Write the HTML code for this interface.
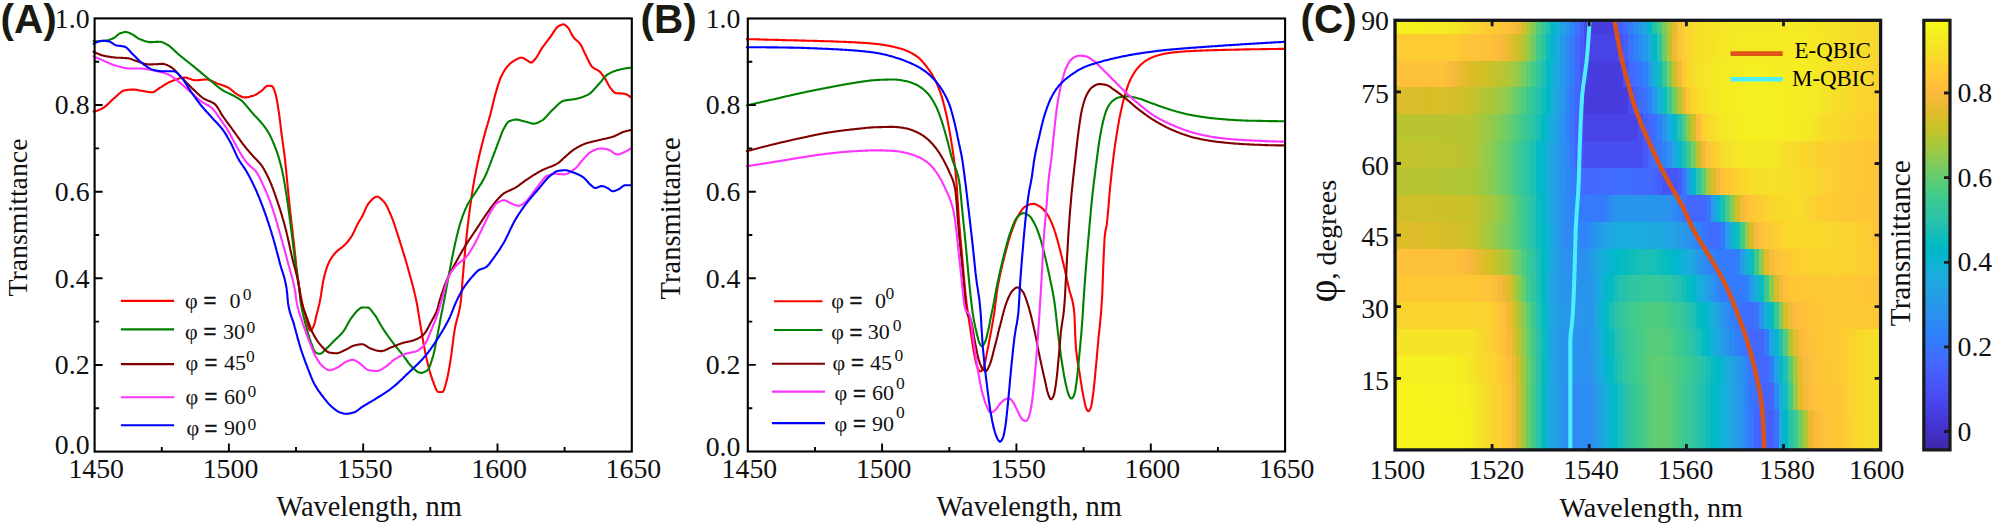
<!DOCTYPE html>
<html><head><meta charset="utf-8"><title>Figure</title>
<style>
html,body{margin:0;padding:0;background:#fff}
svg{display:block}
.tk{font-family:"Liberation Serif","DejaVu Serif",serif;font-size:27.8px;fill:#111}
.al{font-family:"Liberation Serif","DejaVu Serif",serif;font-size:28.4px;fill:#111}
.pl{font-family:"Liberation Sans","DejaVu Sans",sans-serif;font-size:40.5px;font-weight:bold;fill:#1a1a10}
.lg{font-family:"Liberation Serif","DejaVu Serif",serif;font-size:22px;fill:#111}
.eq{font-family:"Liberation Sans","DejaVu Sans",sans-serif;font-size:22px;fill:#111;stroke:#111;stroke-width:0.5px}
.sup{font-family:"Liberation Serif","DejaVu Serif",serif;font-size:17.5px;fill:#111}
.cl{font-family:"Liberation Serif","DejaVu Serif",serif;font-size:22.9px;fill:#000}
</style></head><body>
<svg width="1995" height="528" viewBox="0 0 1995 528">
<rect width="1995" height="528" fill="#fff"/>
<path d="M93.6 111.6 L94.3 111.5 L95.1 111.3 L95.8 111.1 L96.6 110.9 L97.3 110.6 L98.1 110.4 L98.8 110.0 L99.6 109.7 L100.3 109.4 L101.1 109.0 L101.8 108.6 L102.6 108.3 L103.3 107.8 L104.1 107.4 L104.8 106.8 L105.6 106.2 L106.3 105.6 L107.1 104.9 L107.8 104.2 L108.6 103.5 L109.3 102.7 L110.1 102.0 L110.8 101.2 L111.6 100.5 L112.3 99.8 L113.1 99.1 L113.8 98.5 L114.6 97.9 L115.3 97.2 L116.1 96.5 L116.8 95.8 L117.6 95.1 L118.3 94.4 L119.1 93.7 L119.8 93.1 L120.6 92.5 L121.3 91.9 L122.1 91.4 L122.8 91.0 L123.6 90.7 L124.3 90.4 L125.1 90.3 L125.8 90.2 L126.6 90.1 L127.3 90.0 L128.1 89.9 L128.8 89.8 L129.6 89.7 L130.3 89.6 L131.1 89.6 L131.8 89.6 L132.6 89.5 L133.3 89.6 L134.1 89.6 L134.8 89.6 L135.6 89.7 L136.3 89.8 L137.1 89.9 L137.8 90.1 L138.6 90.2 L139.3 90.4 L140.1 90.5 L140.8 90.7 L141.6 90.8 L142.3 90.9 L143.1 91.1 L143.8 91.2 L144.6 91.3 L145.3 91.4 L146.1 91.6 L146.8 91.7 L147.6 91.8 L148.3 91.9 L149.1 92.1 L149.8 92.1 L150.6 92.2 L151.3 92.3 L152.1 92.3 L152.8 92.2 L153.6 92.0 L154.3 91.6 L155.1 91.2 L155.8 90.7 L156.6 90.2 L157.3 89.6 L158.1 89.0 L158.8 88.5 L159.6 88.0 L160.3 87.5 L161.1 87.1 L161.8 86.6 L162.6 86.2 L163.3 85.7 L164.1 85.2 L164.8 84.7 L165.6 84.3 L166.3 83.8 L167.1 83.4 L167.8 82.9 L168.6 82.5 L169.3 82.1 L170.1 81.8 L170.8 81.5 L171.6 81.2 L172.3 80.9 L173.1 80.6 L173.8 80.3 L174.6 80.0 L175.3 79.7 L176.1 79.4 L176.8 79.2 L177.6 78.9 L178.3 78.7 L179.1 78.4 L179.8 78.2 L180.6 78.0 L181.3 77.9 L182.1 77.8 L182.8 77.7 L183.6 77.6 L184.3 77.5 L185.1 77.6 L185.8 77.6 L186.6 77.8 L187.3 77.9 L188.1 78.2 L188.8 78.4 L189.6 78.7 L190.3 79.0 L191.1 79.2 L191.8 79.5 L192.6 79.8 L193.3 80.0 L194.1 80.1 L194.8 80.2 L195.6 80.3 L196.3 80.3 L197.1 80.2 L197.8 80.2 L198.6 80.1 L199.3 80.1 L200.1 80.0 L200.8 79.9 L201.6 79.8 L202.3 79.7 L203.1 79.6 L203.8 79.6 L204.6 79.5 L205.3 79.5 L206.1 79.5 L206.8 79.5 L207.6 79.5 L208.3 79.7 L209.1 79.9 L209.8 80.1 L210.6 80.4 L211.3 80.7 L212.1 81.0 L212.8 81.4 L213.6 81.8 L214.3 82.1 L215.1 82.5 L215.8 82.9 L216.6 83.2 L217.3 83.5 L218.1 83.8 L218.8 84.0 L219.6 84.3 L220.3 84.6 L221.1 84.8 L221.8 85.0 L222.6 85.3 L223.3 85.6 L224.1 85.8 L224.8 86.1 L225.6 86.4 L226.3 86.7 L227.1 87.0 L227.8 87.4 L228.6 87.8 L229.3 88.2 L230.1 88.8 L230.8 89.3 L231.6 90.0 L232.3 90.6 L233.1 91.3 L233.8 91.9 L234.6 92.6 L235.3 93.1 L236.1 93.6 L236.8 94.1 L237.6 94.5 L238.3 95.0 L239.1 95.4 L239.8 95.8 L240.6 96.2 L241.3 96.6 L242.1 96.9 L242.8 97.2 L243.6 97.3 L244.3 97.4 L245.1 97.4 L245.8 97.4 L246.6 97.3 L247.3 97.2 L248.1 97.1 L248.8 96.9 L249.6 96.8 L250.3 96.6 L251.1 96.3 L251.8 96.1 L252.6 95.9 L253.3 95.7 L254.1 95.4 L254.8 95.1 L255.6 94.7 L256.4 94.3 L257.1 93.8 L257.9 93.3 L258.6 92.9 L259.4 92.4 L260.1 91.8 L260.9 91.3 L261.6 90.8 L262.4 90.1 L263.1 89.4 L263.9 88.6 L264.6 87.8 L265.4 87.1 L266.1 86.4 L266.9 86.0 L267.6 85.8 L268.4 85.7 L269.1 85.8 L269.9 85.9 L270.6 86.0 L271.4 86.1 L272.1 86.3 L272.9 87.0 L273.6 88.5 L274.4 90.4 L275.1 92.6 L275.9 95.1 L276.6 98.7 L277.4 102.9 L278.1 107.5 L278.9 112.4 L279.6 117.9 L280.4 124.1 L281.1 130.5 L281.9 136.3 L282.6 141.6 L283.4 146.8 L284.1 152.3 L284.9 158.3 L285.6 165.4 L286.4 173.1 L287.1 180.8 L287.9 188.5 L288.6 196.1 L289.4 203.5 L290.1 210.5 L290.9 217.2 L291.6 223.6 L292.4 229.9 L293.1 236.3 L293.9 242.8 L294.6 249.9 L295.4 257.2 L296.1 264.3 L296.9 270.7 L297.6 276.2 L298.4 281.3 L299.1 286.2 L299.9 290.7 L300.6 294.9 L301.4 298.8 L302.1 302.5 L302.9 305.9 L303.6 309.1 L304.4 312.1 L305.1 314.9 L305.9 317.5 L306.6 320.2 L307.4 323.2 L308.1 326.1 L308.9 328.6 L309.6 330.2 L310.4 330.6 L311.1 330.2 L311.9 329.3 L312.6 328.1 L313.4 326.7 L314.1 324.9 L314.9 322.2 L315.6 319.0 L316.4 315.6 L317.1 312.5 L317.9 309.7 L318.6 306.8 L319.4 303.7 L320.1 300.1 L320.9 295.7 L321.6 290.8 L322.4 285.9 L323.1 281.4 L323.9 277.9 L324.6 275.0 L325.4 272.2 L326.1 269.8 L326.9 267.5 L327.6 265.4 L328.4 263.6 L329.1 262.0 L329.9 260.5 L330.6 259.2 L331.4 258.0 L332.1 256.9 L332.9 255.9 L333.6 254.9 L334.4 254.0 L335.1 253.2 L335.9 252.3 L336.6 251.6 L337.4 250.9 L338.1 250.2 L338.9 249.6 L339.6 249.0 L340.4 248.5 L341.1 247.9 L341.9 247.4 L342.6 246.8 L343.4 246.1 L344.1 245.4 L344.9 244.7 L345.6 243.9 L346.4 243.1 L347.1 242.3 L347.9 241.4 L348.6 240.5 L349.4 239.5 L350.1 238.5 L350.9 237.4 L351.6 236.3 L352.4 234.9 L353.1 233.5 L353.9 231.9 L354.6 230.3 L355.4 228.7 L356.1 227.1 L356.9 225.5 L357.6 224.0 L358.4 222.7 L359.1 221.4 L359.9 220.2 L360.6 219.0 L361.4 217.8 L362.1 216.5 L362.9 215.0 L363.6 213.4 L364.4 211.7 L365.1 209.9 L365.9 208.2 L366.6 206.6 L367.4 205.2 L368.1 203.9 L368.9 203.0 L369.6 202.1 L370.4 201.3 L371.1 200.5 L371.9 199.7 L372.6 199.0 L373.4 198.3 L374.1 197.8 L374.9 197.3 L375.6 197.0 L376.4 196.8 L377.1 196.7 L377.9 196.8 L378.6 197.1 L379.4 197.5 L380.1 198.0 L380.9 198.7 L381.6 199.4 L382.4 200.1 L383.1 200.9 L383.9 201.7 L384.6 202.6 L385.4 203.6 L386.1 204.9 L386.9 206.3 L387.6 207.8 L388.4 209.4 L389.1 211.1 L389.9 212.8 L390.6 214.6 L391.4 216.4 L392.1 218.2 L392.9 220.1 L393.6 222.1 L394.4 224.3 L395.1 226.5 L395.9 228.8 L396.6 231.1 L397.4 233.5 L398.1 235.9 L398.9 238.3 L399.6 240.7 L400.4 243.1 L401.1 245.5 L401.9 247.8 L402.6 250.3 L403.4 252.7 L404.1 255.2 L404.9 257.6 L405.6 260.2 L406.4 262.7 L407.1 265.3 L407.9 268.0 L408.6 270.7 L409.4 273.4 L410.1 276.0 L410.9 278.7 L411.6 281.4 L412.4 284.2 L413.1 287.1 L413.9 290.1 L414.6 293.2 L415.4 296.4 L416.1 299.9 L416.9 303.5 L417.6 307.7 L418.4 312.3 L419.1 317.1 L419.9 321.8 L420.6 326.3 L421.4 330.7 L422.1 335.1 L422.9 339.5 L423.6 343.8 L424.4 348.0 L425.1 351.9 L425.9 355.5 L426.6 358.8 L427.4 361.9 L428.1 365.0 L428.9 367.9 L429.6 370.8 L430.4 373.4 L431.1 375.9 L431.9 378.2 L432.6 380.3 L433.4 382.2 L434.1 384.3 L434.9 386.3 L435.6 388.2 L436.4 389.8 L437.1 391.1 L437.9 391.8 L438.6 392.0 L439.4 392.0 L440.1 392.0 L440.9 392.0 L441.6 392.0 L442.4 392.0 L443.1 391.6 L443.9 390.2 L444.6 388.0 L445.4 385.5 L446.1 382.7 L446.9 379.9 L447.6 376.7 L448.4 372.8 L449.1 368.6 L449.9 364.1 L450.6 359.5 L451.4 354.4 L452.1 348.7 L452.9 342.7 L453.6 336.8 L454.4 331.6 L455.1 327.3 L455.9 323.8 L456.6 320.8 L457.4 318.1 L458.1 315.3 L458.9 312.4 L459.6 308.8 L460.4 304.5 L461.1 298.7 L461.9 289.4 L462.6 279.1 L463.4 270.1 L464.1 261.6 L464.9 253.3 L465.6 245.6 L466.4 238.4 L467.1 231.5 L467.9 224.9 L468.6 218.7 L469.4 212.7 L470.1 207.0 L470.9 201.6 L471.6 196.4 L472.4 191.5 L473.1 186.8 L473.9 182.4 L474.6 178.2 L475.4 174.2 L476.1 170.3 L476.9 166.7 L477.6 163.1 L478.4 159.7 L479.1 156.3 L479.9 153.1 L480.6 150.0 L481.4 146.9 L482.1 144.0 L482.9 141.1 L483.6 138.2 L484.4 135.4 L485.1 132.6 L485.9 129.9 L486.6 127.4 L487.4 124.8 L488.1 122.3 L488.9 119.7 L489.6 117.0 L490.4 114.3 L491.1 111.3 L491.9 108.2 L492.6 105.1 L493.4 101.9 L494.1 98.9 L494.9 95.9 L495.6 93.2 L496.4 90.6 L497.1 88.1 L497.9 85.6 L498.6 83.3 L499.4 81.1 L500.1 79.0 L500.9 77.2 L501.6 75.7 L502.4 74.2 L503.1 72.8 L503.9 71.5 L504.6 70.2 L505.4 69.1 L506.1 68.0 L506.9 67.0 L507.6 66.2 L508.4 65.4 L509.1 64.6 L509.9 63.9 L510.6 63.2 L511.4 62.6 L512.1 62.0 L512.9 61.5 L513.6 61.0 L514.4 60.6 L515.1 60.2 L515.9 59.7 L516.6 59.3 L517.4 58.9 L518.1 58.6 L518.9 58.2 L519.6 58.0 L520.4 57.8 L521.1 57.7 L521.9 57.7 L522.6 57.8 L523.4 58.1 L524.1 58.5 L524.9 59.0 L525.6 59.5 L526.4 60.0 L527.1 60.4 L527.9 60.9 L528.6 61.4 L529.4 61.9 L530.1 62.3 L530.9 62.5 L531.6 62.5 L532.4 62.0 L533.1 61.4 L533.9 60.5 L534.6 59.7 L535.4 58.8 L536.1 57.9 L536.9 56.8 L537.6 55.6 L538.4 54.3 L539.1 52.9 L539.9 51.6 L540.6 50.3 L541.4 49.1 L542.1 47.9 L542.9 46.9 L543.6 45.8 L544.4 44.8 L545.1 43.8 L545.9 42.8 L546.6 41.8 L547.4 40.9 L548.1 39.9 L548.9 38.9 L549.6 38.0 L550.4 37.0 L551.1 35.9 L551.9 34.7 L552.6 33.6 L553.4 32.4 L554.1 31.2 L554.9 30.1 L555.6 29.0 L556.4 28.1 L557.1 27.3 L557.9 26.6 L558.6 26.1 L559.4 25.7 L560.1 25.3 L560.9 25.0 L561.6 24.7 L562.4 24.5 L563.1 24.4 L563.9 24.4 L564.6 24.7 L565.4 25.2 L566.1 25.9 L566.9 26.6 L567.6 27.3 L568.4 28.1 L569.1 29.3 L569.9 30.6 L570.6 32.1 L571.4 33.7 L572.1 35.2 L572.9 36.4 L573.6 37.5 L574.4 38.3 L575.1 39.1 L575.9 39.8 L576.6 40.4 L577.4 41.0 L578.1 41.7 L578.9 42.4 L579.6 43.3 L580.4 44.2 L581.1 45.4 L581.9 46.9 L582.6 48.4 L583.4 50.1 L584.1 51.7 L584.9 53.3 L585.6 54.8 L586.4 56.3 L587.1 57.9 L587.9 59.4 L588.6 61.0 L589.4 62.5 L590.1 63.9 L590.9 65.2 L591.6 66.2 L592.4 67.1 L593.1 67.7 L593.9 68.2 L594.6 68.7 L595.4 69.1 L596.1 69.4 L596.9 69.8 L597.6 70.2 L598.4 70.6 L599.1 71.1 L599.9 71.8 L600.6 72.6 L601.4 73.4 L602.1 74.4 L602.9 75.4 L603.6 76.5 L604.4 77.5 L605.1 78.7 L605.9 79.9 L606.6 81.3 L607.4 82.8 L608.1 84.2 L608.9 85.6 L609.6 86.8 L610.4 87.9 L611.1 88.8 L611.9 89.8 L612.6 90.8 L613.4 91.6 L614.1 92.3 L614.9 92.8 L615.6 93.1 L616.4 93.2 L617.1 93.2 L617.9 93.3 L618.6 93.3 L619.4 93.4 L620.1 93.4 L620.9 93.4 L621.6 93.5 L622.4 93.5 L623.1 93.6 L623.9 93.6 L624.6 93.8 L625.4 94.0 L626.1 94.3 L626.9 94.6 L627.6 95.0 L628.4 95.5 L629.1 96.0 L629.9 96.5 L630.6 97.1 L631.4 97.6" fill="none" stroke="#ff0000" stroke-width="2.1" stroke-linejoin="round" stroke-linecap="round"/>
<path d="M93.6 41.3 L94.3 41.3 L95.1 41.3 L95.8 41.3 L96.6 41.2 L97.3 41.2 L98.1 41.2 L98.8 41.2 L99.6 41.1 L100.3 41.1 L101.1 41.0 L101.8 41.0 L102.6 41.0 L103.3 40.9 L104.1 40.8 L104.8 40.8 L105.6 40.7 L106.3 40.6 L107.1 40.5 L107.8 40.3 L108.6 40.1 L109.3 39.9 L110.1 39.6 L110.8 39.3 L111.6 39.0 L112.3 38.7 L113.1 38.3 L113.8 38.0 L114.6 37.6 L115.3 37.0 L116.1 36.4 L116.8 35.7 L117.6 35.1 L118.3 34.5 L119.1 33.9 L119.8 33.4 L120.6 33.1 L121.3 32.9 L122.1 32.7 L122.8 32.5 L123.6 32.3 L124.3 32.1 L125.1 32.0 L125.8 32.0 L126.6 32.0 L127.3 32.2 L128.1 32.4 L128.8 32.7 L129.6 33.0 L130.3 33.4 L131.1 33.7 L131.8 34.1 L132.6 34.5 L133.3 34.9 L134.1 35.4 L134.8 36.0 L135.6 36.5 L136.3 37.1 L137.1 37.6 L137.8 38.1 L138.6 38.6 L139.3 38.9 L140.1 39.2 L140.8 39.5 L141.6 39.8 L142.3 40.1 L143.1 40.4 L143.8 40.7 L144.6 40.9 L145.3 41.2 L146.1 41.4 L146.8 41.6 L147.6 41.8 L148.3 41.9 L149.1 42.0 L149.8 42.1 L150.6 42.1 L151.3 42.1 L152.1 42.1 L152.8 42.1 L153.6 42.0 L154.3 42.0 L155.1 42.0 L155.8 41.9 L156.6 41.9 L157.3 41.9 L158.1 41.9 L158.8 41.8 L159.6 41.8 L160.3 41.8 L161.1 41.9 L161.8 42.1 L162.6 42.3 L163.3 42.6 L164.1 43.0 L164.8 43.4 L165.6 43.8 L166.3 44.2 L167.1 44.6 L167.8 45.0 L168.6 45.5 L169.3 46.0 L170.1 46.6 L170.8 47.2 L171.6 47.9 L172.3 48.5 L173.1 49.2 L173.8 49.9 L174.6 50.7 L175.3 51.4 L176.1 52.1 L176.8 52.8 L177.6 53.5 L178.3 54.1 L179.1 54.8 L179.8 55.4 L180.6 56.0 L181.3 56.6 L182.1 57.2 L182.8 57.8 L183.6 58.4 L184.3 59.0 L185.1 59.6 L185.8 60.2 L186.6 60.8 L187.3 61.4 L188.1 62.0 L188.8 62.6 L189.6 63.2 L190.3 63.8 L191.1 64.4 L191.8 65.0 L192.6 65.6 L193.3 66.2 L194.1 66.8 L194.8 67.4 L195.6 68.0 L196.3 68.7 L197.1 69.3 L197.8 69.9 L198.6 70.5 L199.3 71.2 L200.1 71.8 L200.8 72.4 L201.6 73.1 L202.3 73.7 L203.1 74.3 L203.8 75.0 L204.6 75.6 L205.3 76.2 L206.1 76.8 L206.8 77.5 L207.6 78.1 L208.3 78.7 L209.1 79.3 L209.8 79.9 L210.6 80.6 L211.3 81.2 L212.1 81.8 L212.8 82.5 L213.6 83.1 L214.3 83.8 L215.1 84.4 L215.8 85.1 L216.6 85.7 L217.3 86.3 L218.1 86.9 L218.8 87.5 L219.6 88.1 L220.3 88.6 L221.1 89.2 L221.8 89.7 L222.6 90.2 L223.3 90.6 L224.1 91.1 L224.8 91.5 L225.6 91.9 L226.3 92.2 L227.1 92.6 L227.8 92.9 L228.6 93.3 L229.3 93.6 L230.1 94.0 L230.8 94.3 L231.6 94.7 L232.3 95.0 L233.1 95.4 L233.8 95.8 L234.6 96.2 L235.3 96.6 L236.1 97.1 L236.8 97.5 L237.6 97.9 L238.3 98.4 L239.1 98.8 L239.8 99.3 L240.6 99.9 L241.3 100.5 L242.1 101.1 L242.8 101.8 L243.6 102.6 L244.3 103.4 L245.1 104.2 L245.8 105.1 L246.6 106.0 L247.3 106.9 L248.1 107.8 L248.8 108.7 L249.6 109.6 L250.3 110.5 L251.1 111.4 L251.8 112.3 L252.6 113.2 L253.3 114.0 L254.1 114.9 L254.8 115.7 L255.6 116.5 L256.4 117.3 L257.1 118.1 L257.9 118.9 L258.6 119.7 L259.4 120.5 L260.1 121.3 L260.9 122.2 L261.6 123.1 L262.4 124.0 L263.1 124.9 L263.9 125.9 L264.6 126.9 L265.4 127.9 L266.1 128.9 L266.9 130.0 L267.6 131.2 L268.4 132.4 L269.1 133.7 L269.9 135.1 L270.6 136.6 L271.4 138.2 L272.1 139.9 L272.9 141.6 L273.6 143.5 L274.4 145.3 L275.1 147.2 L275.9 149.2 L276.6 151.2 L277.4 153.4 L278.1 155.7 L278.9 158.1 L279.6 160.7 L280.4 163.5 L281.1 166.4 L281.9 169.5 L282.6 172.9 L283.4 176.6 L284.1 180.7 L284.9 185.1 L285.6 189.8 L286.4 194.6 L287.1 199.6 L287.9 204.7 L288.6 210.1 L289.4 215.7 L290.1 221.3 L290.9 227.1 L291.6 232.9 L292.4 239.0 L293.1 245.2 L293.9 251.3 L294.6 257.3 L295.4 262.9 L296.1 267.9 L296.9 272.5 L297.6 277.2 L298.4 282.1 L299.1 287.5 L299.9 294.6 L300.6 301.8 L301.4 306.4 L302.1 310.3 L302.9 313.6 L303.6 316.7 L304.4 319.6 L305.1 322.6 L305.9 325.5 L306.6 328.4 L307.4 331.1 L308.1 333.8 L308.9 336.2 L309.6 338.5 L310.4 340.7 L311.1 342.8 L311.9 344.9 L312.6 347.0 L313.4 348.9 L314.1 350.5 L314.9 351.7 L315.6 352.4 L316.4 352.8 L317.1 353.2 L317.9 353.5 L318.6 353.7 L319.4 353.8 L320.1 353.8 L320.9 353.6 L321.6 353.1 L322.4 352.6 L323.1 351.9 L323.9 351.1 L324.6 350.3 L325.4 349.5 L326.1 348.8 L326.9 348.1 L327.6 347.4 L328.4 346.7 L329.1 345.9 L329.9 345.2 L330.6 344.4 L331.4 343.6 L332.1 342.9 L332.9 342.1 L333.6 341.3 L334.4 340.6 L335.1 339.8 L335.9 339.1 L336.6 338.4 L337.4 337.7 L338.1 337.0 L338.9 336.3 L339.6 335.6 L340.4 334.9 L341.1 334.1 L341.9 333.3 L342.6 332.4 L343.4 331.4 L344.1 330.3 L344.9 329.1 L345.6 327.9 L346.4 326.5 L347.1 325.1 L347.9 323.8 L348.6 322.4 L349.4 321.1 L350.1 319.8 L350.9 318.7 L351.6 317.7 L352.4 316.6 L353.1 315.6 L353.9 314.6 L354.6 313.7 L355.4 312.8 L356.1 311.9 L356.9 311.1 L357.6 310.4 L358.4 309.8 L359.1 309.1 L359.9 308.5 L360.6 307.9 L361.4 307.6 L362.1 307.5 L362.9 307.5 L363.6 307.5 L364.4 307.5 L365.1 307.5 L365.9 307.5 L366.6 307.5 L367.4 307.5 L368.1 307.6 L368.9 307.9 L369.6 308.5 L370.4 309.2 L371.1 310.1 L371.9 311.1 L372.6 312.1 L373.4 313.1 L374.1 314.1 L374.9 315.0 L375.6 316.1 L376.4 317.3 L377.1 318.5 L377.9 319.9 L378.6 321.2 L379.4 322.6 L380.1 323.9 L380.9 325.3 L381.6 326.5 L382.4 327.7 L383.1 328.9 L383.9 330.0 L384.6 331.2 L385.4 332.3 L386.1 333.4 L386.9 334.4 L387.6 335.5 L388.4 336.6 L389.1 337.6 L389.9 338.6 L390.6 339.7 L391.4 340.7 L392.1 341.7 L392.9 342.7 L393.6 343.6 L394.4 344.6 L395.1 345.5 L395.9 346.5 L396.6 347.4 L397.4 348.3 L398.1 349.2 L398.9 350.2 L399.6 351.1 L400.4 352.0 L401.1 352.9 L401.9 353.9 L402.6 354.8 L403.4 355.7 L404.1 356.8 L404.9 357.8 L405.6 358.8 L406.4 359.9 L407.1 361.0 L407.9 362.0 L408.6 363.1 L409.4 364.0 L410.1 365.0 L410.9 365.8 L411.6 366.6 L412.4 367.4 L413.1 368.0 L413.9 368.7 L414.6 369.4 L415.4 370.1 L416.1 370.7 L416.9 371.3 L417.6 371.8 L418.4 372.3 L419.1 372.6 L419.9 372.8 L420.6 372.9 L421.4 372.9 L422.1 372.8 L422.9 372.6 L423.6 372.3 L424.4 372.0 L425.1 371.6 L425.9 371.2 L426.6 370.8 L427.4 370.3 L428.1 369.5 L428.9 368.3 L429.6 366.6 L430.4 364.7 L431.1 362.4 L431.9 360.0 L432.6 357.6 L433.4 355.0 L434.1 351.9 L434.9 348.4 L435.6 344.6 L436.4 340.7 L437.1 337.0 L437.9 333.1 L438.6 329.1 L439.4 325.0 L440.1 320.9 L440.9 316.9 L441.6 313.0 L442.4 309.3 L443.1 305.6 L443.9 301.8 L444.6 297.9 L445.4 293.8 L446.1 289.7 L446.9 285.6 L447.6 281.5 L448.4 277.4 L449.1 273.4 L449.9 269.5 L450.6 265.6 L451.4 261.7 L452.1 257.9 L452.9 254.1 L453.6 250.5 L454.4 247.0 L455.1 243.6 L455.9 240.3 L456.6 237.1 L457.4 233.9 L458.1 230.9 L458.9 228.0 L459.6 225.4 L460.4 222.9 L461.1 220.6 L461.9 218.4 L462.6 216.2 L463.4 214.2 L464.1 212.3 L464.9 210.4 L465.6 208.7 L466.4 207.1 L467.1 205.5 L467.9 204.1 L468.6 202.8 L469.4 201.5 L470.1 200.3 L470.9 199.2 L471.6 198.0 L472.4 197.0 L473.1 195.9 L473.9 194.8 L474.6 193.7 L475.4 192.6 L476.1 191.4 L476.9 190.2 L477.6 189.0 L478.4 187.9 L479.1 186.7 L479.9 185.5 L480.6 184.4 L481.4 183.2 L482.1 181.9 L482.9 180.6 L483.6 179.3 L484.4 177.8 L485.1 176.3 L485.9 174.7 L486.6 173.0 L487.4 171.1 L488.1 169.2 L488.9 167.3 L489.6 165.3 L490.4 163.3 L491.1 161.3 L491.9 159.3 L492.6 157.4 L493.4 155.4 L494.1 153.5 L494.9 151.5 L495.6 149.5 L496.4 147.5 L497.1 145.5 L497.9 143.5 L498.6 141.6 L499.4 139.6 L500.1 137.5 L500.9 135.5 L501.6 133.5 L502.4 131.6 L503.1 129.9 L503.9 128.5 L504.6 127.2 L505.4 125.9 L506.1 124.6 L506.9 123.5 L507.6 122.5 L508.4 121.8 L509.1 121.3 L509.9 120.9 L510.6 120.7 L511.4 120.4 L512.1 120.2 L512.9 120.0 L513.6 119.8 L514.4 119.7 L515.1 119.6 L515.9 119.5 L516.6 119.6 L517.4 119.6 L518.1 119.7 L518.9 119.9 L519.6 120.0 L520.4 120.2 L521.1 120.4 L521.9 120.7 L522.6 120.9 L523.4 121.1 L524.1 121.3 L524.9 121.5 L525.6 121.7 L526.4 121.9 L527.1 122.1 L527.9 122.3 L528.6 122.6 L529.4 122.8 L530.1 123.0 L530.9 123.2 L531.6 123.4 L532.4 123.5 L533.1 123.6 L533.9 123.6 L534.6 123.6 L535.4 123.5 L536.1 123.3 L536.9 123.0 L537.6 122.7 L538.4 122.4 L539.1 122.0 L539.9 121.6 L540.6 121.2 L541.4 120.7 L542.1 120.3 L542.9 119.8 L543.6 119.3 L544.4 118.6 L545.1 117.9 L545.9 117.1 L546.6 116.3 L547.4 115.5 L548.1 114.6 L548.9 113.8 L549.6 112.9 L550.4 112.0 L551.1 111.2 L551.9 110.5 L552.6 109.7 L553.4 109.1 L554.1 108.4 L554.9 107.6 L555.6 106.9 L556.4 106.1 L557.1 105.4 L557.9 104.7 L558.6 104.0 L559.4 103.4 L560.1 102.7 L560.9 102.2 L561.6 101.7 L562.4 101.3 L563.1 101.0 L563.9 100.7 L564.6 100.5 L565.4 100.4 L566.1 100.3 L566.9 100.1 L567.6 100.0 L568.4 99.9 L569.1 99.9 L569.9 99.8 L570.6 99.7 L571.4 99.6 L572.1 99.5 L572.9 99.4 L573.6 99.3 L574.4 99.2 L575.1 99.0 L575.9 98.9 L576.6 98.7 L577.4 98.5 L578.1 98.3 L578.9 98.1 L579.6 97.9 L580.4 97.7 L581.1 97.4 L581.9 97.2 L582.6 96.9 L583.4 96.7 L584.1 96.4 L584.9 96.1 L585.6 95.8 L586.4 95.4 L587.1 95.1 L587.9 94.7 L588.6 94.3 L589.4 93.9 L590.1 93.3 L590.9 92.7 L591.6 92.0 L592.4 91.3 L593.1 90.5 L593.9 89.7 L594.6 88.8 L595.4 88.0 L596.1 87.1 L596.9 86.2 L597.6 85.4 L598.4 84.5 L599.1 83.7 L599.9 82.9 L600.6 82.0 L601.4 81.1 L602.1 80.2 L602.9 79.2 L603.6 78.3 L604.4 77.4 L605.1 76.6 L605.9 75.8 L606.6 75.2 L607.4 74.6 L608.1 74.1 L608.9 73.7 L609.6 73.3 L610.4 72.9 L611.1 72.5 L611.9 72.2 L612.6 71.8 L613.4 71.5 L614.1 71.2 L614.9 70.9 L615.6 70.7 L616.4 70.5 L617.1 70.2 L617.9 70.0 L618.6 69.9 L619.4 69.7 L620.1 69.5 L620.9 69.3 L621.6 69.2 L622.4 69.0 L623.1 68.8 L623.9 68.7 L624.6 68.5 L625.4 68.4 L626.1 68.3 L626.9 68.2 L627.6 68.1 L628.4 68.0 L629.1 67.9 L629.9 67.8 L630.6 67.8 L631.4 67.7" fill="none" stroke="#008000" stroke-width="2.1" stroke-linejoin="round" stroke-linecap="round"/>
<path d="M93.6 51.6 L94.3 52.0 L95.1 52.4 L95.8 52.8 L96.6 53.1 L97.3 53.5 L98.1 53.8 L98.8 54.1 L99.6 54.4 L100.3 54.7 L101.1 54.9 L101.8 55.2 L102.6 55.4 L103.3 55.6 L104.1 55.7 L104.8 55.9 L105.6 56.1 L106.3 56.2 L107.1 56.4 L107.8 56.5 L108.6 56.6 L109.3 56.8 L110.1 56.9 L110.8 57.0 L111.6 57.1 L112.3 57.2 L113.1 57.3 L113.8 57.4 L114.6 57.5 L115.3 57.5 L116.1 57.6 L116.8 57.7 L117.6 57.7 L118.3 57.7 L119.1 57.8 L119.8 57.8 L120.6 57.8 L121.3 57.9 L122.1 57.9 L122.8 57.9 L123.6 58.0 L124.3 58.0 L125.1 58.0 L125.8 58.1 L126.6 58.1 L127.3 58.2 L128.1 58.3 L128.8 58.4 L129.6 58.6 L130.3 58.8 L131.1 59.0 L131.8 59.3 L132.6 59.6 L133.3 59.9 L134.1 60.2 L134.8 60.5 L135.6 60.8 L136.3 61.1 L137.1 61.3 L137.8 61.6 L138.6 61.8 L139.3 62.0 L140.1 62.3 L140.8 62.5 L141.6 62.8 L142.3 63.0 L143.1 63.3 L143.8 63.5 L144.6 63.7 L145.3 63.9 L146.1 64.1 L146.8 64.2 L147.6 64.3 L148.3 64.4 L149.1 64.5 L149.8 64.5 L150.6 64.4 L151.3 64.4 L152.1 64.4 L152.8 64.4 L153.6 64.3 L154.3 64.3 L155.1 64.2 L155.8 64.2 L156.6 64.2 L157.3 64.1 L158.1 64.1 L158.8 64.0 L159.6 64.0 L160.3 64.0 L161.1 63.9 L161.8 63.9 L162.6 63.9 L163.3 63.9 L164.1 64.0 L164.8 64.2 L165.6 64.4 L166.3 64.7 L167.1 65.0 L167.8 65.4 L168.6 65.8 L169.3 66.2 L170.1 66.6 L170.8 67.0 L171.6 67.5 L172.3 68.0 L173.1 68.6 L173.8 69.3 L174.6 70.0 L175.3 70.7 L176.1 71.5 L176.8 72.4 L177.6 73.2 L178.3 74.1 L179.1 74.9 L179.8 75.8 L180.6 76.6 L181.3 77.4 L182.1 78.2 L182.8 78.9 L183.6 79.7 L184.3 80.5 L185.1 81.2 L185.8 82.0 L186.6 82.8 L187.3 83.5 L188.1 84.3 L188.8 85.0 L189.6 85.8 L190.3 86.5 L191.1 87.3 L191.8 88.0 L192.6 88.7 L193.3 89.4 L194.1 90.1 L194.8 90.8 L195.6 91.6 L196.3 92.3 L197.1 93.0 L197.8 93.7 L198.6 94.4 L199.3 95.1 L200.1 95.7 L200.8 96.4 L201.6 97.0 L202.3 97.5 L203.1 98.1 L203.8 98.6 L204.6 99.0 L205.3 99.4 L206.1 99.8 L206.8 100.1 L207.6 100.4 L208.3 100.7 L209.1 101.0 L209.8 101.3 L210.6 101.6 L211.3 102.0 L212.1 102.3 L212.8 102.8 L213.6 103.2 L214.3 103.7 L215.1 104.3 L215.8 105.1 L216.6 106.0 L217.3 107.1 L218.1 108.3 L218.8 109.5 L219.6 110.8 L220.3 112.1 L221.1 113.4 L221.8 114.6 L222.6 115.8 L223.3 116.9 L224.1 118.0 L224.8 119.0 L225.6 120.1 L226.3 121.1 L227.1 122.1 L227.8 123.2 L228.6 124.2 L229.3 125.2 L230.1 126.2 L230.8 127.2 L231.6 128.2 L232.3 129.3 L233.1 130.3 L233.8 131.3 L234.6 132.4 L235.3 133.4 L236.1 134.5 L236.8 135.5 L237.6 136.6 L238.3 137.6 L239.1 138.7 L239.8 139.7 L240.6 140.8 L241.3 141.8 L242.1 142.8 L242.8 143.8 L243.6 144.8 L244.3 145.8 L245.1 146.7 L245.8 147.7 L246.6 148.6 L247.3 149.5 L248.1 150.4 L248.8 151.2 L249.6 152.1 L250.3 153.0 L251.1 153.8 L251.8 154.7 L252.6 155.5 L253.3 156.4 L254.1 157.2 L254.8 158.0 L255.6 158.8 L256.4 159.6 L257.1 160.4 L257.9 161.1 L258.6 161.9 L259.4 162.7 L260.1 163.6 L260.9 164.5 L261.6 165.5 L262.4 166.6 L263.1 167.8 L263.9 169.1 L264.6 170.4 L265.4 171.8 L266.1 173.2 L266.9 174.7 L267.6 176.3 L268.4 177.8 L269.1 179.4 L269.9 181.1 L270.6 182.8 L271.4 184.7 L272.1 186.6 L272.9 188.5 L273.6 190.6 L274.4 192.6 L275.1 194.8 L275.9 196.9 L276.6 199.1 L277.4 201.3 L278.1 203.6 L278.9 205.8 L279.6 208.2 L280.4 210.5 L281.1 212.9 L281.9 215.4 L282.6 218.0 L283.4 220.6 L284.1 223.2 L284.9 226.0 L285.6 228.8 L286.4 231.7 L287.1 234.9 L287.9 238.2 L288.6 241.6 L289.4 245.0 L290.1 248.5 L290.9 251.9 L291.6 255.2 L292.4 258.5 L293.1 261.5 L293.9 264.4 L294.6 267.2 L295.4 270.0 L296.1 272.9 L296.9 275.9 L297.6 279.3 L298.4 283.1 L299.1 287.8 L299.9 292.9 L300.6 297.7 L301.4 301.6 L302.1 304.4 L302.9 306.9 L303.6 309.1 L304.4 311.1 L305.1 313.0 L305.9 315.0 L306.6 317.1 L307.4 319.2 L308.1 321.3 L308.9 323.4 L309.6 325.5 L310.4 327.5 L311.1 329.4 L311.9 331.2 L312.6 332.8 L313.4 334.2 L314.1 335.6 L314.9 336.9 L315.6 338.2 L316.4 339.4 L317.1 340.5 L317.9 341.6 L318.6 342.6 L319.4 343.6 L320.1 344.5 L320.9 345.4 L321.6 346.2 L322.4 347.0 L323.1 347.8 L323.9 348.6 L324.6 349.4 L325.4 350.1 L326.1 350.7 L326.9 351.3 L327.6 351.8 L328.4 352.2 L329.1 352.4 L329.9 352.6 L330.6 352.7 L331.4 352.8 L332.1 353.0 L332.9 353.1 L333.6 353.1 L334.4 353.2 L335.1 353.3 L335.9 353.3 L336.6 353.3 L337.4 353.2 L338.1 353.0 L338.9 352.8 L339.6 352.5 L340.4 352.2 L341.1 351.9 L341.9 351.5 L342.6 351.2 L343.4 350.8 L344.1 350.4 L344.9 350.1 L345.6 349.7 L346.4 349.4 L347.1 349.0 L347.9 348.6 L348.6 348.2 L349.4 347.7 L350.1 347.3 L350.9 346.9 L351.6 346.5 L352.4 346.1 L353.1 345.8 L353.9 345.6 L354.6 345.4 L355.4 345.3 L356.1 345.1 L356.9 344.9 L357.6 344.8 L358.4 344.6 L359.1 344.5 L359.9 344.4 L360.6 344.3 L361.4 344.3 L362.1 344.3 L362.9 344.4 L363.6 344.6 L364.4 344.8 L365.1 345.2 L365.9 345.6 L366.6 346.1 L367.4 346.6 L368.1 347.1 L368.9 347.6 L369.6 348.0 L370.4 348.4 L371.1 348.8 L371.9 349.0 L372.6 349.2 L373.4 349.5 L374.1 349.7 L374.9 350.0 L375.6 350.2 L376.4 350.4 L377.1 350.6 L377.9 350.7 L378.6 350.9 L379.4 351.0 L380.1 351.1 L380.9 351.1 L381.6 351.1 L382.4 351.0 L383.1 350.8 L383.9 350.6 L384.6 350.4 L385.4 350.1 L386.1 349.8 L386.9 349.4 L387.6 349.0 L388.4 348.7 L389.1 348.3 L389.9 347.9 L390.6 347.6 L391.4 347.3 L392.1 347.0 L392.9 346.7 L393.6 346.4 L394.4 346.1 L395.1 345.8 L395.9 345.5 L396.6 345.2 L397.4 344.9 L398.1 344.6 L398.9 344.3 L399.6 344.0 L400.4 343.8 L401.1 343.5 L401.9 343.2 L402.6 343.0 L403.4 342.8 L404.1 342.6 L404.9 342.4 L405.6 342.2 L406.4 342.0 L407.1 341.9 L407.9 341.7 L408.6 341.6 L409.4 341.4 L410.1 341.2 L410.9 341.1 L411.6 340.9 L412.4 340.7 L413.1 340.4 L413.9 340.2 L414.6 339.9 L415.4 339.6 L416.1 339.3 L416.9 339.0 L417.6 338.6 L418.4 338.2 L419.1 337.8 L419.9 337.3 L420.6 336.8 L421.4 336.3 L422.1 335.8 L422.9 335.2 L423.6 334.5 L424.4 333.7 L425.1 332.7 L425.9 331.6 L426.6 330.4 L427.4 329.1 L428.1 327.7 L428.9 326.3 L429.6 324.8 L430.4 323.3 L431.1 321.9 L431.9 320.5 L432.6 319.2 L433.4 317.9 L434.1 316.6 L434.9 315.1 L435.6 313.6 L436.4 311.9 L437.1 309.9 L437.9 307.2 L438.6 304.2 L439.4 301.4 L440.1 299.0 L440.9 296.6 L441.6 294.2 L442.4 292.0 L443.1 289.8 L443.9 287.7 L444.6 285.6 L445.4 283.7 L446.1 281.8 L446.9 280.0 L447.6 278.3 L448.4 276.7 L449.1 275.1 L449.9 273.6 L450.6 272.1 L451.4 270.7 L452.1 269.2 L452.9 267.9 L453.6 266.5 L454.4 265.1 L455.1 263.7 L455.9 262.3 L456.6 260.9 L457.4 259.5 L458.1 258.2 L458.9 256.8 L459.6 255.5 L460.4 254.2 L461.1 252.9 L461.9 251.6 L462.6 250.3 L463.4 249.0 L464.1 247.8 L464.9 246.5 L465.6 245.3 L466.4 244.1 L467.1 242.9 L467.9 241.8 L468.6 240.6 L469.4 239.5 L470.1 238.4 L470.9 237.3 L471.6 236.2 L472.4 235.1 L473.1 234.0 L473.9 232.9 L474.6 231.8 L475.4 230.7 L476.1 229.6 L476.9 228.4 L477.6 227.3 L478.4 226.2 L479.1 225.0 L479.9 223.9 L480.6 222.7 L481.4 221.6 L482.1 220.4 L482.9 219.3 L483.6 218.2 L484.4 217.1 L485.1 215.9 L485.9 214.8 L486.6 213.8 L487.4 212.7 L488.1 211.6 L488.9 210.6 L489.6 209.5 L490.4 208.5 L491.1 207.4 L491.9 206.4 L492.6 205.4 L493.4 204.4 L494.1 203.5 L494.9 202.6 L495.6 201.7 L496.4 200.8 L497.1 200.0 L497.9 199.1 L498.6 198.3 L499.4 197.5 L500.1 196.7 L500.9 195.9 L501.6 195.2 L502.4 194.6 L503.1 194.0 L503.9 193.4 L504.6 192.9 L505.4 192.5 L506.1 192.1 L506.9 191.7 L507.6 191.3 L508.4 191.0 L509.1 190.7 L509.9 190.3 L510.6 190.0 L511.4 189.7 L512.1 189.3 L512.9 189.0 L513.6 188.6 L514.4 188.2 L515.1 187.8 L515.9 187.3 L516.6 186.8 L517.4 186.3 L518.1 185.8 L518.9 185.3 L519.6 184.8 L520.4 184.2 L521.1 183.7 L521.9 183.1 L522.6 182.6 L523.4 182.0 L524.1 181.4 L524.9 180.9 L525.6 180.3 L526.4 179.8 L527.1 179.3 L527.9 178.8 L528.6 178.3 L529.4 177.8 L530.1 177.3 L530.9 176.9 L531.6 176.4 L532.4 175.9 L533.1 175.4 L533.9 175.0 L534.6 174.5 L535.4 174.0 L536.1 173.6 L536.9 173.1 L537.6 172.7 L538.4 172.3 L539.1 171.8 L539.9 171.4 L540.6 171.0 L541.4 170.6 L542.1 170.2 L542.9 169.8 L543.6 169.5 L544.4 169.2 L545.1 168.8 L545.9 168.5 L546.6 168.2 L547.4 167.9 L548.1 167.6 L548.9 167.3 L549.6 167.1 L550.4 166.8 L551.1 166.5 L551.9 166.2 L552.6 165.9 L553.4 165.5 L554.1 165.2 L554.9 164.9 L555.6 164.5 L556.4 164.1 L557.1 163.7 L557.9 163.2 L558.6 162.8 L559.4 162.2 L560.1 161.5 L560.9 160.8 L561.6 160.1 L562.4 159.4 L563.1 158.6 L563.9 158.0 L564.6 157.3 L565.4 156.7 L566.1 156.0 L566.9 155.3 L567.6 154.6 L568.4 154.0 L569.1 153.3 L569.9 152.7 L570.6 152.0 L571.4 151.4 L572.1 150.8 L572.9 150.3 L573.6 149.7 L574.4 149.2 L575.1 148.8 L575.9 148.3 L576.6 147.9 L577.4 147.4 L578.1 147.0 L578.9 146.6 L579.6 146.2 L580.4 145.8 L581.1 145.4 L581.9 145.1 L582.6 144.7 L583.4 144.4 L584.1 144.1 L584.9 143.8 L585.6 143.6 L586.4 143.3 L587.1 143.1 L587.9 142.8 L588.6 142.6 L589.4 142.4 L590.1 142.2 L590.9 142.0 L591.6 141.8 L592.4 141.6 L593.1 141.5 L593.9 141.3 L594.6 141.1 L595.4 140.9 L596.1 140.8 L596.9 140.6 L597.6 140.4 L598.4 140.2 L599.1 140.0 L599.9 139.9 L600.6 139.7 L601.4 139.5 L602.1 139.3 L602.9 139.2 L603.6 139.0 L604.4 138.9 L605.1 138.7 L605.9 138.5 L606.6 138.4 L607.4 138.2 L608.1 138.0 L608.9 137.8 L609.6 137.7 L610.4 137.5 L611.1 137.3 L611.9 137.0 L612.6 136.8 L613.4 136.6 L614.1 136.3 L614.9 136.0 L615.6 135.6 L616.4 135.3 L617.1 134.9 L617.9 134.5 L618.6 134.1 L619.4 133.7 L620.1 133.4 L620.9 133.0 L621.6 132.7 L622.4 132.3 L623.1 132.1 L623.9 131.8 L624.6 131.6 L625.4 131.4 L626.1 131.1 L626.9 130.9 L627.6 130.8 L628.4 130.6 L629.1 130.4 L629.9 130.3 L630.6 130.1 L631.4 130.0" fill="none" stroke="#800000" stroke-width="2.1" stroke-linejoin="round" stroke-linecap="round"/>
<path d="M93.6 56.3 L94.3 56.6 L95.1 57.0 L95.8 57.3 L96.6 57.6 L97.3 58.0 L98.1 58.3 L98.8 58.6 L99.6 58.9 L100.3 59.3 L101.1 59.6 L101.8 59.9 L102.6 60.2 L103.3 60.5 L104.1 60.9 L104.8 61.2 L105.6 61.5 L106.3 61.9 L107.1 62.2 L107.8 62.5 L108.6 62.9 L109.3 63.2 L110.1 63.5 L110.8 63.8 L111.6 64.1 L112.3 64.4 L113.1 64.7 L113.8 65.0 L114.6 65.2 L115.3 65.5 L116.1 65.7 L116.8 65.9 L117.6 66.1 L118.3 66.3 L119.1 66.5 L119.8 66.7 L120.6 66.9 L121.3 67.1 L122.1 67.3 L122.8 67.5 L123.6 67.7 L124.3 67.9 L125.1 68.0 L125.8 68.1 L126.6 68.3 L127.3 68.4 L128.1 68.4 L128.8 68.5 L129.6 68.5 L130.3 68.5 L131.1 68.5 L131.8 68.5 L132.6 68.5 L133.3 68.5 L134.1 68.5 L134.8 68.5 L135.6 68.5 L136.3 68.5 L137.1 68.5 L137.8 68.5 L138.6 68.5 L139.3 68.5 L140.1 68.5 L140.8 68.5 L141.6 68.6 L142.3 68.6 L143.1 68.6 L143.8 68.7 L144.6 68.8 L145.3 68.9 L146.1 69.0 L146.8 69.1 L147.6 69.2 L148.3 69.4 L149.1 69.5 L149.8 69.7 L150.6 69.8 L151.3 70.0 L152.1 70.2 L152.8 70.3 L153.6 70.5 L154.3 70.6 L155.1 70.8 L155.8 71.0 L156.6 71.1 L157.3 71.3 L158.1 71.4 L158.8 71.6 L159.6 71.8 L160.3 72.0 L161.1 72.2 L161.8 72.4 L162.6 72.6 L163.3 72.8 L164.1 73.0 L164.8 73.3 L165.6 73.5 L166.3 73.8 L167.1 74.1 L167.8 74.3 L168.6 74.6 L169.3 75.0 L170.1 75.4 L170.8 75.8 L171.6 76.3 L172.3 76.8 L173.1 77.3 L173.8 77.9 L174.6 78.5 L175.3 79.0 L176.1 79.6 L176.8 80.2 L177.6 80.9 L178.3 81.5 L179.1 82.0 L179.8 82.6 L180.6 83.2 L181.3 83.9 L182.1 84.5 L182.8 85.2 L183.6 85.8 L184.3 86.5 L185.1 87.2 L185.8 87.8 L186.6 88.5 L187.3 89.2 L188.1 89.9 L188.8 90.5 L189.6 91.2 L190.3 91.9 L191.1 92.5 L191.8 93.2 L192.6 93.9 L193.3 94.6 L194.1 95.3 L194.8 96.0 L195.6 96.7 L196.3 97.3 L197.1 98.0 L197.8 98.7 L198.6 99.3 L199.3 99.9 L200.1 100.5 L200.8 101.1 L201.6 101.6 L202.3 102.1 L203.1 102.6 L203.8 103.0 L204.6 103.4 L205.3 103.9 L206.1 104.3 L206.8 104.7 L207.6 105.1 L208.3 105.5 L209.1 106.0 L209.8 106.4 L210.6 107.0 L211.3 107.5 L212.1 108.2 L212.8 108.9 L213.6 109.7 L214.3 110.6 L215.1 111.6 L215.8 112.6 L216.6 113.7 L217.3 114.8 L218.1 115.9 L218.8 117.1 L219.6 118.2 L220.3 119.2 L221.1 120.3 L221.8 121.4 L222.6 122.4 L223.3 123.5 L224.1 124.6 L224.8 125.8 L225.6 126.9 L226.3 128.0 L227.1 129.2 L227.8 130.4 L228.6 131.7 L229.3 132.9 L230.1 134.3 L230.8 135.6 L231.6 137.0 L232.3 138.5 L233.1 139.9 L233.8 141.3 L234.6 142.7 L235.3 144.1 L236.1 145.5 L236.8 146.8 L237.6 148.2 L238.3 149.5 L239.1 150.9 L239.8 152.2 L240.6 153.6 L241.3 154.8 L242.1 156.1 L242.8 157.2 L243.6 158.3 L244.3 159.4 L245.1 160.4 L245.8 161.4 L246.6 162.3 L247.3 163.2 L248.1 164.0 L248.8 164.9 L249.6 165.6 L250.3 166.3 L251.1 166.9 L251.8 167.5 L252.6 168.1 L253.3 168.8 L254.1 169.4 L254.8 170.2 L255.6 171.0 L256.4 172.0 L257.1 173.2 L257.9 174.4 L258.6 175.7 L259.4 177.2 L260.1 178.7 L260.9 180.2 L261.6 181.8 L262.4 183.4 L263.1 185.1 L263.9 186.7 L264.6 188.4 L265.4 190.0 L266.1 191.8 L266.9 193.6 L267.6 195.4 L268.4 197.3 L269.1 199.2 L269.9 201.2 L270.6 203.2 L271.4 205.3 L272.1 207.4 L272.9 209.6 L273.6 211.9 L274.4 214.3 L275.1 216.7 L275.9 219.3 L276.6 221.8 L277.4 224.4 L278.1 227.1 L278.9 229.7 L279.6 232.3 L280.4 235.0 L281.1 237.6 L281.9 240.3 L282.6 242.9 L283.4 245.7 L284.1 248.4 L284.9 251.1 L285.6 253.9 L286.4 256.7 L287.1 259.6 L287.9 262.4 L288.6 265.3 L289.4 268.0 L290.1 270.6 L290.9 273.2 L291.6 275.8 L292.4 278.6 L293.1 281.6 L293.9 284.9 L294.6 288.5 L295.4 292.7 L296.1 298.9 L296.9 303.5 L297.6 306.9 L298.4 309.8 L299.1 312.4 L299.9 314.7 L300.6 316.9 L301.4 319.1 L302.1 321.4 L302.9 323.7 L303.6 325.9 L304.4 328.1 L305.1 330.2 L305.9 332.3 L306.6 334.4 L307.4 336.4 L308.1 338.3 L308.9 340.3 L309.6 342.2 L310.4 344.2 L311.1 346.2 L311.9 348.1 L312.6 350.0 L313.4 351.8 L314.1 353.5 L314.9 355.1 L315.6 356.5 L316.4 357.8 L317.1 359.1 L317.9 360.3 L318.6 361.5 L319.4 362.5 L320.1 363.6 L320.9 364.5 L321.6 365.3 L322.4 366.0 L323.1 366.6 L323.9 367.3 L324.6 367.9 L325.4 368.5 L326.1 369.0 L326.9 369.5 L327.6 369.8 L328.4 370.1 L329.1 370.2 L329.9 370.2 L330.6 370.1 L331.4 369.9 L332.1 369.7 L332.9 369.5 L333.6 369.2 L334.4 368.9 L335.1 368.5 L335.9 368.2 L336.6 367.8 L337.4 367.5 L338.1 367.1 L338.9 366.7 L339.6 366.2 L340.4 365.6 L341.1 365.1 L341.9 364.5 L342.6 363.9 L343.4 363.3 L344.1 362.8 L344.9 362.4 L345.6 362.0 L346.4 361.7 L347.1 361.4 L347.9 361.0 L348.6 360.7 L349.4 360.4 L350.1 360.2 L350.9 360.0 L351.6 359.9 L352.4 359.8 L353.1 359.9 L353.9 360.0 L354.6 360.3 L355.4 360.6 L356.1 361.0 L356.9 361.4 L357.6 361.8 L358.4 362.3 L359.1 362.8 L359.9 363.4 L360.6 364.1 L361.4 364.7 L362.1 365.3 L362.9 366.0 L363.6 366.6 L364.4 367.3 L365.1 368.0 L365.9 368.6 L366.6 369.1 L367.4 369.6 L368.1 370.0 L368.9 370.2 L369.6 370.3 L370.4 370.4 L371.1 370.5 L371.9 370.7 L372.6 370.7 L373.4 370.8 L374.1 370.9 L374.9 370.9 L375.6 371.0 L376.4 371.0 L377.1 371.0 L377.9 370.9 L378.6 370.8 L379.4 370.5 L380.1 370.2 L380.9 369.8 L381.6 369.4 L382.4 368.9 L383.1 368.4 L383.9 367.9 L384.6 367.4 L385.4 366.9 L386.1 366.4 L386.9 365.9 L387.6 365.3 L388.4 364.7 L389.1 364.1 L389.9 363.4 L390.6 362.7 L391.4 362.0 L392.1 361.3 L392.9 360.7 L393.6 360.1 L394.4 359.5 L395.1 359.0 L395.9 358.6 L396.6 358.1 L397.4 357.7 L398.1 357.3 L398.9 356.8 L399.6 356.4 L400.4 356.1 L401.1 355.7 L401.9 355.3 L402.6 355.0 L403.4 354.7 L404.1 354.4 L404.9 354.1 L405.6 353.8 L406.4 353.6 L407.1 353.4 L407.9 353.2 L408.6 353.0 L409.4 352.9 L410.1 352.7 L410.9 352.6 L411.6 352.4 L412.4 352.3 L413.1 352.1 L413.9 351.9 L414.6 351.7 L415.4 351.5 L416.1 351.3 L416.9 351.0 L417.6 350.6 L418.4 350.2 L419.1 349.7 L419.9 349.2 L420.6 348.6 L421.4 347.9 L422.1 347.2 L422.9 346.4 L423.6 345.6 L424.4 344.7 L425.1 343.8 L425.9 342.6 L426.6 341.2 L427.4 339.6 L428.1 337.8 L428.9 336.0 L429.6 334.1 L430.4 332.2 L431.1 330.3 L431.9 328.6 L432.6 326.8 L433.4 325.0 L434.1 323.2 L434.9 321.4 L435.6 319.5 L436.4 317.5 L437.1 315.3 L437.9 313.0 L438.6 310.6 L439.4 308.0 L440.1 305.4 L440.9 302.8 L441.6 300.3 L442.4 297.6 L443.1 294.9 L443.9 292.1 L444.6 289.3 L445.4 286.6 L446.1 284.0 L446.9 281.5 L447.6 279.3 L448.4 277.3 L449.1 275.6 L449.9 274.2 L450.6 272.9 L451.4 271.7 L452.1 270.6 L452.9 269.6 L453.6 268.6 L454.4 267.7 L455.1 266.9 L455.9 266.0 L456.6 265.2 L457.4 264.5 L458.1 263.7 L458.9 263.1 L459.6 262.4 L460.4 261.9 L461.1 261.3 L461.9 260.8 L462.6 260.2 L463.4 259.6 L464.1 259.0 L464.9 258.3 L465.6 257.6 L466.4 256.7 L467.1 255.8 L467.9 254.8 L468.6 253.8 L469.4 252.6 L470.1 251.5 L470.9 250.3 L471.6 249.0 L472.4 247.8 L473.1 246.5 L473.9 245.2 L474.6 243.9 L475.4 242.5 L476.1 241.0 L476.9 239.5 L477.6 238.0 L478.4 236.5 L479.1 234.9 L479.9 233.3 L480.6 231.8 L481.4 230.2 L482.1 228.7 L482.9 227.2 L483.6 225.6 L484.4 224.0 L485.1 222.4 L485.9 220.9 L486.6 219.3 L487.4 217.8 L488.1 216.3 L488.9 214.9 L489.6 213.5 L490.4 212.3 L491.1 211.0 L491.9 209.7 L492.6 208.5 L493.4 207.3 L494.1 206.1 L494.9 205.1 L495.6 204.2 L496.4 203.5 L497.1 202.9 L497.9 202.5 L498.6 202.0 L499.4 201.6 L500.1 201.2 L500.9 200.9 L501.6 200.6 L502.4 200.4 L503.1 200.3 L503.9 200.3 L504.6 200.3 L505.4 200.5 L506.1 200.8 L506.9 201.1 L507.6 201.5 L508.4 202.0 L509.1 202.4 L509.9 202.8 L510.6 203.2 L511.4 203.6 L512.1 203.9 L512.9 204.1 L513.6 204.4 L514.4 204.7 L515.1 205.0 L515.9 205.2 L516.6 205.4 L517.4 205.6 L518.1 205.7 L518.9 205.7 L519.6 205.6 L520.4 205.4 L521.1 205.1 L521.9 204.6 L522.6 204.1 L523.4 203.5 L524.1 202.9 L524.9 202.3 L525.6 201.7 L526.4 201.0 L527.1 200.3 L527.9 199.5 L528.6 198.6 L529.4 197.7 L530.1 196.7 L530.9 195.7 L531.6 194.6 L532.4 193.6 L533.1 192.5 L533.9 191.5 L534.6 190.5 L535.4 189.5 L536.1 188.5 L536.9 187.6 L537.6 186.7 L538.4 185.7 L539.1 184.7 L539.9 183.7 L540.6 182.6 L541.4 181.6 L542.1 180.6 L542.9 179.7 L543.6 178.8 L544.4 178.0 L545.1 177.3 L545.9 176.6 L546.6 176.1 L547.4 175.8 L548.1 175.5 L548.9 175.2 L549.6 175.0 L550.4 174.7 L551.1 174.5 L551.9 174.3 L552.6 174.1 L553.4 174.0 L554.1 173.9 L554.9 173.8 L555.6 173.8 L556.4 173.8 L557.1 173.9 L557.9 173.9 L558.6 174.0 L559.4 174.1 L560.1 174.1 L560.9 174.2 L561.6 174.3 L562.4 174.3 L563.1 174.4 L563.9 174.4 L564.6 174.3 L565.4 174.2 L566.1 174.0 L566.9 173.8 L567.6 173.5 L568.4 173.1 L569.1 172.7 L569.9 172.3 L570.6 171.8 L571.4 171.3 L572.1 170.8 L572.9 170.2 L573.6 169.7 L574.4 169.2 L575.1 168.6 L575.9 168.0 L576.6 167.3 L577.4 166.4 L578.1 165.6 L578.9 164.7 L579.6 163.7 L580.4 162.7 L581.1 161.7 L581.9 160.8 L582.6 159.9 L583.4 159.0 L584.1 158.2 L584.9 157.4 L585.6 156.6 L586.4 155.8 L587.1 155.0 L587.9 154.3 L588.6 153.6 L589.4 152.9 L590.1 152.3 L590.9 151.9 L591.6 151.5 L592.4 151.1 L593.1 150.7 L593.9 150.3 L594.6 150.0 L595.4 149.7 L596.1 149.4 L596.9 149.1 L597.6 148.9 L598.4 148.7 L599.1 148.6 L599.9 148.5 L600.6 148.5 L601.4 148.5 L602.1 148.5 L602.9 148.6 L603.6 148.7 L604.4 148.8 L605.1 148.9 L605.9 149.1 L606.6 149.3 L607.4 149.4 L608.1 149.6 L608.9 149.8 L609.6 150.1 L610.4 150.5 L611.1 151.0 L611.9 151.6 L612.6 152.2 L613.4 152.7 L614.1 153.3 L614.9 153.8 L615.6 154.1 L616.4 154.4 L617.1 154.5 L617.9 154.4 L618.6 154.3 L619.4 154.1 L620.1 153.9 L620.9 153.6 L621.6 153.3 L622.4 153.0 L623.1 152.7 L623.9 152.3 L624.6 152.0 L625.4 151.7 L626.1 151.3 L626.9 150.9 L627.6 150.5 L628.4 150.0 L629.1 149.5 L629.9 149.0 L630.6 148.5 L631.4 148.0" fill="none" stroke="#ff33ff" stroke-width="2.1" stroke-linejoin="round" stroke-linecap="round"/>
<path d="M93.6 44.0 L94.3 43.5 L95.1 43.1 L95.8 42.7 L96.6 42.3 L97.3 42.0 L98.1 41.7 L98.8 41.4 L99.6 41.2 L100.3 41.0 L101.1 40.9 L101.8 40.8 L102.6 40.7 L103.3 40.7 L104.1 40.8 L104.8 40.8 L105.6 40.9 L106.3 41.0 L107.1 41.1 L107.8 41.2 L108.6 41.3 L109.3 41.5 L110.1 41.8 L110.8 42.2 L111.6 42.7 L112.3 43.2 L113.1 43.6 L113.8 44.1 L114.6 44.6 L115.3 44.9 L116.1 45.2 L116.8 45.4 L117.6 45.6 L118.3 45.7 L119.1 45.8 L119.8 45.9 L120.6 46.0 L121.3 46.1 L122.1 46.2 L122.8 46.3 L123.6 46.5 L124.3 46.6 L125.1 46.9 L125.8 47.2 L126.6 47.8 L127.3 48.4 L128.1 49.1 L128.8 49.9 L129.6 50.8 L130.3 51.6 L131.1 52.5 L131.8 53.3 L132.6 54.1 L133.3 54.8 L134.1 55.5 L134.8 56.2 L135.6 57.0 L136.3 57.7 L137.1 58.5 L137.8 59.2 L138.6 59.9 L139.3 60.7 L140.1 61.4 L140.8 62.1 L141.6 62.7 L142.3 63.3 L143.1 63.9 L143.8 64.5 L144.6 65.0 L145.3 65.5 L146.1 66.1 L146.8 66.6 L147.6 67.1 L148.3 67.6 L149.1 68.1 L149.8 68.5 L150.6 68.9 L151.3 69.2 L152.1 69.5 L152.8 69.8 L153.6 70.0 L154.3 70.1 L155.1 70.3 L155.8 70.4 L156.6 70.6 L157.3 70.7 L158.1 70.9 L158.8 71.0 L159.6 71.1 L160.3 71.1 L161.1 71.2 L161.8 71.2 L162.6 71.3 L163.3 71.3 L164.1 71.3 L164.8 71.3 L165.6 71.3 L166.3 71.3 L167.1 71.3 L167.8 71.3 L168.6 71.3 L169.3 71.3 L170.1 71.3 L170.8 71.3 L171.6 71.3 L172.3 71.3 L173.1 71.3 L173.8 71.3 L174.6 71.4 L175.3 71.7 L176.1 72.1 L176.8 72.6 L177.6 73.3 L178.3 74.0 L179.1 74.8 L179.8 75.7 L180.6 76.5 L181.3 77.4 L182.1 78.2 L182.8 79.1 L183.6 80.1 L184.3 81.1 L185.1 82.3 L185.8 83.5 L186.6 84.7 L187.3 85.9 L188.1 87.1 L188.8 88.3 L189.6 89.5 L190.3 90.6 L191.1 91.7 L191.8 92.8 L192.6 93.8 L193.3 94.9 L194.1 96.0 L194.8 97.0 L195.6 98.1 L196.3 99.1 L197.1 100.2 L197.8 101.2 L198.6 102.2 L199.3 103.2 L200.1 104.1 L200.8 105.1 L201.6 106.0 L202.3 106.9 L203.1 107.8 L203.8 108.6 L204.6 109.5 L205.3 110.3 L206.1 111.2 L206.8 112.0 L207.6 112.8 L208.3 113.6 L209.1 114.4 L209.8 115.3 L210.6 116.1 L211.3 116.9 L212.1 117.7 L212.8 118.6 L213.6 119.4 L214.3 120.2 L215.1 121.0 L215.8 121.8 L216.6 122.6 L217.3 123.3 L218.1 124.2 L218.8 125.0 L219.6 125.8 L220.3 126.7 L221.1 127.6 L221.8 128.5 L222.6 129.5 L223.3 130.5 L224.1 131.6 L224.8 132.7 L225.6 133.9 L226.3 135.1 L227.1 136.4 L227.8 137.7 L228.6 139.0 L229.3 140.3 L230.1 141.7 L230.8 143.1 L231.6 144.5 L232.3 146.1 L233.1 147.7 L233.8 149.4 L234.6 151.0 L235.3 152.7 L236.1 154.4 L236.8 155.9 L237.6 157.4 L238.3 158.8 L239.1 160.1 L239.8 161.3 L240.6 162.5 L241.3 163.6 L242.1 164.7 L242.8 165.8 L243.6 166.9 L244.3 168.0 L245.1 169.2 L245.8 170.3 L246.6 171.5 L247.3 172.8 L248.1 174.2 L248.8 175.5 L249.6 176.9 L250.3 178.4 L251.1 179.8 L251.8 181.3 L252.6 182.9 L253.3 184.4 L254.1 186.0 L254.8 187.6 L255.6 189.3 L256.4 191.0 L257.1 192.7 L257.9 194.5 L258.6 196.3 L259.4 198.1 L260.1 200.0 L260.9 201.9 L261.6 203.9 L262.4 205.9 L263.1 207.9 L263.9 209.9 L264.6 212.0 L265.4 214.1 L266.1 216.2 L266.9 218.4 L267.6 220.6 L268.4 222.8 L269.1 225.1 L269.9 227.5 L270.6 229.8 L271.4 232.2 L272.1 234.7 L272.9 237.2 L273.6 239.8 L274.4 242.5 L275.1 245.2 L275.9 247.9 L276.6 250.7 L277.4 253.6 L278.1 256.4 L278.9 259.3 L279.6 262.1 L280.4 265.0 L281.1 267.6 L281.9 269.9 L282.6 272.2 L283.4 274.5 L284.1 277.0 L284.9 279.9 L285.6 283.3 L286.4 287.4 L287.1 292.6 L287.9 302.2 L288.6 306.6 L289.4 310.1 L290.1 312.9 L290.9 315.2 L291.6 317.3 L292.4 319.3 L293.1 321.4 L293.9 323.9 L294.6 326.7 L295.4 329.5 L296.1 332.3 L296.9 335.1 L297.6 337.9 L298.4 340.6 L299.1 343.3 L299.9 345.8 L300.6 348.3 L301.4 350.6 L302.1 352.8 L302.9 355.0 L303.6 357.2 L304.4 359.2 L305.1 361.3 L305.9 363.3 L306.6 365.2 L307.4 367.2 L308.1 369.1 L308.9 371.1 L309.6 373.0 L310.4 375.0 L311.1 376.8 L311.9 378.7 L312.6 380.4 L313.4 382.0 L314.1 383.5 L314.9 384.9 L315.6 386.2 L316.4 387.4 L317.1 388.6 L317.9 389.8 L318.6 390.9 L319.4 391.9 L320.1 393.0 L320.9 394.0 L321.6 395.0 L322.4 396.0 L323.1 396.9 L323.9 397.9 L324.6 398.9 L325.4 399.8 L326.1 400.7 L326.9 401.7 L327.6 402.5 L328.4 403.4 L329.1 404.2 L329.9 405.0 L330.6 405.7 L331.4 406.4 L332.1 407.1 L332.9 407.7 L333.6 408.3 L334.4 408.9 L335.1 409.5 L335.9 410.1 L336.6 410.6 L337.4 411.1 L338.1 411.5 L338.9 411.9 L339.6 412.2 L340.4 412.5 L341.1 412.8 L341.9 413.0 L342.6 413.3 L343.4 413.5 L344.1 413.7 L344.9 413.8 L345.6 413.8 L346.4 413.8 L347.1 413.8 L347.9 413.7 L348.6 413.6 L349.4 413.5 L350.1 413.3 L350.9 413.2 L351.6 413.0 L352.4 412.8 L353.1 412.6 L353.9 412.4 L354.6 412.2 L355.4 411.8 L356.1 411.4 L356.9 410.9 L357.6 410.3 L358.4 409.8 L359.1 409.2 L359.9 408.6 L360.6 408.0 L361.4 407.4 L362.1 406.9 L362.9 406.5 L363.6 406.0 L364.4 405.5 L365.1 405.1 L365.9 404.6 L366.6 404.2 L367.4 403.8 L368.1 403.3 L368.9 402.9 L369.6 402.4 L370.4 402.0 L371.1 401.6 L371.9 401.1 L372.6 400.7 L373.4 400.2 L374.1 399.8 L374.9 399.3 L375.6 398.8 L376.4 398.4 L377.1 397.9 L377.9 397.4 L378.6 397.0 L379.4 396.5 L380.1 396.0 L380.9 395.5 L381.6 395.1 L382.4 394.6 L383.1 394.1 L383.9 393.6 L384.6 393.1 L385.4 392.6 L386.1 392.1 L386.9 391.6 L387.6 391.1 L388.4 390.6 L389.1 390.1 L389.9 389.5 L390.6 389.0 L391.4 388.4 L392.1 387.8 L392.9 387.2 L393.6 386.6 L394.4 386.0 L395.1 385.4 L395.9 384.7 L396.6 384.1 L397.4 383.4 L398.1 382.7 L398.9 382.0 L399.6 381.3 L400.4 380.6 L401.1 379.9 L401.9 379.2 L402.6 378.5 L403.4 377.8 L404.1 377.0 L404.9 376.3 L405.6 375.6 L406.4 374.8 L407.1 374.1 L407.9 373.4 L408.6 372.7 L409.4 372.0 L410.1 371.3 L410.9 370.6 L411.6 369.9 L412.4 369.1 L413.1 368.4 L413.9 367.7 L414.6 367.0 L415.4 366.3 L416.1 365.6 L416.9 364.9 L417.6 364.1 L418.4 363.4 L419.1 362.6 L419.9 361.9 L420.6 361.1 L421.4 360.3 L422.1 359.5 L422.9 358.7 L423.6 357.8 L424.4 357.0 L425.1 356.1 L425.9 355.2 L426.6 354.3 L427.4 353.3 L428.1 352.4 L428.9 351.4 L429.6 350.4 L430.4 349.3 L431.1 348.3 L431.9 347.2 L432.6 346.2 L433.4 345.1 L434.1 344.0 L434.9 342.8 L435.6 341.7 L436.4 340.6 L437.1 339.4 L437.9 338.3 L438.6 337.1 L439.4 335.9 L440.1 334.7 L440.9 333.5 L441.6 332.3 L442.4 331.1 L443.1 329.8 L443.9 328.5 L444.6 327.2 L445.4 325.9 L446.1 324.5 L446.9 323.1 L447.6 321.7 L448.4 320.2 L449.1 318.7 L449.9 317.1 L450.6 315.4 L451.4 313.6 L452.1 311.7 L452.9 309.8 L453.6 307.9 L454.4 306.0 L455.1 304.2 L455.9 302.5 L456.6 300.9 L457.4 299.3 L458.1 297.8 L458.9 296.3 L459.6 294.8 L460.4 293.4 L461.1 292.0 L461.9 290.7 L462.6 289.4 L463.4 288.2 L464.1 287.1 L464.9 286.0 L465.6 284.9 L466.4 283.9 L467.1 282.9 L467.9 281.9 L468.6 281.0 L469.4 280.0 L470.1 279.1 L470.9 278.3 L471.6 277.4 L472.4 276.5 L473.1 275.7 L473.9 274.8 L474.6 274.0 L475.4 273.1 L476.1 272.4 L476.9 271.6 L477.6 271.0 L478.4 270.4 L479.1 269.9 L479.9 269.5 L480.6 269.2 L481.4 268.9 L482.1 268.7 L482.9 268.4 L483.6 268.2 L484.4 267.9 L485.1 267.6 L485.9 267.2 L486.6 266.7 L487.4 266.1 L488.1 265.3 L488.9 264.4 L489.6 263.5 L490.4 262.5 L491.1 261.4 L491.9 260.4 L492.6 259.3 L493.4 258.3 L494.1 257.3 L494.9 256.3 L495.6 255.2 L496.4 254.2 L497.1 253.1 L497.9 252.0 L498.6 250.9 L499.4 249.8 L500.1 248.6 L500.9 247.4 L501.6 246.2 L502.4 245.0 L503.1 243.8 L503.9 242.5 L504.6 241.2 L505.4 239.7 L506.1 238.3 L506.9 236.8 L507.6 235.2 L508.4 233.6 L509.1 232.0 L509.9 230.4 L510.6 228.8 L511.4 227.2 L512.1 225.7 L512.9 224.2 L513.6 222.7 L514.4 221.4 L515.1 220.1 L515.9 218.8 L516.6 217.6 L517.4 216.4 L518.1 215.2 L518.9 214.0 L519.6 212.9 L520.4 211.8 L521.1 210.7 L521.9 209.6 L522.6 208.5 L523.4 207.5 L524.1 206.4 L524.9 205.4 L525.6 204.4 L526.4 203.4 L527.1 202.4 L527.9 201.5 L528.6 200.5 L529.4 199.6 L530.1 198.7 L530.9 197.8 L531.6 196.9 L532.4 196.0 L533.1 195.1 L533.9 194.2 L534.6 193.4 L535.4 192.5 L536.1 191.7 L536.9 190.8 L537.6 189.9 L538.4 189.1 L539.1 188.2 L539.9 187.3 L540.6 186.4 L541.4 185.5 L542.1 184.6 L542.9 183.6 L543.6 182.7 L544.4 181.8 L545.1 180.9 L545.9 180.0 L546.6 179.2 L547.4 178.3 L548.1 177.6 L548.9 176.9 L549.6 176.2 L550.4 175.6 L551.1 175.0 L551.9 174.4 L552.6 173.8 L553.4 173.3 L554.1 172.7 L554.9 172.2 L555.6 171.8 L556.4 171.4 L557.1 171.1 L557.9 170.9 L558.6 170.8 L559.4 170.7 L560.1 170.6 L560.9 170.5 L561.6 170.4 L562.4 170.4 L563.1 170.3 L563.9 170.3 L564.6 170.3 L565.4 170.3 L566.1 170.3 L566.9 170.4 L567.6 170.5 L568.4 170.7 L569.1 170.9 L569.9 171.2 L570.6 171.4 L571.4 171.7 L572.1 172.0 L572.9 172.3 L573.6 172.6 L574.4 172.9 L575.1 173.1 L575.9 173.4 L576.6 173.7 L577.4 174.1 L578.1 174.4 L578.9 174.8 L579.6 175.1 L580.4 175.5 L581.1 176.0 L581.9 176.4 L582.6 176.9 L583.4 177.4 L584.1 178.0 L584.9 178.7 L585.6 179.5 L586.4 180.3 L587.1 181.2 L587.9 182.0 L588.6 182.9 L589.4 183.7 L590.1 184.4 L590.9 185.1 L591.6 185.7 L592.4 186.4 L593.1 187.0 L593.9 187.6 L594.6 187.9 L595.4 188.0 L596.1 187.9 L596.9 187.7 L597.6 187.4 L598.4 187.1 L599.1 186.8 L599.9 186.5 L600.6 186.3 L601.4 186.1 L602.1 186.1 L602.9 186.2 L603.6 186.3 L604.4 186.6 L605.1 186.9 L605.9 187.2 L606.6 187.6 L607.4 188.0 L608.1 188.3 L608.9 188.9 L609.6 189.5 L610.4 190.1 L611.1 190.6 L611.9 191.0 L612.6 191.2 L613.4 191.3 L614.1 191.1 L614.9 190.9 L615.6 190.6 L616.4 190.3 L617.1 189.9 L617.9 189.6 L618.6 189.3 L619.4 188.8 L620.1 188.3 L620.9 187.7 L621.6 187.1 L622.4 186.5 L623.1 186.0 L623.9 185.6 L624.6 185.3 L625.4 185.3 L626.1 185.3 L626.9 185.3 L627.6 185.3 L628.4 185.3 L629.1 185.3 L629.9 185.3 L630.6 185.3 L631.4 185.3" fill="none" stroke="#0000ff" stroke-width="2.1" stroke-linejoin="round" stroke-linecap="round"/>
<rect x="94.6" y="18.4" width="537.2" height="433.2" fill="none" stroke="#000" stroke-width="2.1"/>
<path d="M94.6 408.3h4.5M94.6 365.0h8.0M94.6 321.6h4.5M94.6 278.3h8.0M94.6 235.0h4.5M94.6 191.7h8.0M94.6 148.4h4.5M94.6 105.0h8.0M94.6 61.7h4.5M161.8 451.6v-4.5M228.9 451.6v-8.0M296.0 451.6v-4.5M363.2 451.6v-8.0M430.3 451.6v-4.5M497.5 451.6v-8.0M564.6 451.6v-4.5" stroke="#000" stroke-width="1.9" fill="none"/>
<text x="89.6" y="454.2" text-anchor="end" class="tk">0.0</text>
<text x="89.6" y="374.2" text-anchor="end" class="tk">0.2</text>
<text x="89.6" y="287.5" text-anchor="end" class="tk">0.4</text>
<text x="89.6" y="200.9" text-anchor="end" class="tk">0.6</text>
<text x="89.6" y="114.2" text-anchor="end" class="tk">0.8</text>
<text x="89.6" y="27.6" text-anchor="end" class="tk">1.0</text>
<text x="96.2" y="478.4" text-anchor="middle" class="tk">1450</text>
<text x="230.5" y="478.4" text-anchor="middle" class="tk">1500</text>
<text x="364.8" y="478.4" text-anchor="middle" class="tk">1550</text>
<text x="499.1" y="478.4" text-anchor="middle" class="tk">1600</text>
<text x="633.4" y="478.4" text-anchor="middle" class="tk">1650</text>
<text transform="translate(27.1 217.5) rotate(-90)" text-anchor="middle" class="al" style="font-size:27.8px">Transmittance</text>
<text x="369.1" y="516.4" text-anchor="middle" class="al">Wavelength, nm</text>
<text x="0.5" y="32.7" class="pl">(A)</text>
<path d="M120.9 300.9H174.1" stroke="#ff0000" stroke-width="2.1"/>
<text x="185.0" y="307.5" class="lg">φ</text>
<text x="203.5" y="307.8" class="eq">=</text>
<text x="229.4" y="307.5" class="lg">0</text>
<text x="242.8" y="300.3" class="sup">0</text>
<path d="M120.9 329.4H174.1" stroke="#008000" stroke-width="2.1"/>
<text x="185.0" y="338.8" class="lg">φ</text>
<text x="203.5" y="339.1" class="eq">=</text>
<text x="223.1" y="338.8" class="lg">30</text>
<text x="246.6" y="332.5" class="sup">0</text>
<path d="M120.9 364.1H174.1" stroke="#800000" stroke-width="2.1"/>
<text x="185.6" y="370.0" class="lg">φ</text>
<text x="204.4" y="370.3" class="eq">=</text>
<text x="224.1" y="370.0" class="lg">45</text>
<text x="246.0" y="361.9" class="sup">0</text>
<path d="M120.9 397.2H174.1" stroke="#ff33ff" stroke-width="2.1"/>
<text x="185.6" y="404.0" class="lg">φ</text>
<text x="204.4" y="404.3" class="eq">=</text>
<text x="224.1" y="404.0" class="lg">60</text>
<text x="247.5" y="397.2" class="sup">0</text>
<path d="M120.9 425.3H174.1" stroke="#0000ff" stroke-width="2.1"/>
<text x="186.6" y="435.3" class="lg">φ</text>
<text x="204.4" y="435.6" class="eq">=</text>
<text x="224.1" y="435.3" class="lg">90</text>
<text x="247.5" y="430.0" class="sup">0</text>
<path d="M746.8 39.1 L747.5 39.1 L748.3 39.1 L749.0 39.2 L749.8 39.2 L750.5 39.2 L751.3 39.2 L752.0 39.2 L752.8 39.3 L753.5 39.3 L754.3 39.3 L755.0 39.3 L755.8 39.3 L756.5 39.4 L757.3 39.4 L758.0 39.4 L758.8 39.4 L759.5 39.4 L760.3 39.5 L761.0 39.5 L761.8 39.5 L762.5 39.5 L763.3 39.5 L764.0 39.6 L764.8 39.6 L765.5 39.6 L766.3 39.6 L767.0 39.6 L767.8 39.7 L768.5 39.7 L769.3 39.7 L770.0 39.7 L770.8 39.7 L771.5 39.8 L772.3 39.8 L773.0 39.8 L773.8 39.8 L774.5 39.8 L775.3 39.9 L776.0 39.9 L776.8 39.9 L777.5 39.9 L778.3 39.9 L779.0 40.0 L779.8 40.0 L780.5 40.0 L781.3 40.0 L782.0 40.1 L782.8 40.1 L783.5 40.1 L784.3 40.1 L785.0 40.1 L785.8 40.2 L786.5 40.2 L787.3 40.2 L788.0 40.2 L788.8 40.2 L789.5 40.3 L790.3 40.3 L791.0 40.3 L791.8 40.3 L792.5 40.3 L793.3 40.3 L794.0 40.4 L794.8 40.4 L795.5 40.4 L796.3 40.4 L797.0 40.4 L797.8 40.5 L798.5 40.5 L799.3 40.5 L800.0 40.5 L800.8 40.5 L801.5 40.6 L802.3 40.6 L803.0 40.6 L803.8 40.6 L804.5 40.6 L805.3 40.6 L806.0 40.7 L806.8 40.7 L807.5 40.7 L808.3 40.7 L809.0 40.7 L809.8 40.8 L810.5 40.8 L811.3 40.8 L812.0 40.8 L812.8 40.8 L813.5 40.9 L814.3 40.9 L815.0 40.9 L815.8 40.9 L816.5 40.9 L817.3 41.0 L818.0 41.0 L818.8 41.0 L819.5 41.0 L820.3 41.0 L821.0 41.1 L821.8 41.1 L822.5 41.1 L823.3 41.1 L824.0 41.2 L824.8 41.2 L825.5 41.2 L826.3 41.2 L827.0 41.2 L827.8 41.3 L828.5 41.3 L829.3 41.3 L830.0 41.3 L830.8 41.4 L831.5 41.4 L832.3 41.4 L833.0 41.4 L833.8 41.5 L834.5 41.5 L835.3 41.5 L836.0 41.5 L836.8 41.6 L837.5 41.6 L838.3 41.6 L839.0 41.7 L839.8 41.7 L840.5 41.7 L841.3 41.7 L842.0 41.8 L842.8 41.8 L843.5 41.8 L844.3 41.9 L845.0 41.9 L845.8 41.9 L846.5 42.0 L847.3 42.0 L848.0 42.0 L848.8 42.1 L849.5 42.1 L850.3 42.1 L851.0 42.2 L851.8 42.2 L852.5 42.2 L853.3 42.3 L854.0 42.3 L854.8 42.3 L855.5 42.4 L856.3 42.4 L857.0 42.5 L857.8 42.5 L858.5 42.6 L859.3 42.6 L860.0 42.6 L860.8 42.7 L861.5 42.7 L862.3 42.8 L863.0 42.8 L863.8 42.9 L864.5 42.9 L865.3 43.0 L866.0 43.0 L866.8 43.1 L867.5 43.2 L868.3 43.2 L869.0 43.3 L869.8 43.3 L870.5 43.4 L871.3 43.5 L872.0 43.5 L872.8 43.6 L873.5 43.7 L874.3 43.7 L875.0 43.8 L875.8 43.9 L876.5 44.0 L877.3 44.0 L878.0 44.1 L878.8 44.2 L879.5 44.3 L880.3 44.4 L881.0 44.5 L881.8 44.6 L882.5 44.7 L883.3 44.8 L884.0 45.0 L884.8 45.1 L885.5 45.2 L886.3 45.3 L887.0 45.5 L887.8 45.6 L888.5 45.8 L889.3 45.9 L890.0 46.1 L890.8 46.2 L891.5 46.4 L892.3 46.5 L893.0 46.7 L893.8 46.8 L894.5 47.0 L895.3 47.2 L896.0 47.4 L896.8 47.6 L897.5 47.8 L898.3 48.0 L899.0 48.2 L899.8 48.4 L900.5 48.6 L901.3 48.8 L902.0 49.1 L902.8 49.3 L903.5 49.6 L904.3 49.8 L905.0 50.1 L905.8 50.4 L906.5 50.7 L907.3 51.0 L908.0 51.3 L908.8 51.6 L909.5 52.0 L910.3 52.4 L911.0 52.7 L911.8 53.1 L912.5 53.6 L913.3 54.0 L914.0 54.5 L914.8 55.0 L915.5 55.5 L916.3 56.0 L917.0 56.5 L917.8 57.1 L918.5 57.7 L919.3 58.3 L920.0 59.0 L920.8 59.8 L921.5 60.6 L922.3 61.4 L923.0 62.2 L923.8 63.1 L924.5 64.0 L925.3 65.0 L926.0 65.9 L926.8 66.8 L927.5 67.8 L928.3 68.8 L929.0 69.8 L929.8 70.9 L930.5 72.0 L931.3 73.2 L932.0 74.4 L932.8 75.6 L933.5 76.9 L934.3 78.3 L935.0 79.8 L935.8 81.3 L936.5 82.9 L937.3 84.7 L938.0 86.5 L938.8 88.4 L939.5 90.4 L940.3 92.4 L941.0 94.6 L941.8 96.9 L942.5 99.4 L943.3 102.1 L944.0 104.9 L944.8 107.9 L945.5 111.0 L946.3 114.2 L947.0 117.7 L947.8 121.4 L948.5 125.4 L949.3 129.5 L950.0 133.8 L950.8 138.2 L951.5 142.8 L952.3 147.5 L953.0 152.5 L953.8 157.9 L954.5 163.6 L955.3 169.9 L956.0 177.1 L956.8 186.0 L957.5 197.5 L958.3 209.8 L959.0 220.7 L959.8 230.1 L960.5 238.8 L961.3 247.2 L962.0 255.4 L962.8 263.8 L963.5 272.3 L964.3 280.8 L965.0 288.9 L965.8 296.3 L966.5 302.7 L967.3 308.3 L968.0 313.5 L968.8 318.8 L969.5 323.9 L970.3 328.8 L971.0 333.7 L971.8 338.6 L972.5 343.6 L973.3 348.5 L974.0 353.1 L974.8 357.0 L975.5 360.4 L976.3 363.5 L977.0 366.3 L977.8 368.4 L978.5 369.7 L979.3 370.6 L980.0 371.3 L980.8 371.5 L981.5 371.0 L982.3 369.8 L983.0 368.2 L983.8 366.3 L984.5 364.3 L985.3 361.4 L986.0 357.9 L986.8 353.9 L987.5 349.9 L988.3 346.1 L989.0 342.2 L989.8 338.3 L990.5 334.3 L991.3 330.2 L992.0 326.0 L992.8 321.9 L993.5 317.7 L994.3 312.8 L995.0 307.1 L995.8 300.8 L996.5 294.8 L997.3 289.5 L998.0 285.2 L998.8 281.2 L999.5 277.4 L1000.3 273.9 L1001.0 270.6 L1001.8 267.4 L1002.5 264.3 L1003.3 261.3 L1004.0 258.3 L1004.8 255.3 L1005.5 252.3 L1006.3 249.4 L1007.0 246.6 L1007.8 243.8 L1008.5 241.2 L1009.3 238.7 L1010.0 236.3 L1010.8 234.0 L1011.5 231.9 L1012.3 229.7 L1013.0 227.7 L1013.8 225.7 L1014.5 223.7 L1015.3 221.9 L1016.0 220.1 L1016.8 218.5 L1017.5 217.0 L1018.3 215.6 L1019.0 214.3 L1019.8 213.1 L1020.5 211.9 L1021.3 210.8 L1022.0 209.7 L1022.8 208.7 L1023.5 207.9 L1024.3 207.2 L1025.0 206.6 L1025.8 206.2 L1026.5 205.9 L1027.3 205.5 L1028.0 205.1 L1028.8 204.8 L1029.5 204.6 L1030.3 204.3 L1031.0 204.1 L1031.8 204.0 L1032.5 203.9 L1033.3 203.9 L1034.0 203.9 L1034.8 204.1 L1035.5 204.3 L1036.3 204.6 L1037.0 205.0 L1037.8 205.4 L1038.5 205.8 L1039.3 206.2 L1040.0 206.6 L1040.8 207.1 L1041.5 207.7 L1042.3 208.4 L1043.0 209.1 L1043.8 209.9 L1044.5 210.7 L1045.3 211.6 L1046.0 212.6 L1046.8 213.6 L1047.5 214.7 L1048.3 216.0 L1049.0 217.3 L1049.8 218.8 L1050.5 220.4 L1051.3 222.1 L1052.0 223.8 L1052.8 225.6 L1053.5 227.5 L1054.3 229.6 L1055.0 232.0 L1055.8 234.4 L1056.5 237.0 L1057.3 239.6 L1058.0 242.3 L1058.8 245.0 L1059.5 247.8 L1060.3 250.7 L1061.0 253.7 L1061.8 256.8 L1062.5 259.9 L1063.3 263.1 L1064.0 266.2 L1064.8 269.5 L1065.5 272.9 L1066.3 276.3 L1067.0 279.7 L1067.8 283.1 L1068.5 286.6 L1069.3 289.9 L1070.0 292.6 L1070.8 295.0 L1071.5 297.4 L1072.3 300.1 L1073.0 303.7 L1073.8 308.4 L1074.5 315.8 L1075.3 336.8 L1076.0 348.7 L1076.8 355.6 L1077.5 361.0 L1078.3 365.5 L1079.0 369.7 L1079.8 374.4 L1080.5 379.3 L1081.3 384.1 L1082.0 388.7 L1082.8 393.0 L1083.5 396.9 L1084.3 400.6 L1085.0 404.2 L1085.8 407.1 L1086.5 408.9 L1087.3 410.3 L1088.0 411.2 L1088.8 411.1 L1089.5 410.3 L1090.3 408.9 L1091.0 407.0 L1091.8 403.4 L1092.5 398.5 L1093.3 392.8 L1094.0 386.6 L1094.8 379.1 L1095.5 371.0 L1096.3 363.0 L1097.0 354.8 L1097.8 346.3 L1098.5 338.1 L1099.3 330.6 L1100.0 323.6 L1100.8 315.6 L1101.5 306.2 L1102.3 294.1 L1103.0 273.0 L1103.8 253.1 L1104.5 239.2 L1105.3 231.7 L1106.0 228.6 L1106.8 224.4 L1107.5 217.5 L1108.3 208.9 L1109.0 199.7 L1109.8 191.0 L1110.5 183.5 L1111.3 176.2 L1112.0 169.2 L1112.8 162.6 L1113.5 156.5 L1114.3 150.8 L1115.0 145.4 L1115.8 140.4 L1116.5 135.5 L1117.3 130.9 L1118.0 126.4 L1118.8 122.1 L1119.5 118.1 L1120.3 114.3 L1121.0 110.8 L1121.8 107.4 L1122.5 104.1 L1123.3 101.0 L1124.0 98.1 L1124.8 95.4 L1125.5 92.9 L1126.3 90.6 L1127.0 88.3 L1127.8 86.1 L1128.5 84.1 L1129.3 82.2 L1130.0 80.5 L1130.8 78.9 L1131.5 77.5 L1132.3 76.1 L1133.0 74.8 L1133.8 73.5 L1134.5 72.3 L1135.3 71.2 L1136.0 70.2 L1136.8 69.2 L1137.5 68.3 L1138.3 67.5 L1139.0 66.6 L1139.8 65.8 L1140.5 65.0 L1141.3 64.3 L1142.0 63.6 L1142.8 63.0 L1143.5 62.3 L1144.3 61.8 L1145.0 61.2 L1145.8 60.7 L1146.5 60.3 L1147.3 59.8 L1148.0 59.4 L1148.8 59.0 L1149.5 58.6 L1150.3 58.2 L1151.0 57.9 L1151.8 57.5 L1152.5 57.2 L1153.3 56.9 L1154.0 56.6 L1154.8 56.4 L1155.5 56.1 L1156.3 55.9 L1157.0 55.6 L1157.8 55.4 L1158.5 55.2 L1159.3 55.0 L1160.0 54.8 L1160.8 54.6 L1161.5 54.4 L1162.3 54.2 L1163.0 54.0 L1163.8 53.9 L1164.5 53.7 L1165.3 53.6 L1166.0 53.4 L1166.8 53.3 L1167.5 53.2 L1168.3 53.1 L1169.0 53.0 L1169.8 52.9 L1170.5 52.8 L1171.3 52.7 L1172.0 52.6 L1172.8 52.5 L1173.5 52.4 L1174.3 52.3 L1175.0 52.3 L1175.8 52.2 L1176.5 52.1 L1177.3 52.0 L1178.0 52.0 L1178.8 51.9 L1179.5 51.8 L1180.3 51.8 L1181.0 51.7 L1181.8 51.7 L1182.5 51.6 L1183.3 51.5 L1184.0 51.5 L1184.8 51.4 L1185.5 51.4 L1186.3 51.3 L1187.0 51.3 L1187.8 51.2 L1188.5 51.2 L1189.3 51.2 L1190.0 51.1 L1190.8 51.1 L1191.5 51.0 L1192.3 51.0 L1193.0 51.0 L1193.8 50.9 L1194.5 50.9 L1195.3 50.9 L1196.0 50.8 L1196.8 50.8 L1197.5 50.8 L1198.3 50.7 L1199.0 50.7 L1199.8 50.7 L1200.5 50.6 L1201.3 50.6 L1202.0 50.6 L1202.8 50.5 L1203.5 50.5 L1204.3 50.5 L1205.0 50.5 L1205.8 50.4 L1206.5 50.4 L1207.3 50.4 L1208.0 50.4 L1208.8 50.3 L1209.5 50.3 L1210.3 50.3 L1211.0 50.3 L1211.8 50.2 L1212.5 50.2 L1213.3 50.2 L1214.0 50.2 L1214.8 50.1 L1215.5 50.1 L1216.3 50.1 L1217.0 50.1 L1217.8 50.1 L1218.5 50.0 L1219.3 50.0 L1220.0 50.0 L1220.8 50.0 L1221.5 50.0 L1222.3 50.0 L1223.0 49.9 L1223.8 49.9 L1224.5 49.9 L1225.3 49.9 L1226.0 49.9 L1226.8 49.8 L1227.5 49.8 L1228.3 49.8 L1229.0 49.8 L1229.8 49.8 L1230.5 49.8 L1231.3 49.7 L1232.0 49.7 L1232.8 49.7 L1233.5 49.7 L1234.3 49.7 L1235.0 49.7 L1235.8 49.6 L1236.5 49.6 L1237.3 49.6 L1238.0 49.6 L1238.8 49.6 L1239.5 49.6 L1240.3 49.5 L1241.0 49.5 L1241.8 49.5 L1242.5 49.5 L1243.3 49.5 L1244.0 49.5 L1244.8 49.4 L1245.5 49.4 L1246.3 49.4 L1247.0 49.4 L1247.8 49.4 L1248.5 49.4 L1249.3 49.4 L1250.0 49.3 L1250.8 49.3 L1251.5 49.3 L1252.3 49.3 L1253.0 49.3 L1253.8 49.3 L1254.5 49.3 L1255.3 49.2 L1256.0 49.2 L1256.8 49.2 L1257.5 49.2 L1258.3 49.2 L1259.0 49.2 L1259.8 49.2 L1260.5 49.2 L1261.3 49.1 L1262.0 49.1 L1262.8 49.1 L1263.5 49.1 L1264.3 49.1 L1265.0 49.1 L1265.8 49.1 L1266.5 49.1 L1267.3 49.1 L1268.0 49.1 L1268.8 49.0 L1269.5 49.0 L1270.3 49.0 L1271.0 49.0 L1271.8 49.0 L1272.5 49.0 L1273.3 49.0 L1274.0 49.0 L1274.8 49.0 L1275.5 49.0 L1276.3 49.0 L1277.0 49.0 L1277.8 49.0 L1278.5 48.9 L1279.3 48.9 L1280.0 48.9 L1280.8 48.9 L1281.5 48.9 L1282.3 48.9 L1283.0 48.9 L1283.8 48.9 L1284.5 48.9" fill="none" stroke="#ff0000" stroke-width="2.1" stroke-linejoin="round" stroke-linecap="round"/>
<path d="M746.8 105.4 L747.5 105.2 L748.3 105.0 L749.0 104.9 L749.8 104.7 L750.5 104.5 L751.3 104.3 L752.0 104.2 L752.8 104.0 L753.5 103.8 L754.3 103.7 L755.0 103.5 L755.8 103.3 L756.5 103.2 L757.3 103.0 L758.0 102.8 L758.8 102.7 L759.5 102.5 L760.3 102.3 L761.0 102.1 L761.8 102.0 L762.5 101.8 L763.3 101.6 L764.0 101.5 L764.8 101.3 L765.5 101.1 L766.3 101.0 L767.0 100.8 L767.8 100.6 L768.5 100.4 L769.3 100.3 L770.0 100.1 L770.8 99.9 L771.5 99.8 L772.3 99.6 L773.0 99.4 L773.8 99.2 L774.5 99.1 L775.3 98.9 L776.0 98.7 L776.8 98.5 L777.5 98.4 L778.3 98.2 L779.0 98.0 L779.8 97.8 L780.5 97.7 L781.3 97.5 L782.0 97.3 L782.8 97.1 L783.5 97.0 L784.3 96.8 L785.0 96.6 L785.8 96.4 L786.5 96.3 L787.3 96.1 L788.0 95.9 L788.8 95.7 L789.5 95.6 L790.3 95.4 L791.0 95.2 L791.8 95.0 L792.5 94.9 L793.3 94.7 L794.0 94.5 L794.8 94.4 L795.5 94.2 L796.3 94.0 L797.0 93.9 L797.8 93.7 L798.5 93.5 L799.3 93.4 L800.0 93.2 L800.8 93.0 L801.5 92.9 L802.3 92.7 L803.0 92.6 L803.8 92.4 L804.5 92.2 L805.3 92.1 L806.0 91.9 L806.8 91.8 L807.5 91.6 L808.3 91.5 L809.0 91.3 L809.8 91.2 L810.5 91.0 L811.3 90.9 L812.0 90.7 L812.8 90.6 L813.5 90.4 L814.3 90.3 L815.0 90.1 L815.8 90.0 L816.5 89.8 L817.3 89.7 L818.0 89.5 L818.8 89.4 L819.5 89.2 L820.3 89.1 L821.0 88.9 L821.8 88.8 L822.5 88.6 L823.3 88.5 L824.0 88.4 L824.8 88.2 L825.5 88.1 L826.3 87.9 L827.0 87.8 L827.8 87.6 L828.5 87.5 L829.3 87.4 L830.0 87.2 L830.8 87.1 L831.5 86.9 L832.3 86.8 L833.0 86.6 L833.8 86.5 L834.5 86.3 L835.3 86.2 L836.0 86.1 L836.8 85.9 L837.5 85.8 L838.3 85.6 L839.0 85.5 L839.8 85.3 L840.5 85.2 L841.3 85.1 L842.0 84.9 L842.8 84.8 L843.5 84.6 L844.3 84.5 L845.0 84.4 L845.8 84.2 L846.5 84.1 L847.3 84.0 L848.0 83.9 L848.8 83.7 L849.5 83.6 L850.3 83.5 L851.0 83.4 L851.8 83.2 L852.5 83.1 L853.3 83.0 L854.0 82.9 L854.8 82.8 L855.5 82.7 L856.3 82.5 L857.0 82.4 L857.8 82.3 L858.5 82.2 L859.3 82.1 L860.0 82.0 L860.8 81.9 L861.5 81.8 L862.3 81.6 L863.0 81.5 L863.8 81.4 L864.5 81.3 L865.3 81.2 L866.0 81.1 L866.8 81.0 L867.5 80.9 L868.3 80.8 L869.0 80.7 L869.8 80.6 L870.5 80.5 L871.3 80.4 L872.0 80.4 L872.8 80.3 L873.5 80.2 L874.3 80.2 L875.0 80.1 L875.8 80.1 L876.5 80.0 L877.3 80.0 L878.0 79.9 L878.8 79.9 L879.5 79.9 L880.3 79.8 L881.0 79.8 L881.8 79.8 L882.5 79.7 L883.3 79.7 L884.0 79.7 L884.8 79.6 L885.5 79.6 L886.3 79.6 L887.0 79.6 L887.8 79.5 L888.5 79.5 L889.3 79.5 L890.0 79.5 L890.8 79.5 L891.5 79.5 L892.3 79.5 L893.0 79.5 L893.8 79.5 L894.5 79.5 L895.3 79.5 L896.0 79.6 L896.8 79.6 L897.5 79.7 L898.3 79.8 L899.0 79.9 L899.8 80.0 L900.5 80.1 L901.3 80.3 L902.0 80.4 L902.8 80.5 L903.5 80.7 L904.3 80.8 L905.0 81.0 L905.8 81.1 L906.5 81.3 L907.3 81.4 L908.0 81.6 L908.8 81.8 L909.5 82.0 L910.3 82.3 L911.0 82.5 L911.8 82.8 L912.5 83.1 L913.3 83.4 L914.0 83.7 L914.8 84.0 L915.5 84.3 L916.3 84.7 L917.0 85.1 L917.8 85.4 L918.5 85.8 L919.3 86.3 L920.0 86.8 L920.8 87.3 L921.5 87.8 L922.3 88.4 L923.0 89.0 L923.8 89.7 L924.5 90.3 L925.3 91.0 L926.0 91.8 L926.8 92.5 L927.5 93.3 L928.3 94.1 L929.0 95.0 L929.8 96.0 L930.5 97.0 L931.3 98.1 L932.0 99.3 L932.8 100.5 L933.5 101.7 L934.3 103.1 L935.0 104.4 L935.8 105.9 L936.5 107.4 L937.3 109.1 L938.0 111.0 L938.8 112.9 L939.5 114.9 L940.3 117.0 L941.0 119.2 L941.8 121.4 L942.5 123.7 L943.3 126.0 L944.0 128.5 L944.8 131.1 L945.5 133.8 L946.3 136.6 L947.0 139.3 L947.8 142.1 L948.5 145.0 L949.3 147.9 L950.0 150.9 L950.8 153.9 L951.5 156.7 L952.3 159.3 L953.0 161.6 L953.8 163.6 L954.5 165.5 L955.3 167.4 L956.0 169.3 L956.8 171.5 L957.5 174.0 L958.3 176.9 L959.0 180.4 L959.8 185.5 L960.5 192.4 L961.3 200.2 L962.0 208.1 L962.8 215.4 L963.5 222.8 L964.3 230.2 L965.0 237.8 L965.8 245.5 L966.5 253.3 L967.3 261.6 L968.0 270.0 L968.8 278.2 L969.5 285.7 L970.3 292.8 L971.0 299.6 L971.8 306.0 L972.5 311.8 L973.3 316.6 L974.0 320.8 L974.8 324.6 L975.5 328.0 L976.3 331.3 L977.0 334.6 L977.8 337.8 L978.5 340.6 L979.3 342.7 L980.0 344.1 L980.8 345.3 L981.5 346.1 L982.3 346.2 L983.0 345.6 L983.8 344.5 L984.5 343.1 L985.3 341.5 L986.0 339.2 L986.8 336.4 L987.5 333.4 L988.3 330.3 L989.0 326.7 L989.8 322.8 L990.5 318.9 L991.3 315.2 L992.0 311.6 L992.8 307.9 L993.5 304.1 L994.3 300.1 L995.0 296.0 L995.8 291.8 L996.5 287.8 L997.3 284.1 L998.0 280.5 L998.8 277.1 L999.5 273.7 L1000.3 270.3 L1001.0 267.1 L1001.8 263.9 L1002.5 260.8 L1003.3 257.8 L1004.0 254.8 L1004.8 251.9 L1005.5 248.9 L1006.3 246.0 L1007.0 243.2 L1007.8 240.5 L1008.5 237.9 L1009.3 235.5 L1010.0 233.3 L1010.8 231.3 L1011.5 229.2 L1012.3 227.2 L1013.0 225.2 L1013.8 223.4 L1014.5 221.6 L1015.3 220.1 L1016.0 218.8 L1016.8 217.7 L1017.5 216.9 L1018.3 216.2 L1019.0 215.5 L1019.8 214.8 L1020.5 214.2 L1021.3 213.8 L1022.0 213.4 L1022.8 213.2 L1023.5 213.1 L1024.3 213.2 L1025.0 213.4 L1025.8 213.7 L1026.5 214.1 L1027.3 214.5 L1028.0 215.0 L1028.8 215.5 L1029.5 216.0 L1030.3 216.8 L1031.0 217.7 L1031.8 218.8 L1032.5 220.1 L1033.3 221.4 L1034.0 222.8 L1034.8 224.2 L1035.5 225.8 L1036.3 227.4 L1037.0 229.2 L1037.8 231.2 L1038.5 233.2 L1039.3 235.4 L1040.0 237.6 L1040.8 240.0 L1041.5 242.6 L1042.3 245.4 L1043.0 248.3 L1043.8 251.3 L1044.5 254.4 L1045.3 257.5 L1046.0 260.6 L1046.8 263.8 L1047.5 267.1 L1048.3 270.5 L1049.0 274.0 L1049.8 277.5 L1050.5 281.2 L1051.3 284.8 L1052.0 288.5 L1052.8 292.3 L1053.5 296.5 L1054.3 301.1 L1055.0 306.4 L1055.8 312.7 L1056.5 319.5 L1057.3 326.5 L1058.0 333.2 L1058.8 339.2 L1059.5 345.1 L1060.3 350.8 L1061.0 356.4 L1061.8 361.5 L1062.5 366.3 L1063.3 370.9 L1064.0 375.2 L1064.8 379.3 L1065.5 383.0 L1066.3 386.3 L1067.0 389.3 L1067.8 392.1 L1068.5 394.5 L1069.3 396.3 L1070.0 397.3 L1070.8 398.1 L1071.5 398.5 L1072.3 398.2 L1073.0 397.3 L1073.8 395.8 L1074.5 393.9 L1075.3 390.5 L1076.0 385.6 L1076.8 380.0 L1077.5 373.9 L1078.3 366.5 L1079.0 358.4 L1079.8 350.4 L1080.5 342.4 L1081.3 333.9 L1082.0 324.4 L1082.8 313.4 L1083.5 301.6 L1084.3 289.9 L1085.0 279.3 L1085.8 269.6 L1086.5 260.4 L1087.3 251.5 L1088.0 242.9 L1088.8 234.4 L1089.5 225.9 L1090.3 217.4 L1091.0 209.2 L1091.8 201.4 L1092.5 194.2 L1093.3 187.6 L1094.0 181.4 L1094.8 175.3 L1095.5 169.2 L1096.3 163.3 L1097.0 157.6 L1097.8 151.9 L1098.5 146.4 L1099.3 141.4 L1100.0 136.9 L1100.8 132.5 L1101.5 128.5 L1102.3 124.9 L1103.0 121.8 L1103.8 118.8 L1104.5 116.0 L1105.3 113.5 L1106.0 111.2 L1106.8 109.3 L1107.5 107.7 L1108.3 106.4 L1109.0 105.1 L1109.8 104.0 L1110.5 103.0 L1111.3 102.1 L1112.0 101.4 L1112.8 100.7 L1113.5 100.2 L1114.3 99.6 L1115.0 99.1 L1115.8 98.7 L1116.5 98.3 L1117.3 97.9 L1118.0 97.6 L1118.8 97.4 L1119.5 97.2 L1120.3 97.1 L1121.0 97.0 L1121.8 96.8 L1122.5 96.7 L1123.3 96.6 L1124.0 96.6 L1124.8 96.5 L1125.5 96.4 L1126.3 96.4 L1127.0 96.4 L1127.8 96.4 L1128.5 96.4 L1129.3 96.4 L1130.0 96.5 L1130.8 96.6 L1131.5 96.7 L1132.3 96.9 L1133.0 97.1 L1133.8 97.2 L1134.5 97.4 L1135.3 97.6 L1136.0 97.8 L1136.8 98.0 L1137.5 98.2 L1138.3 98.4 L1139.0 98.6 L1139.8 98.8 L1140.5 99.1 L1141.3 99.3 L1142.0 99.5 L1142.8 99.8 L1143.5 100.1 L1144.3 100.4 L1145.0 100.6 L1145.8 100.9 L1146.5 101.2 L1147.3 101.5 L1148.0 101.8 L1148.8 102.1 L1149.5 102.4 L1150.3 102.7 L1151.0 103.0 L1151.8 103.3 L1152.5 103.5 L1153.3 103.8 L1154.0 104.1 L1154.8 104.3 L1155.5 104.6 L1156.3 104.9 L1157.0 105.1 L1157.8 105.4 L1158.5 105.7 L1159.3 105.9 L1160.0 106.2 L1160.8 106.5 L1161.5 106.7 L1162.3 107.0 L1163.0 107.3 L1163.8 107.5 L1164.5 107.8 L1165.3 108.1 L1166.0 108.3 L1166.8 108.6 L1167.5 108.8 L1168.3 109.0 L1169.0 109.3 L1169.8 109.5 L1170.5 109.7 L1171.3 110.0 L1172.0 110.2 L1172.8 110.4 L1173.5 110.6 L1174.3 110.8 L1175.0 111.0 L1175.8 111.3 L1176.5 111.5 L1177.3 111.7 L1178.0 111.9 L1178.8 112.1 L1179.5 112.3 L1180.3 112.5 L1181.0 112.7 L1181.8 112.9 L1182.5 113.1 L1183.3 113.3 L1184.0 113.5 L1184.8 113.7 L1185.5 113.8 L1186.3 114.0 L1187.0 114.2 L1187.8 114.4 L1188.5 114.5 L1189.3 114.7 L1190.0 114.8 L1190.8 115.0 L1191.5 115.1 L1192.3 115.3 L1193.0 115.4 L1193.8 115.5 L1194.5 115.7 L1195.3 115.8 L1196.0 115.9 L1196.8 116.0 L1197.5 116.2 L1198.3 116.3 L1199.0 116.4 L1199.8 116.5 L1200.5 116.6 L1201.3 116.7 L1202.0 116.9 L1202.8 117.0 L1203.5 117.1 L1204.3 117.2 L1205.0 117.3 L1205.8 117.4 L1206.5 117.5 L1207.3 117.6 L1208.0 117.7 L1208.8 117.8 L1209.5 117.9 L1210.3 118.0 L1211.0 118.1 L1211.8 118.1 L1212.5 118.2 L1213.3 118.3 L1214.0 118.4 L1214.8 118.5 L1215.5 118.5 L1216.3 118.6 L1217.0 118.7 L1217.8 118.8 L1218.5 118.8 L1219.3 118.9 L1220.0 119.0 L1220.8 119.0 L1221.5 119.1 L1222.3 119.1 L1223.0 119.2 L1223.8 119.3 L1224.5 119.3 L1225.3 119.4 L1226.0 119.4 L1226.8 119.5 L1227.5 119.6 L1228.3 119.6 L1229.0 119.7 L1229.8 119.7 L1230.5 119.8 L1231.3 119.8 L1232.0 119.9 L1232.8 119.9 L1233.5 120.0 L1234.3 120.0 L1235.0 120.1 L1235.8 120.1 L1236.5 120.2 L1237.3 120.2 L1238.0 120.2 L1238.8 120.3 L1239.5 120.3 L1240.3 120.4 L1241.0 120.4 L1241.8 120.4 L1242.5 120.5 L1243.3 120.5 L1244.0 120.5 L1244.8 120.5 L1245.5 120.6 L1246.3 120.6 L1247.0 120.6 L1247.8 120.6 L1248.5 120.7 L1249.3 120.7 L1250.0 120.7 L1250.8 120.7 L1251.5 120.7 L1252.3 120.7 L1253.0 120.8 L1253.8 120.8 L1254.5 120.8 L1255.3 120.8 L1256.0 120.8 L1256.8 120.8 L1257.5 120.9 L1258.3 120.9 L1259.0 120.9 L1259.8 120.9 L1260.5 120.9 L1261.3 120.9 L1262.0 120.9 L1262.8 121.0 L1263.5 121.0 L1264.3 121.0 L1265.0 121.0 L1265.8 121.0 L1266.5 121.0 L1267.3 121.0 L1268.0 121.0 L1268.8 121.1 L1269.5 121.1 L1270.3 121.1 L1271.0 121.1 L1271.8 121.1 L1272.5 121.1 L1273.3 121.1 L1274.0 121.1 L1274.8 121.1 L1275.5 121.1 L1276.3 121.1 L1277.0 121.1 L1277.8 121.2 L1278.5 121.2 L1279.3 121.2 L1280.0 121.2 L1280.8 121.2 L1281.5 121.2 L1282.3 121.2 L1283.0 121.2 L1283.8 121.2 L1284.5 121.2" fill="none" stroke="#008000" stroke-width="2.1" stroke-linejoin="round" stroke-linecap="round"/>
<path d="M746.8 151.2 L747.5 151.0 L748.3 150.8 L749.0 150.6 L749.8 150.4 L750.5 150.2 L751.3 150.0 L752.0 149.8 L752.8 149.6 L753.5 149.4 L754.3 149.2 L755.0 149.0 L755.8 148.8 L756.5 148.6 L757.3 148.4 L758.0 148.2 L758.8 148.0 L759.5 147.8 L760.3 147.6 L761.0 147.4 L761.8 147.2 L762.5 147.0 L763.3 146.8 L764.0 146.7 L764.8 146.5 L765.5 146.3 L766.3 146.1 L767.0 145.9 L767.8 145.7 L768.5 145.5 L769.3 145.3 L770.0 145.2 L770.8 145.0 L771.5 144.8 L772.3 144.6 L773.0 144.4 L773.8 144.2 L774.5 144.1 L775.3 143.9 L776.0 143.7 L776.8 143.5 L777.5 143.3 L778.3 143.2 L779.0 143.0 L779.8 142.8 L780.5 142.6 L781.3 142.4 L782.0 142.3 L782.8 142.1 L783.5 141.9 L784.3 141.7 L785.0 141.6 L785.8 141.4 L786.5 141.2 L787.3 141.0 L788.0 140.9 L788.8 140.7 L789.5 140.5 L790.3 140.4 L791.0 140.2 L791.8 140.0 L792.5 139.8 L793.3 139.7 L794.0 139.5 L794.8 139.3 L795.5 139.2 L796.3 139.0 L797.0 138.8 L797.8 138.7 L798.5 138.5 L799.3 138.4 L800.0 138.2 L800.8 138.0 L801.5 137.9 L802.3 137.7 L803.0 137.6 L803.8 137.4 L804.5 137.2 L805.3 137.1 L806.0 136.9 L806.8 136.7 L807.5 136.6 L808.3 136.4 L809.0 136.3 L809.8 136.1 L810.5 135.9 L811.3 135.8 L812.0 135.6 L812.8 135.5 L813.5 135.3 L814.3 135.1 L815.0 135.0 L815.8 134.8 L816.5 134.7 L817.3 134.5 L818.0 134.4 L818.8 134.2 L819.5 134.1 L820.3 134.0 L821.0 133.8 L821.8 133.7 L822.5 133.5 L823.3 133.4 L824.0 133.3 L824.8 133.1 L825.5 133.0 L826.3 132.9 L827.0 132.8 L827.8 132.6 L828.5 132.5 L829.3 132.4 L830.0 132.3 L830.8 132.2 L831.5 132.1 L832.3 132.0 L833.0 131.8 L833.8 131.7 L834.5 131.6 L835.3 131.5 L836.0 131.4 L836.8 131.3 L837.5 131.2 L838.3 131.1 L839.0 131.0 L839.8 130.9 L840.5 130.8 L841.3 130.7 L842.0 130.6 L842.8 130.5 L843.5 130.4 L844.3 130.3 L845.0 130.2 L845.8 130.1 L846.5 130.0 L847.3 130.0 L848.0 129.9 L848.8 129.8 L849.5 129.7 L850.3 129.6 L851.0 129.5 L851.8 129.4 L852.5 129.4 L853.3 129.3 L854.0 129.2 L854.8 129.1 L855.5 129.0 L856.3 129.0 L857.0 128.9 L857.8 128.8 L858.5 128.7 L859.3 128.6 L860.0 128.6 L860.8 128.5 L861.5 128.4 L862.3 128.3 L863.0 128.2 L863.8 128.2 L864.5 128.1 L865.3 128.0 L866.0 127.9 L866.8 127.8 L867.5 127.8 L868.3 127.7 L869.0 127.6 L869.8 127.6 L870.5 127.5 L871.3 127.5 L872.0 127.4 L872.8 127.4 L873.5 127.3 L874.3 127.3 L875.0 127.2 L875.8 127.2 L876.5 127.2 L877.3 127.2 L878.0 127.2 L878.8 127.1 L879.5 127.1 L880.3 127.1 L881.0 127.1 L881.8 127.1 L882.5 127.0 L883.3 127.0 L884.0 127.0 L884.8 127.0 L885.5 127.0 L886.3 127.0 L887.0 127.0 L887.8 126.9 L888.5 126.9 L889.3 126.9 L890.0 126.9 L890.8 126.9 L891.5 126.9 L892.3 126.9 L893.0 126.9 L893.8 126.9 L894.5 126.9 L895.3 127.0 L896.0 127.0 L896.8 127.1 L897.5 127.1 L898.3 127.2 L899.0 127.3 L899.8 127.4 L900.5 127.5 L901.3 127.6 L902.0 127.7 L902.8 127.8 L903.5 127.9 L904.3 128.1 L905.0 128.2 L905.8 128.3 L906.5 128.5 L907.3 128.6 L908.0 128.8 L908.8 129.0 L909.5 129.2 L910.3 129.4 L911.0 129.7 L911.8 130.0 L912.5 130.3 L913.3 130.6 L914.0 130.9 L914.8 131.2 L915.5 131.6 L916.3 131.9 L917.0 132.3 L917.8 132.6 L918.5 133.0 L919.3 133.4 L920.0 133.8 L920.8 134.2 L921.5 134.7 L922.3 135.2 L923.0 135.7 L923.8 136.2 L924.5 136.7 L925.3 137.3 L926.0 137.9 L926.8 138.5 L927.5 139.1 L928.3 139.7 L929.0 140.4 L929.8 141.1 L930.5 141.9 L931.3 142.7 L932.0 143.5 L932.8 144.3 L933.5 145.2 L934.3 146.1 L935.0 147.0 L935.8 148.0 L936.5 148.9 L937.3 150.0 L938.0 151.1 L938.8 152.2 L939.5 153.3 L940.3 154.5 L941.0 155.8 L941.8 157.0 L942.5 158.3 L943.3 159.6 L944.0 161.0 L944.8 162.4 L945.5 163.9 L946.3 165.4 L947.0 166.9 L947.8 168.5 L948.5 170.2 L949.3 171.9 L950.0 173.6 L950.8 175.2 L951.5 176.8 L952.3 178.6 L953.0 180.7 L953.8 183.1 L954.5 186.0 L955.3 189.7 L956.0 196.2 L956.8 205.1 L957.5 215.1 L958.3 225.0 L959.0 233.8 L959.8 241.6 L960.5 249.1 L961.3 256.5 L962.0 263.9 L962.8 271.3 L963.5 279.3 L964.3 288.3 L965.0 297.3 L965.8 305.2 L966.5 310.9 L967.3 313.7 L968.0 315.3 L968.8 316.5 L969.5 317.5 L970.3 318.8 L971.0 320.7 L971.8 323.8 L972.5 327.8 L973.3 332.3 L974.0 336.9 L974.8 341.1 L975.5 344.9 L976.3 348.8 L977.0 352.6 L977.8 356.1 L978.5 359.0 L979.3 361.4 L980.0 363.6 L980.8 365.6 L981.5 367.4 L982.3 368.7 L983.0 369.6 L983.8 370.2 L984.5 370.8 L985.3 371.2 L986.0 371.2 L986.8 370.5 L987.5 369.4 L988.3 367.9 L989.0 366.3 L989.8 364.6 L990.5 362.6 L991.3 360.2 L992.0 357.5 L992.8 354.6 L993.5 351.6 L994.3 348.6 L995.0 345.8 L995.8 342.9 L996.5 339.9 L997.3 336.8 L998.0 333.7 L998.8 330.6 L999.5 327.6 L1000.3 324.8 L1001.0 321.9 L1001.8 318.9 L1002.5 316.0 L1003.3 313.1 L1004.0 310.3 L1004.8 307.7 L1005.5 305.3 L1006.3 303.1 L1007.0 301.1 L1007.8 299.3 L1008.5 297.5 L1009.3 295.9 L1010.0 294.4 L1010.8 293.0 L1011.5 291.9 L1012.3 291.1 L1013.0 290.2 L1013.8 289.5 L1014.5 288.8 L1015.3 288.2 L1016.0 287.7 L1016.8 287.5 L1017.5 287.4 L1018.3 287.6 L1019.0 288.0 L1019.8 288.5 L1020.5 289.1 L1021.3 289.9 L1022.0 290.7 L1022.8 291.6 L1023.5 292.8 L1024.3 294.3 L1025.0 296.2 L1025.8 298.2 L1026.5 300.4 L1027.3 302.7 L1028.0 305.0 L1028.8 307.4 L1029.5 310.1 L1030.3 312.9 L1031.0 315.8 L1031.8 318.9 L1032.5 322.1 L1033.3 325.4 L1034.0 328.7 L1034.8 332.0 L1035.5 335.6 L1036.3 339.3 L1037.0 343.2 L1037.8 347.1 L1038.5 350.9 L1039.3 354.7 L1040.0 358.3 L1040.8 361.8 L1041.5 365.3 L1042.3 368.7 L1043.0 372.1 L1043.8 375.4 L1044.5 378.6 L1045.3 381.9 L1046.0 385.4 L1046.8 388.9 L1047.5 392.0 L1048.3 394.4 L1049.0 396.3 L1049.8 398.0 L1050.5 399.1 L1051.3 399.3 L1052.0 398.7 L1052.8 397.5 L1053.5 396.1 L1054.3 393.7 L1055.0 389.8 L1055.8 384.8 L1056.5 379.4 L1057.3 372.6 L1058.0 364.6 L1058.8 356.4 L1059.5 348.0 L1060.3 339.0 L1061.0 331.1 L1061.8 325.2 L1062.5 320.5 L1063.3 315.6 L1064.0 309.4 L1064.8 299.7 L1065.5 286.1 L1066.3 272.6 L1067.0 258.5 L1067.8 244.6 L1068.5 232.2 L1069.3 221.5 L1070.0 211.6 L1070.8 202.6 L1071.5 194.2 L1072.3 186.7 L1073.0 179.6 L1073.8 172.7 L1074.5 166.0 L1075.3 159.4 L1076.0 152.6 L1076.8 145.7 L1077.5 139.1 L1078.3 133.1 L1079.0 127.5 L1079.8 122.1 L1080.5 117.2 L1081.3 112.8 L1082.0 109.2 L1082.8 106.2 L1083.5 103.5 L1084.3 101.0 L1085.0 98.8 L1085.8 96.8 L1086.5 95.2 L1087.3 93.7 L1088.0 92.4 L1088.8 91.2 L1089.5 90.1 L1090.3 89.1 L1091.0 88.2 L1091.8 87.5 L1092.5 87.0 L1093.3 86.5 L1094.0 86.0 L1094.8 85.5 L1095.5 85.1 L1096.3 84.8 L1097.0 84.5 L1097.8 84.3 L1098.5 84.1 L1099.3 84.1 L1100.0 84.1 L1100.8 84.1 L1101.5 84.2 L1102.3 84.3 L1103.0 84.4 L1103.8 84.5 L1104.5 84.6 L1105.3 84.8 L1106.0 84.9 L1106.8 85.1 L1107.5 85.4 L1108.3 85.8 L1109.0 86.2 L1109.8 86.7 L1110.5 87.2 L1111.3 87.7 L1112.0 88.3 L1112.8 88.9 L1113.5 89.4 L1114.3 89.9 L1115.0 90.4 L1115.8 90.9 L1116.5 91.5 L1117.3 92.0 L1118.0 92.5 L1118.8 93.1 L1119.5 93.7 L1120.3 94.2 L1121.0 94.8 L1121.8 95.4 L1122.5 96.0 L1123.3 96.6 L1124.0 97.2 L1124.8 97.8 L1125.5 98.4 L1126.3 99.0 L1127.0 99.6 L1127.8 100.2 L1128.5 100.9 L1129.3 101.5 L1130.0 102.2 L1130.8 102.8 L1131.5 103.5 L1132.3 104.1 L1133.0 104.8 L1133.8 105.4 L1134.5 106.1 L1135.3 106.7 L1136.0 107.3 L1136.8 107.9 L1137.5 108.5 L1138.3 109.1 L1139.0 109.7 L1139.8 110.3 L1140.5 110.8 L1141.3 111.4 L1142.0 112.0 L1142.8 112.5 L1143.5 113.1 L1144.3 113.6 L1145.0 114.2 L1145.8 114.7 L1146.5 115.3 L1147.3 115.8 L1148.0 116.3 L1148.8 116.9 L1149.5 117.4 L1150.3 117.9 L1151.0 118.4 L1151.8 118.9 L1152.5 119.3 L1153.3 119.8 L1154.0 120.3 L1154.8 120.7 L1155.5 121.2 L1156.3 121.6 L1157.0 122.1 L1157.8 122.5 L1158.5 122.9 L1159.3 123.4 L1160.0 123.8 L1160.8 124.2 L1161.5 124.6 L1162.3 125.0 L1163.0 125.4 L1163.8 125.8 L1164.5 126.2 L1165.3 126.6 L1166.0 127.0 L1166.8 127.4 L1167.5 127.7 L1168.3 128.1 L1169.0 128.5 L1169.8 128.8 L1170.5 129.2 L1171.3 129.5 L1172.0 129.8 L1172.8 130.1 L1173.5 130.5 L1174.3 130.8 L1175.0 131.1 L1175.8 131.4 L1176.5 131.7 L1177.3 132.0 L1178.0 132.3 L1178.8 132.6 L1179.5 132.9 L1180.3 133.2 L1181.0 133.4 L1181.8 133.7 L1182.5 134.0 L1183.3 134.3 L1184.0 134.5 L1184.8 134.8 L1185.5 135.1 L1186.3 135.3 L1187.0 135.6 L1187.8 135.8 L1188.5 136.1 L1189.3 136.3 L1190.0 136.5 L1190.8 136.7 L1191.5 137.0 L1192.3 137.2 L1193.0 137.4 L1193.8 137.6 L1194.5 137.7 L1195.3 137.9 L1196.0 138.1 L1196.8 138.3 L1197.5 138.4 L1198.3 138.6 L1199.0 138.8 L1199.8 138.9 L1200.5 139.1 L1201.3 139.2 L1202.0 139.4 L1202.8 139.5 L1203.5 139.7 L1204.3 139.8 L1205.0 139.9 L1205.8 140.1 L1206.5 140.2 L1207.3 140.3 L1208.0 140.5 L1208.8 140.6 L1209.5 140.7 L1210.3 140.8 L1211.0 140.9 L1211.8 141.0 L1212.5 141.2 L1213.3 141.3 L1214.0 141.4 L1214.8 141.5 L1215.5 141.6 L1216.3 141.7 L1217.0 141.8 L1217.8 141.9 L1218.5 142.0 L1219.3 142.0 L1220.0 142.1 L1220.8 142.2 L1221.5 142.3 L1222.3 142.4 L1223.0 142.4 L1223.8 142.5 L1224.5 142.6 L1225.3 142.7 L1226.0 142.8 L1226.8 142.8 L1227.5 142.9 L1228.3 143.0 L1229.0 143.0 L1229.8 143.1 L1230.5 143.2 L1231.3 143.2 L1232.0 143.3 L1232.8 143.4 L1233.5 143.4 L1234.3 143.5 L1235.0 143.6 L1235.8 143.6 L1236.5 143.7 L1237.3 143.7 L1238.0 143.8 L1238.8 143.8 L1239.5 143.9 L1240.3 143.9 L1241.0 144.0 L1241.8 144.0 L1242.5 144.1 L1243.3 144.1 L1244.0 144.2 L1244.8 144.2 L1245.5 144.3 L1246.3 144.3 L1247.0 144.3 L1247.8 144.4 L1248.5 144.4 L1249.3 144.4 L1250.0 144.5 L1250.8 144.5 L1251.5 144.5 L1252.3 144.6 L1253.0 144.6 L1253.8 144.6 L1254.5 144.7 L1255.3 144.7 L1256.0 144.7 L1256.8 144.7 L1257.5 144.8 L1258.3 144.8 L1259.0 144.8 L1259.8 144.9 L1260.5 144.9 L1261.3 144.9 L1262.0 145.0 L1262.8 145.0 L1263.5 145.0 L1264.3 145.0 L1265.0 145.1 L1265.8 145.1 L1266.5 145.1 L1267.3 145.1 L1268.0 145.2 L1268.8 145.2 L1269.5 145.2 L1270.3 145.2 L1271.0 145.3 L1271.8 145.3 L1272.5 145.3 L1273.3 145.3 L1274.0 145.3 L1274.8 145.3 L1275.5 145.4 L1276.3 145.4 L1277.0 145.4 L1277.8 145.4 L1278.5 145.4 L1279.3 145.4 L1280.0 145.4 L1280.8 145.4 L1281.5 145.4 L1282.3 145.4 L1283.0 145.4 L1283.8 145.5 L1284.5 145.5" fill="none" stroke="#800000" stroke-width="2.1" stroke-linejoin="round" stroke-linecap="round"/>
<path d="M746.8 166.2 L747.5 166.1 L748.3 166.0 L749.0 165.8 L749.8 165.7 L750.5 165.6 L751.3 165.5 L752.0 165.4 L752.8 165.3 L753.5 165.2 L754.3 165.1 L755.0 164.9 L755.8 164.8 L756.5 164.7 L757.3 164.6 L758.0 164.5 L758.8 164.4 L759.5 164.3 L760.3 164.1 L761.0 164.0 L761.8 163.9 L762.5 163.8 L763.3 163.7 L764.0 163.6 L764.8 163.4 L765.5 163.3 L766.3 163.2 L767.0 163.1 L767.8 163.0 L768.5 162.8 L769.3 162.7 L770.0 162.6 L770.8 162.5 L771.5 162.4 L772.3 162.2 L773.0 162.1 L773.8 162.0 L774.5 161.9 L775.3 161.8 L776.0 161.6 L776.8 161.5 L777.5 161.4 L778.3 161.3 L779.0 161.1 L779.8 161.0 L780.5 160.9 L781.3 160.8 L782.0 160.6 L782.8 160.5 L783.5 160.4 L784.3 160.2 L785.0 160.1 L785.8 160.0 L786.5 159.9 L787.3 159.7 L788.0 159.6 L788.8 159.5 L789.5 159.3 L790.3 159.2 L791.0 159.1 L791.8 159.0 L792.5 158.8 L793.3 158.7 L794.0 158.6 L794.8 158.5 L795.5 158.4 L796.3 158.2 L797.0 158.1 L797.8 158.0 L798.5 157.9 L799.3 157.8 L800.0 157.6 L800.8 157.5 L801.5 157.4 L802.3 157.3 L803.0 157.2 L803.8 157.1 L804.5 156.9 L805.3 156.8 L806.0 156.7 L806.8 156.6 L807.5 156.5 L808.3 156.3 L809.0 156.2 L809.8 156.1 L810.5 156.0 L811.3 155.9 L812.0 155.8 L812.8 155.7 L813.5 155.5 L814.3 155.4 L815.0 155.3 L815.8 155.2 L816.5 155.1 L817.3 155.0 L818.0 154.9 L818.8 154.8 L819.5 154.7 L820.3 154.6 L821.0 154.5 L821.8 154.4 L822.5 154.3 L823.3 154.2 L824.0 154.1 L824.8 154.0 L825.5 153.9 L826.3 153.8 L827.0 153.7 L827.8 153.6 L828.5 153.6 L829.3 153.5 L830.0 153.4 L830.8 153.3 L831.5 153.2 L832.3 153.1 L833.0 153.1 L833.8 153.0 L834.5 152.9 L835.3 152.8 L836.0 152.7 L836.8 152.7 L837.5 152.6 L838.3 152.5 L839.0 152.4 L839.8 152.4 L840.5 152.3 L841.3 152.2 L842.0 152.2 L842.8 152.1 L843.5 152.0 L844.3 151.9 L845.0 151.9 L845.8 151.8 L846.5 151.8 L847.3 151.7 L848.0 151.6 L848.8 151.6 L849.5 151.5 L850.3 151.5 L851.0 151.4 L851.8 151.4 L852.5 151.3 L853.3 151.3 L854.0 151.2 L854.8 151.2 L855.5 151.2 L856.3 151.1 L857.0 151.1 L857.8 151.0 L858.5 151.0 L859.3 151.0 L860.0 150.9 L860.8 150.9 L861.5 150.8 L862.3 150.8 L863.0 150.8 L863.8 150.7 L864.5 150.7 L865.3 150.7 L866.0 150.6 L866.8 150.6 L867.5 150.6 L868.3 150.5 L869.0 150.5 L869.8 150.5 L870.5 150.5 L871.3 150.4 L872.0 150.4 L872.8 150.4 L873.5 150.4 L874.3 150.4 L875.0 150.4 L875.8 150.4 L876.5 150.4 L877.3 150.4 L878.0 150.4 L878.8 150.4 L879.5 150.4 L880.3 150.4 L881.0 150.4 L881.8 150.4 L882.5 150.4 L883.3 150.5 L884.0 150.5 L884.8 150.5 L885.5 150.5 L886.3 150.6 L887.0 150.6 L887.8 150.6 L888.5 150.7 L889.3 150.7 L890.0 150.7 L890.8 150.8 L891.5 150.8 L892.3 150.9 L893.0 150.9 L893.8 150.9 L894.5 151.0 L895.3 151.1 L896.0 151.1 L896.8 151.2 L897.5 151.3 L898.3 151.4 L899.0 151.5 L899.8 151.7 L900.5 151.8 L901.3 151.9 L902.0 152.1 L902.8 152.2 L903.5 152.4 L904.3 152.5 L905.0 152.7 L905.8 152.8 L906.5 153.0 L907.3 153.2 L908.0 153.4 L908.8 153.5 L909.5 153.8 L910.3 154.0 L911.0 154.2 L911.8 154.4 L912.5 154.7 L913.3 155.0 L914.0 155.2 L914.8 155.5 L915.5 155.8 L916.3 156.1 L917.0 156.4 L917.8 156.7 L918.5 157.1 L919.3 157.4 L920.0 157.8 L920.8 158.1 L921.5 158.5 L922.3 158.9 L923.0 159.3 L923.8 159.8 L924.5 160.3 L925.3 160.8 L926.0 161.3 L926.8 161.9 L927.5 162.5 L928.3 163.1 L929.0 163.7 L929.8 164.4 L930.5 165.2 L931.3 165.9 L932.0 166.8 L932.8 167.6 L933.5 168.5 L934.3 169.5 L935.0 170.4 L935.8 171.5 L936.5 172.5 L937.3 173.6 L938.0 174.7 L938.8 175.9 L939.5 177.2 L940.3 178.5 L941.0 179.8 L941.8 181.2 L942.5 182.7 L943.3 184.2 L944.0 185.8 L944.8 187.4 L945.5 189.0 L946.3 190.6 L947.0 192.2 L947.8 193.9 L948.5 195.6 L949.3 197.4 L950.0 199.3 L950.8 201.4 L951.5 203.7 L952.3 206.2 L953.0 209.0 L953.8 212.3 L954.5 216.8 L955.3 221.9 L956.0 227.8 L956.8 234.4 L957.5 241.5 L958.3 248.8 L959.0 256.1 L959.8 263.1 L960.5 269.7 L961.3 276.7 L962.0 284.1 L962.8 291.5 L963.5 298.2 L964.3 304.0 L965.0 308.1 L965.8 310.3 L966.5 311.5 L967.3 312.2 L968.0 312.9 L968.8 313.7 L969.5 314.9 L970.3 317.6 L971.0 322.1 L971.8 327.8 L972.5 333.9 L973.3 339.7 L974.0 344.8 L974.8 350.0 L975.5 355.1 L976.3 360.2 L977.0 365.0 L977.8 369.6 L978.5 374.0 L979.3 378.3 L980.0 382.3 L980.8 386.1 L981.5 389.4 L982.3 392.4 L983.0 395.3 L983.8 398.0 L984.5 400.5 L985.3 402.7 L986.0 404.6 L986.8 406.3 L987.5 408.0 L988.3 409.6 L989.0 411.0 L989.8 412.0 L990.5 412.5 L991.3 412.5 L992.0 412.3 L992.8 411.9 L993.5 411.4 L994.3 410.8 L995.0 410.2 L995.8 409.5 L996.5 408.6 L997.3 407.5 L998.0 406.4 L998.8 405.4 L999.5 404.4 L1000.3 403.6 L1001.0 402.8 L1001.8 402.0 L1002.5 401.3 L1003.3 400.6 L1004.0 400.0 L1004.8 399.6 L1005.5 399.3 L1006.3 399.1 L1007.0 398.8 L1007.8 398.7 L1008.5 398.6 L1009.3 398.5 L1010.0 398.7 L1010.8 399.3 L1011.5 400.1 L1012.3 401.1 L1013.0 402.1 L1013.8 403.2 L1014.5 404.5 L1015.3 406.0 L1016.0 407.6 L1016.8 409.3 L1017.5 410.9 L1018.3 412.5 L1019.0 413.9 L1019.8 415.4 L1020.5 416.9 L1021.3 418.2 L1022.0 419.2 L1022.8 419.9 L1023.5 420.3 L1024.3 420.7 L1025.0 420.9 L1025.8 421.1 L1026.5 420.9 L1027.3 420.0 L1028.0 418.6 L1028.8 416.9 L1029.5 414.9 L1030.3 411.8 L1031.0 407.8 L1031.8 403.2 L1032.5 397.8 L1033.3 391.2 L1034.0 383.8 L1034.8 376.1 L1035.5 367.7 L1036.3 358.6 L1037.0 348.9 L1037.8 338.6 L1038.5 327.5 L1039.3 316.0 L1040.0 304.3 L1040.8 292.4 L1041.5 279.6 L1042.3 265.4 L1043.0 251.3 L1043.8 238.9 L1044.5 228.9 L1045.3 220.2 L1046.0 211.7 L1046.8 202.6 L1047.5 192.6 L1048.3 183.2 L1049.0 176.0 L1049.8 170.3 L1050.5 165.0 L1051.3 159.3 L1052.0 152.5 L1052.8 144.9 L1053.5 137.3 L1054.3 130.2 L1055.0 123.4 L1055.8 116.7 L1056.5 110.5 L1057.3 105.0 L1058.0 100.4 L1058.8 96.1 L1059.5 92.2 L1060.3 88.6 L1061.0 85.3 L1061.8 82.3 L1062.5 79.3 L1063.3 76.5 L1064.0 73.9 L1064.8 71.5 L1065.5 69.3 L1066.3 67.5 L1067.0 66.0 L1067.8 64.5 L1068.5 63.2 L1069.3 62.0 L1070.0 60.9 L1070.8 60.0 L1071.5 59.3 L1072.3 58.7 L1073.0 58.2 L1073.8 57.7 L1074.5 57.2 L1075.3 56.7 L1076.0 56.4 L1076.8 56.1 L1077.5 55.9 L1078.3 55.7 L1079.0 55.7 L1079.8 55.7 L1080.5 55.8 L1081.3 55.8 L1082.0 55.9 L1082.8 55.9 L1083.5 56.0 L1084.3 56.1 L1085.0 56.2 L1085.8 56.3 L1086.5 56.5 L1087.3 56.8 L1088.0 57.1 L1088.8 57.5 L1089.5 58.0 L1090.3 58.5 L1091.0 59.0 L1091.8 59.5 L1092.5 60.1 L1093.3 60.6 L1094.0 61.1 L1094.8 61.7 L1095.5 62.3 L1096.3 63.0 L1097.0 63.7 L1097.8 64.4 L1098.5 65.1 L1099.3 65.9 L1100.0 66.7 L1100.8 67.4 L1101.5 68.2 L1102.3 68.9 L1103.0 69.7 L1103.8 70.4 L1104.5 71.2 L1105.3 71.9 L1106.0 72.6 L1106.8 73.4 L1107.5 74.1 L1108.3 74.9 L1109.0 75.6 L1109.8 76.4 L1110.5 77.2 L1111.3 77.9 L1112.0 78.7 L1112.8 79.4 L1113.5 80.2 L1114.3 80.9 L1115.0 81.7 L1115.8 82.4 L1116.5 83.2 L1117.3 84.0 L1118.0 84.7 L1118.8 85.5 L1119.5 86.3 L1120.3 87.0 L1121.0 87.8 L1121.8 88.5 L1122.5 89.3 L1123.3 90.0 L1124.0 90.7 L1124.8 91.5 L1125.5 92.2 L1126.3 92.9 L1127.0 93.6 L1127.8 94.3 L1128.5 95.0 L1129.3 95.7 L1130.0 96.4 L1130.8 97.1 L1131.5 97.8 L1132.3 98.4 L1133.0 99.1 L1133.8 99.8 L1134.5 100.4 L1135.3 101.1 L1136.0 101.7 L1136.8 102.4 L1137.5 103.0 L1138.3 103.6 L1139.0 104.3 L1139.8 104.9 L1140.5 105.5 L1141.3 106.1 L1142.0 106.7 L1142.8 107.3 L1143.5 107.9 L1144.3 108.5 L1145.0 109.1 L1145.8 109.7 L1146.5 110.3 L1147.3 110.9 L1148.0 111.4 L1148.8 112.0 L1149.5 112.6 L1150.3 113.1 L1151.0 113.6 L1151.8 114.2 L1152.5 114.7 L1153.3 115.2 L1154.0 115.6 L1154.8 116.1 L1155.5 116.5 L1156.3 117.0 L1157.0 117.4 L1157.8 117.9 L1158.5 118.3 L1159.3 118.7 L1160.0 119.1 L1160.8 119.5 L1161.5 119.9 L1162.3 120.3 L1163.0 120.7 L1163.8 121.1 L1164.5 121.5 L1165.3 121.8 L1166.0 122.2 L1166.8 122.5 L1167.5 122.9 L1168.3 123.3 L1169.0 123.6 L1169.8 123.9 L1170.5 124.3 L1171.3 124.6 L1172.0 124.9 L1172.8 125.2 L1173.5 125.6 L1174.3 125.9 L1175.0 126.2 L1175.8 126.5 L1176.5 126.8 L1177.3 127.1 L1178.0 127.4 L1178.8 127.7 L1179.5 128.0 L1180.3 128.3 L1181.0 128.6 L1181.8 128.9 L1182.5 129.2 L1183.3 129.4 L1184.0 129.7 L1184.8 130.0 L1185.5 130.3 L1186.3 130.5 L1187.0 130.8 L1187.8 131.0 L1188.5 131.3 L1189.3 131.5 L1190.0 131.8 L1190.8 132.0 L1191.5 132.2 L1192.3 132.5 L1193.0 132.7 L1193.8 132.9 L1194.5 133.1 L1195.3 133.3 L1196.0 133.5 L1196.8 133.7 L1197.5 133.8 L1198.3 134.0 L1199.0 134.2 L1199.8 134.4 L1200.5 134.5 L1201.3 134.7 L1202.0 134.9 L1202.8 135.0 L1203.5 135.2 L1204.3 135.4 L1205.0 135.5 L1205.8 135.7 L1206.5 135.8 L1207.3 136.0 L1208.0 136.1 L1208.8 136.3 L1209.5 136.4 L1210.3 136.6 L1211.0 136.7 L1211.8 136.8 L1212.5 137.0 L1213.3 137.1 L1214.0 137.2 L1214.8 137.3 L1215.5 137.4 L1216.3 137.5 L1217.0 137.6 L1217.8 137.8 L1218.5 137.8 L1219.3 137.9 L1220.0 138.0 L1220.8 138.1 L1221.5 138.2 L1222.3 138.3 L1223.0 138.4 L1223.8 138.4 L1224.5 138.5 L1225.3 138.6 L1226.0 138.7 L1226.8 138.7 L1227.5 138.8 L1228.3 138.9 L1229.0 139.0 L1229.8 139.0 L1230.5 139.1 L1231.3 139.2 L1232.0 139.2 L1232.8 139.3 L1233.5 139.3 L1234.3 139.4 L1235.0 139.5 L1235.8 139.5 L1236.5 139.6 L1237.3 139.6 L1238.0 139.7 L1238.8 139.7 L1239.5 139.8 L1240.3 139.8 L1241.0 139.9 L1241.8 139.9 L1242.5 140.0 L1243.3 140.0 L1244.0 140.1 L1244.8 140.1 L1245.5 140.2 L1246.3 140.2 L1247.0 140.2 L1247.8 140.3 L1248.5 140.3 L1249.3 140.3 L1250.0 140.4 L1250.8 140.4 L1251.5 140.5 L1252.3 140.5 L1253.0 140.5 L1253.8 140.6 L1254.5 140.6 L1255.3 140.6 L1256.0 140.7 L1256.8 140.7 L1257.5 140.8 L1258.3 140.8 L1259.0 140.8 L1259.8 140.9 L1260.5 140.9 L1261.3 140.9 L1262.0 141.0 L1262.8 141.0 L1263.5 141.0 L1264.3 141.1 L1265.0 141.1 L1265.8 141.1 L1266.5 141.1 L1267.3 141.2 L1268.0 141.2 L1268.8 141.2 L1269.5 141.3 L1270.3 141.3 L1271.0 141.3 L1271.8 141.3 L1272.5 141.4 L1273.3 141.4 L1274.0 141.4 L1274.8 141.4 L1275.5 141.4 L1276.3 141.5 L1277.0 141.5 L1277.8 141.5 L1278.5 141.5 L1279.3 141.5 L1280.0 141.6 L1280.8 141.6 L1281.5 141.6 L1282.3 141.6 L1283.0 141.6 L1283.8 141.6 L1284.5 141.6" fill="none" stroke="#ff33ff" stroke-width="2.1" stroke-linejoin="round" stroke-linecap="round"/>
<path d="M746.8 47.3 L747.5 47.3 L748.3 47.3 L749.0 47.3 L749.8 47.3 L750.5 47.3 L751.3 47.3 L752.0 47.3 L752.8 47.3 L753.5 47.3 L754.3 47.3 L755.0 47.3 L755.8 47.3 L756.5 47.3 L757.3 47.3 L758.0 47.3 L758.8 47.3 L759.5 47.3 L760.3 47.3 L761.0 47.3 L761.8 47.3 L762.5 47.3 L763.3 47.3 L764.0 47.3 L764.8 47.3 L765.5 47.3 L766.3 47.3 L767.0 47.4 L767.8 47.4 L768.5 47.4 L769.3 47.4 L770.0 47.4 L770.8 47.4 L771.5 47.4 L772.3 47.4 L773.0 47.4 L773.8 47.4 L774.5 47.4 L775.3 47.4 L776.0 47.4 L776.8 47.4 L777.5 47.4 L778.3 47.5 L779.0 47.5 L779.8 47.5 L780.5 47.5 L781.3 47.5 L782.0 47.5 L782.8 47.5 L783.5 47.5 L784.3 47.5 L785.0 47.5 L785.8 47.5 L786.5 47.5 L787.3 47.5 L788.0 47.6 L788.8 47.6 L789.5 47.6 L790.3 47.6 L791.0 47.6 L791.8 47.6 L792.5 47.6 L793.3 47.6 L794.0 47.7 L794.8 47.7 L795.5 47.7 L796.3 47.7 L797.0 47.7 L797.8 47.8 L798.5 47.8 L799.3 47.8 L800.0 47.8 L800.8 47.8 L801.5 47.9 L802.3 47.9 L803.0 47.9 L803.8 47.9 L804.5 48.0 L805.3 48.0 L806.0 48.0 L806.8 48.0 L807.5 48.1 L808.3 48.1 L809.0 48.1 L809.8 48.2 L810.5 48.2 L811.3 48.2 L812.0 48.2 L812.8 48.3 L813.5 48.3 L814.3 48.3 L815.0 48.4 L815.8 48.4 L816.5 48.4 L817.3 48.5 L818.0 48.5 L818.8 48.5 L819.5 48.5 L820.3 48.6 L821.0 48.6 L821.8 48.6 L822.5 48.7 L823.3 48.7 L824.0 48.7 L824.8 48.8 L825.5 48.8 L826.3 48.8 L827.0 48.9 L827.8 48.9 L828.5 48.9 L829.3 49.0 L830.0 49.0 L830.8 49.0 L831.5 49.1 L832.3 49.1 L833.0 49.2 L833.8 49.2 L834.5 49.2 L835.3 49.3 L836.0 49.3 L836.8 49.3 L837.5 49.4 L838.3 49.4 L839.0 49.5 L839.8 49.5 L840.5 49.6 L841.3 49.6 L842.0 49.6 L842.8 49.7 L843.5 49.7 L844.3 49.8 L845.0 49.8 L845.8 49.9 L846.5 49.9 L847.3 50.0 L848.0 50.0 L848.8 50.1 L849.5 50.1 L850.3 50.2 L851.0 50.2 L851.8 50.3 L852.5 50.3 L853.3 50.4 L854.0 50.5 L854.8 50.5 L855.5 50.6 L856.3 50.6 L857.0 50.7 L857.8 50.8 L858.5 50.8 L859.3 50.9 L860.0 51.0 L860.8 51.0 L861.5 51.1 L862.3 51.2 L863.0 51.3 L863.8 51.3 L864.5 51.4 L865.3 51.5 L866.0 51.6 L866.8 51.7 L867.5 51.7 L868.3 51.8 L869.0 51.9 L869.8 52.0 L870.5 52.1 L871.3 52.2 L872.0 52.3 L872.8 52.4 L873.5 52.5 L874.3 52.6 L875.0 52.7 L875.8 52.8 L876.5 52.9 L877.3 53.1 L878.0 53.2 L878.8 53.3 L879.5 53.5 L880.3 53.6 L881.0 53.7 L881.8 53.9 L882.5 54.1 L883.3 54.2 L884.0 54.4 L884.8 54.6 L885.5 54.8 L886.3 54.9 L887.0 55.1 L887.8 55.3 L888.5 55.5 L889.3 55.7 L890.0 55.9 L890.8 56.1 L891.5 56.3 L892.3 56.6 L893.0 56.8 L893.8 57.0 L894.5 57.2 L895.3 57.4 L896.0 57.7 L896.8 57.9 L897.5 58.1 L898.3 58.4 L899.0 58.6 L899.8 58.9 L900.5 59.1 L901.3 59.4 L902.0 59.6 L902.8 59.9 L903.5 60.2 L904.3 60.5 L905.0 60.8 L905.8 61.1 L906.5 61.4 L907.3 61.7 L908.0 62.0 L908.8 62.3 L909.5 62.7 L910.3 63.0 L911.0 63.3 L911.8 63.7 L912.5 64.0 L913.3 64.3 L914.0 64.7 L914.8 65.1 L915.5 65.4 L916.3 65.8 L917.0 66.2 L917.8 66.6 L918.5 67.0 L919.3 67.4 L920.0 67.9 L920.8 68.3 L921.5 68.8 L922.3 69.3 L923.0 69.8 L923.8 70.3 L924.5 70.8 L925.3 71.4 L926.0 71.9 L926.8 72.5 L927.5 73.1 L928.3 73.8 L929.0 74.4 L929.8 75.1 L930.5 75.8 L931.3 76.5 L932.0 77.3 L932.8 78.0 L933.5 78.8 L934.3 79.6 L935.0 80.4 L935.8 81.3 L936.5 82.2 L937.3 83.1 L938.0 84.1 L938.8 85.1 L939.5 86.1 L940.3 87.2 L941.0 88.3 L941.8 89.5 L942.5 90.7 L943.3 91.9 L944.0 93.2 L944.8 94.5 L945.5 95.9 L946.3 97.4 L947.0 99.0 L947.8 100.7 L948.5 102.4 L949.3 104.3 L950.0 106.4 L950.8 108.7 L951.5 111.3 L952.3 114.0 L953.0 116.8 L953.8 119.8 L954.5 122.7 L955.3 125.9 L956.0 129.3 L956.8 132.8 L957.5 136.5 L958.3 140.1 L959.0 143.7 L959.8 147.1 L960.5 150.5 L961.3 154.2 L962.0 158.3 L962.8 163.0 L963.5 168.4 L964.3 174.0 L965.0 179.8 L965.8 185.7 L966.5 191.9 L967.3 198.3 L968.0 204.7 L968.8 211.1 L969.5 217.5 L970.3 224.0 L971.0 230.5 L971.8 237.1 L972.5 243.8 L973.3 251.0 L974.0 258.2 L974.8 265.5 L975.5 272.4 L976.3 278.8 L977.0 284.3 L977.8 289.2 L978.5 294.1 L979.3 299.4 L980.0 305.9 L980.8 314.9 L981.5 327.1 L982.3 339.4 L983.0 349.2 L983.8 357.2 L984.5 364.5 L985.3 371.2 L986.0 377.6 L986.8 383.8 L987.5 389.9 L988.3 395.9 L989.0 401.6 L989.8 406.9 L990.5 411.7 L991.3 415.9 L992.0 420.0 L992.8 423.7 L993.5 427.1 L994.3 430.0 L995.0 432.5 L995.8 434.8 L996.5 436.8 L997.3 438.5 L998.0 439.8 L998.8 440.8 L999.5 441.6 L1000.3 441.7 L1001.0 441.2 L1001.8 440.1 L1002.5 438.7 L1003.3 436.8 L1004.0 433.7 L1004.8 429.8 L1005.5 425.3 L1006.3 419.5 L1007.0 412.4 L1007.8 404.9 L1008.5 397.3 L1009.3 389.0 L1010.0 380.6 L1010.8 372.3 L1011.5 364.7 L1012.3 357.3 L1013.0 350.1 L1013.8 343.4 L1014.5 337.1 L1015.3 331.9 L1016.0 327.6 L1016.8 323.7 L1017.5 319.1 L1018.3 313.3 L1019.0 303.9 L1019.8 288.9 L1020.5 277.6 L1021.3 267.6 L1022.0 258.4 L1022.8 249.5 L1023.5 240.7 L1024.3 232.2 L1025.0 224.2 L1025.8 216.9 L1026.5 210.3 L1027.3 204.2 L1028.0 198.5 L1028.8 193.4 L1029.5 188.9 L1030.3 185.3 L1031.0 181.7 L1031.8 177.3 L1032.5 172.0 L1033.3 166.4 L1034.0 161.0 L1034.8 156.6 L1035.5 152.7 L1036.3 149.1 L1037.0 145.8 L1037.8 142.6 L1038.5 139.4 L1039.3 136.2 L1040.0 133.0 L1040.8 129.7 L1041.5 126.6 L1042.3 123.5 L1043.0 120.5 L1043.8 117.7 L1044.5 115.2 L1045.3 112.8 L1046.0 110.6 L1046.8 108.4 L1047.5 106.3 L1048.3 104.3 L1049.0 102.4 L1049.8 100.7 L1050.5 99.0 L1051.3 97.5 L1052.0 96.1 L1052.8 94.7 L1053.5 93.4 L1054.3 92.2 L1055.0 91.0 L1055.8 89.9 L1056.5 88.8 L1057.3 87.8 L1058.0 86.8 L1058.8 85.9 L1059.5 85.0 L1060.3 84.2 L1061.0 83.4 L1061.8 82.6 L1062.5 81.9 L1063.3 81.2 L1064.0 80.5 L1064.8 79.8 L1065.5 79.2 L1066.3 78.6 L1067.0 78.0 L1067.8 77.4 L1068.5 76.8 L1069.3 76.3 L1070.0 75.7 L1070.8 75.2 L1071.5 74.6 L1072.3 74.1 L1073.0 73.6 L1073.8 73.1 L1074.5 72.6 L1075.3 72.1 L1076.0 71.6 L1076.8 71.1 L1077.5 70.7 L1078.3 70.2 L1079.0 69.8 L1079.8 69.4 L1080.5 69.0 L1081.3 68.6 L1082.0 68.2 L1082.8 67.8 L1083.5 67.5 L1084.3 67.1 L1085.0 66.8 L1085.8 66.5 L1086.5 66.2 L1087.3 65.9 L1088.0 65.6 L1088.8 65.4 L1089.5 65.1 L1090.3 64.9 L1091.0 64.6 L1091.8 64.4 L1092.5 64.1 L1093.3 63.9 L1094.0 63.7 L1094.8 63.4 L1095.5 63.2 L1096.3 63.0 L1097.0 62.8 L1097.8 62.6 L1098.5 62.3 L1099.3 62.1 L1100.0 61.9 L1100.8 61.7 L1101.5 61.5 L1102.3 61.3 L1103.0 61.1 L1103.8 60.8 L1104.5 60.6 L1105.3 60.4 L1106.0 60.2 L1106.8 60.1 L1107.5 59.9 L1108.3 59.7 L1109.0 59.5 L1109.8 59.3 L1110.5 59.1 L1111.3 58.9 L1112.0 58.7 L1112.8 58.6 L1113.5 58.4 L1114.3 58.2 L1115.0 58.0 L1115.8 57.9 L1116.5 57.7 L1117.3 57.6 L1118.0 57.4 L1118.8 57.2 L1119.5 57.1 L1120.3 56.9 L1121.0 56.8 L1121.8 56.6 L1122.5 56.4 L1123.3 56.3 L1124.0 56.1 L1124.8 56.0 L1125.5 55.9 L1126.3 55.7 L1127.0 55.6 L1127.8 55.4 L1128.5 55.3 L1129.3 55.1 L1130.0 55.0 L1130.8 54.9 L1131.5 54.7 L1132.3 54.6 L1133.0 54.5 L1133.8 54.3 L1134.5 54.2 L1135.3 54.1 L1136.0 54.0 L1136.8 53.8 L1137.5 53.7 L1138.3 53.6 L1139.0 53.5 L1139.8 53.4 L1140.5 53.3 L1141.3 53.2 L1142.0 53.0 L1142.8 52.9 L1143.5 52.8 L1144.3 52.7 L1145.0 52.6 L1145.8 52.5 L1146.5 52.4 L1147.3 52.3 L1148.0 52.2 L1148.8 52.1 L1149.5 52.0 L1150.3 51.9 L1151.0 51.8 L1151.8 51.7 L1152.5 51.6 L1153.3 51.5 L1154.0 51.4 L1154.8 51.3 L1155.5 51.2 L1156.3 51.1 L1157.0 51.0 L1157.8 50.9 L1158.5 50.8 L1159.3 50.7 L1160.0 50.6 L1160.8 50.6 L1161.5 50.5 L1162.3 50.4 L1163.0 50.3 L1163.8 50.2 L1164.5 50.1 L1165.3 50.1 L1166.0 50.0 L1166.8 49.9 L1167.5 49.8 L1168.3 49.8 L1169.0 49.7 L1169.8 49.6 L1170.5 49.6 L1171.3 49.5 L1172.0 49.4 L1172.8 49.4 L1173.5 49.3 L1174.3 49.2 L1175.0 49.2 L1175.8 49.1 L1176.5 49.0 L1177.3 49.0 L1178.0 48.9 L1178.8 48.8 L1179.5 48.8 L1180.3 48.7 L1181.0 48.6 L1181.8 48.6 L1182.5 48.5 L1183.3 48.5 L1184.0 48.4 L1184.8 48.3 L1185.5 48.3 L1186.3 48.2 L1187.0 48.2 L1187.8 48.1 L1188.5 48.1 L1189.3 48.0 L1190.0 47.9 L1190.8 47.9 L1191.5 47.8 L1192.3 47.8 L1193.0 47.7 L1193.8 47.7 L1194.5 47.6 L1195.3 47.6 L1196.0 47.5 L1196.8 47.5 L1197.5 47.4 L1198.3 47.3 L1199.0 47.3 L1199.8 47.2 L1200.5 47.2 L1201.3 47.1 L1202.0 47.1 L1202.8 47.0 L1203.5 47.0 L1204.3 46.9 L1205.0 46.9 L1205.8 46.8 L1206.5 46.8 L1207.3 46.7 L1208.0 46.6 L1208.8 46.6 L1209.5 46.5 L1210.3 46.5 L1211.0 46.4 L1211.8 46.4 L1212.5 46.3 L1213.3 46.3 L1214.0 46.2 L1214.8 46.2 L1215.5 46.1 L1216.3 46.1 L1217.0 46.0 L1217.8 46.0 L1218.5 45.9 L1219.3 45.9 L1220.0 45.8 L1220.8 45.8 L1221.5 45.7 L1222.3 45.6 L1223.0 45.6 L1223.8 45.5 L1224.5 45.5 L1225.3 45.4 L1226.0 45.4 L1226.8 45.3 L1227.5 45.3 L1228.3 45.2 L1229.0 45.2 L1229.8 45.1 L1230.5 45.1 L1231.3 45.1 L1232.0 45.0 L1232.8 45.0 L1233.5 44.9 L1234.3 44.9 L1235.0 44.8 L1235.8 44.8 L1236.5 44.7 L1237.3 44.7 L1238.0 44.6 L1238.8 44.6 L1239.5 44.5 L1240.3 44.5 L1241.0 44.4 L1241.8 44.4 L1242.5 44.3 L1243.3 44.3 L1244.0 44.2 L1244.8 44.2 L1245.5 44.1 L1246.3 44.1 L1247.0 44.0 L1247.8 44.0 L1248.5 44.0 L1249.3 43.9 L1250.0 43.9 L1250.8 43.8 L1251.5 43.8 L1252.3 43.7 L1253.0 43.7 L1253.8 43.6 L1254.5 43.6 L1255.3 43.5 L1256.0 43.5 L1256.8 43.4 L1257.5 43.4 L1258.3 43.4 L1259.0 43.3 L1259.8 43.3 L1260.5 43.2 L1261.3 43.2 L1262.0 43.1 L1262.8 43.1 L1263.5 43.0 L1264.3 43.0 L1265.0 43.0 L1265.8 42.9 L1266.5 42.9 L1267.3 42.8 L1268.0 42.8 L1268.8 42.7 L1269.5 42.7 L1270.3 42.6 L1271.0 42.6 L1271.8 42.6 L1272.5 42.5 L1273.3 42.5 L1274.0 42.4 L1274.8 42.4 L1275.5 42.3 L1276.3 42.3 L1277.0 42.3 L1277.8 42.2 L1278.5 42.2 L1279.3 42.1 L1280.0 42.1 L1280.8 42.1 L1281.5 42.0 L1282.3 42.0 L1283.0 41.9 L1283.8 41.9 L1284.5 41.8" fill="none" stroke="#0000ff" stroke-width="2.1" stroke-linejoin="round" stroke-linecap="round"/>
<rect x="747.8" y="18.5" width="537.3" height="433.0" fill="none" stroke="#000" stroke-width="2.1"/>
<path d="M747.8 408.2h4.5M747.8 364.9h8.0M747.8 321.6h4.5M747.8 278.3h8.0M747.8 235.0h4.5M747.8 191.7h8.0M747.8 148.4h4.5M747.8 105.1h8.0M747.8 61.8h4.5M815.0 451.5v-4.5M882.1 451.5v-8.0M949.3 451.5v-4.5M1016.4 451.5v-8.0M1083.6 451.5v-4.5M1150.8 451.5v-8.0M1217.9 451.5v-4.5" stroke="#000" stroke-width="1.9" fill="none"/>
<text x="740.4" y="455.5" text-anchor="end" class="tk">0.0</text>
<text x="740.4" y="374.1" text-anchor="end" class="tk">0.2</text>
<text x="740.4" y="287.5" text-anchor="end" class="tk">0.4</text>
<text x="740.4" y="200.9" text-anchor="end" class="tk">0.6</text>
<text x="740.4" y="114.3" text-anchor="end" class="tk">0.8</text>
<text x="740.4" y="27.7" text-anchor="end" class="tk">1.0</text>
<text x="749.4" y="478.3" text-anchor="middle" class="tk">1450</text>
<text x="883.7" y="478.3" text-anchor="middle" class="tk">1500</text>
<text x="1018.0" y="478.3" text-anchor="middle" class="tk">1550</text>
<text x="1152.4" y="478.3" text-anchor="middle" class="tk">1600</text>
<text x="1286.7" y="478.3" text-anchor="middle" class="tk">1650</text>
<text transform="translate(680.3 218.4) rotate(-90)" text-anchor="middle" class="al" style="font-size:28.5px">Transmittance</text>
<text x="1029.2" y="516.4" text-anchor="middle" class="al">Wavelength, nm</text>
<text x="640.5" y="32.7" class="pl">(B)</text>
<path d="M774.0 301.2H822.5" stroke="#ff0000" stroke-width="2.1"/>
<text x="831.2" y="307.5" class="lg">φ</text>
<text x="849.5" y="307.8" class="eq">=</text>
<text x="875.0" y="307.5" class="lg">0</text>
<text x="885.6" y="299.4" class="sup">0</text>
<path d="M774.0 330.0H822.5" stroke="#008000" stroke-width="2.1"/>
<text x="831.2" y="339.4" class="lg">φ</text>
<text x="849.5" y="339.7" class="eq">=</text>
<text x="867.8" y="339.4" class="lg">30</text>
<text x="892.8" y="330.6" class="sup">0</text>
<path d="M771.9 363.8H825.0" stroke="#800000" stroke-width="2.1"/>
<text x="832.5" y="370.0" class="lg">φ</text>
<text x="851.0" y="370.3" class="eq">=</text>
<text x="870.0" y="370.0" class="lg">45</text>
<text x="894.4" y="361.2" class="sup">0</text>
<path d="M771.9 391.6H825.0" stroke="#ff33ff" stroke-width="2.1"/>
<text x="834.4" y="400.3" class="lg">φ</text>
<text x="852.9" y="400.6" class="eq">=</text>
<text x="871.9" y="400.3" class="lg">60</text>
<text x="895.9" y="389.4" class="sup">0</text>
<path d="M771.9 423.1H825.0" stroke="#0000ff" stroke-width="2.1"/>
<text x="834.4" y="430.6" class="lg">φ</text>
<text x="852.9" y="430.9" class="eq">=</text>
<text x="871.9" y="430.6" class="lg">90</text>
<text x="895.9" y="418.1" class="sup">0</text>
<g shape-rendering="crispEdges">
<rect x="1395.00" y="20.30" width="5.46" height="13.83" fill="#f6f21e"/>
<rect x="1399.86" y="20.30" width="5.46" height="13.83" fill="#f6f11e"/>
<rect x="1404.71" y="20.30" width="10.31" height="13.83" fill="#f6f11f"/>
<rect x="1414.42" y="20.30" width="5.46" height="13.83" fill="#f6f01f"/>
<rect x="1419.28" y="20.30" width="5.46" height="13.83" fill="#f6ef20"/>
<rect x="1424.14" y="20.30" width="5.46" height="13.83" fill="#f5ee21"/>
<rect x="1428.99" y="20.30" width="5.46" height="13.83" fill="#f5ed21"/>
<rect x="1433.85" y="20.30" width="5.46" height="13.83" fill="#f5ec22"/>
<rect x="1438.70" y="20.30" width="5.46" height="13.83" fill="#f5eb23"/>
<rect x="1443.56" y="20.30" width="5.46" height="13.83" fill="#f5ea24"/>
<rect x="1448.42" y="20.30" width="5.46" height="13.83" fill="#f5e925"/>
<rect x="1453.27" y="20.30" width="5.46" height="13.83" fill="#f5e725"/>
<rect x="1458.13" y="20.30" width="5.46" height="13.83" fill="#f5e327"/>
<rect x="1462.98" y="20.30" width="5.46" height="13.83" fill="#f6df29"/>
<rect x="1467.84" y="20.30" width="5.46" height="13.83" fill="#f8da2b"/>
<rect x="1472.70" y="20.30" width="5.46" height="13.83" fill="#fad62d"/>
<rect x="1477.55" y="20.30" width="5.46" height="13.83" fill="#fbd22f"/>
<rect x="1482.41" y="20.30" width="5.46" height="13.83" fill="#fccf30"/>
<rect x="1487.26" y="20.30" width="5.46" height="13.83" fill="#fdcc32"/>
<rect x="1492.12" y="20.30" width="5.46" height="13.83" fill="#feca34"/>
<rect x="1496.98" y="20.30" width="5.46" height="13.83" fill="#fec736"/>
<rect x="1501.83" y="20.30" width="5.46" height="13.83" fill="#fec338"/>
<rect x="1506.69" y="20.30" width="5.46" height="13.83" fill="#febf3b"/>
<rect x="1511.54" y="20.30" width="5.46" height="13.83" fill="#fcbb3e"/>
<rect x="1516.40" y="20.30" width="5.46" height="13.83" fill="#efba35"/>
<rect x="1521.26" y="20.30" width="5.46" height="13.83" fill="#d5be27"/>
<rect x="1526.11" y="20.30" width="5.46" height="13.83" fill="#acc738"/>
<rect x="1530.97" y="20.30" width="5.46" height="13.83" fill="#80cc59"/>
<rect x="1535.82" y="20.30" width="5.46" height="13.83" fill="#56cc7b"/>
<rect x="1540.68" y="20.30" width="5.46" height="13.83" fill="#36c898"/>
<rect x="1545.54" y="20.30" width="5.46" height="13.83" fill="#22c1b0"/>
<rect x="1550.39" y="20.30" width="5.46" height="13.83" fill="#01bac5"/>
<rect x="1555.25" y="20.30" width="5.46" height="13.83" fill="#14b0d8"/>
<rect x="1560.10" y="20.30" width="5.46" height="13.83" fill="#21a3e3"/>
<rect x="1564.96" y="20.30" width="5.46" height="13.83" fill="#2994ed"/>
<rect x="1569.82" y="20.30" width="5.46" height="13.83" fill="#2e84f8"/>
<rect x="1574.67" y="20.30" width="5.46" height="13.83" fill="#3c72ff"/>
<rect x="1579.53" y="20.30" width="5.46" height="13.83" fill="#465ffb"/>
<rect x="1584.38" y="20.30" width="5.46" height="13.83" fill="#4849ed"/>
<rect x="1589.24" y="20.30" width="5.46" height="13.83" fill="#463cdf"/>
<rect x="1594.10" y="20.30" width="15.17" height="13.83" fill="#463cde"/>
<rect x="1608.66" y="20.30" width="5.46" height="13.83" fill="#463ddf"/>
<rect x="1613.52" y="20.30" width="5.46" height="13.83" fill="#484cef"/>
<rect x="1618.38" y="20.30" width="5.46" height="13.83" fill="#465efb"/>
<rect x="1623.23" y="20.30" width="5.46" height="13.83" fill="#3f6eff"/>
<rect x="1628.09" y="20.30" width="5.46" height="13.83" fill="#307efb"/>
<rect x="1632.94" y="20.30" width="5.46" height="13.83" fill="#2d8df2"/>
<rect x="1637.80" y="20.30" width="5.46" height="13.83" fill="#259be7"/>
<rect x="1642.66" y="20.30" width="5.46" height="13.83" fill="#1baade"/>
<rect x="1647.51" y="20.30" width="5.46" height="13.83" fill="#00b8c8"/>
<rect x="1652.37" y="20.30" width="5.46" height="13.83" fill="#28c2ab"/>
<rect x="1657.22" y="20.30" width="5.46" height="13.83" fill="#44cb89"/>
<rect x="1662.08" y="20.30" width="5.46" height="13.83" fill="#7acc5d"/>
<rect x="1666.94" y="20.30" width="5.46" height="13.83" fill="#b5c533"/>
<rect x="1671.79" y="20.30" width="5.46" height="13.83" fill="#e4bb2c"/>
<rect x="1676.65" y="20.30" width="5.46" height="13.83" fill="#fec13a"/>
<rect x="1681.50" y="20.30" width="5.46" height="13.83" fill="#fdce31"/>
<rect x="1686.36" y="20.30" width="5.46" height="13.83" fill="#fad52d"/>
<rect x="1691.22" y="20.30" width="5.46" height="13.83" fill="#f7db2b"/>
<rect x="1696.07" y="20.30" width="5.46" height="13.83" fill="#f6de29"/>
<rect x="1700.93" y="20.30" width="5.46" height="13.83" fill="#f6e028"/>
<rect x="1705.78" y="20.30" width="5.46" height="13.83" fill="#f5e227"/>
<rect x="1710.64" y="20.30" width="5.46" height="13.83" fill="#f5e427"/>
<rect x="1715.50" y="20.30" width="5.46" height="13.83" fill="#f5e526"/>
<rect x="1720.35" y="20.30" width="5.46" height="13.83" fill="#f5e626"/>
<rect x="1725.21" y="20.30" width="5.46" height="13.83" fill="#f5e725"/>
<rect x="1730.06" y="20.30" width="78.30" height="13.83" fill="#f5e825"/>
<rect x="1807.76" y="20.30" width="5.46" height="13.83" fill="#f5e725"/>
<rect x="1812.62" y="20.30" width="5.46" height="13.83" fill="#f5e726"/>
<rect x="1817.47" y="20.30" width="5.46" height="13.83" fill="#f5e526"/>
<rect x="1822.33" y="20.30" width="5.46" height="13.83" fill="#f5e427"/>
<rect x="1827.18" y="20.30" width="5.46" height="13.83" fill="#f5e327"/>
<rect x="1832.04" y="20.30" width="5.46" height="13.83" fill="#f5e128"/>
<rect x="1836.90" y="20.30" width="5.46" height="13.83" fill="#f6e028"/>
<rect x="1841.75" y="20.30" width="5.46" height="13.83" fill="#f6df29"/>
<rect x="1846.61" y="20.30" width="5.46" height="13.83" fill="#f6de29"/>
<rect x="1851.46" y="20.30" width="5.46" height="13.83" fill="#f6dd29"/>
<rect x="1856.32" y="20.30" width="5.46" height="13.83" fill="#f7dc2a"/>
<rect x="1861.18" y="20.30" width="5.46" height="13.83" fill="#f7db2a"/>
<rect x="1866.03" y="20.30" width="5.46" height="13.83" fill="#f8da2b"/>
<rect x="1870.89" y="20.30" width="5.46" height="13.83" fill="#f8d92b"/>
<rect x="1875.74" y="20.30" width="5.46" height="13.83" fill="#f8d82c"/>
<rect x="1395.00" y="33.73" width="58.87" height="27.25" fill="#fdcc32"/>
<rect x="1453.27" y="33.73" width="5.46" height="27.25" fill="#fecb33"/>
<rect x="1458.13" y="33.73" width="5.46" height="27.25" fill="#fec735"/>
<rect x="1462.98" y="33.73" width="5.46" height="27.25" fill="#fec437"/>
<rect x="1467.84" y="33.73" width="10.31" height="27.25" fill="#fec338"/>
<rect x="1477.55" y="33.73" width="10.31" height="27.25" fill="#fec239"/>
<rect x="1487.26" y="33.73" width="5.46" height="27.25" fill="#fec13a"/>
<rect x="1492.12" y="33.73" width="5.46" height="27.25" fill="#febe3c"/>
<rect x="1496.98" y="33.73" width="5.46" height="27.25" fill="#fabb3e"/>
<rect x="1501.83" y="33.73" width="5.46" height="27.25" fill="#f2ba38"/>
<rect x="1506.69" y="33.73" width="5.46" height="27.25" fill="#e8bb2e"/>
<rect x="1511.54" y="33.73" width="5.46" height="27.25" fill="#dabd28"/>
<rect x="1516.40" y="33.73" width="5.46" height="27.25" fill="#cac128"/>
<rect x="1521.26" y="33.73" width="5.46" height="27.25" fill="#b5c533"/>
<rect x="1526.11" y="33.73" width="5.46" height="27.25" fill="#98ca47"/>
<rect x="1530.97" y="33.73" width="5.46" height="27.25" fill="#6bcd69"/>
<rect x="1535.82" y="33.73" width="5.46" height="27.25" fill="#42ca8b"/>
<rect x="1540.68" y="33.73" width="5.46" height="27.25" fill="#2dc4a5"/>
<rect x="1545.54" y="33.73" width="5.46" height="27.25" fill="#0ebdbb"/>
<rect x="1550.39" y="33.73" width="5.46" height="27.25" fill="#06b5cf"/>
<rect x="1555.25" y="33.73" width="5.46" height="27.25" fill="#1caadf"/>
<rect x="1560.10" y="33.73" width="5.46" height="27.25" fill="#259be7"/>
<rect x="1564.96" y="33.73" width="5.46" height="27.25" fill="#2d8cf3"/>
<rect x="1569.82" y="33.73" width="5.46" height="27.25" fill="#337afd"/>
<rect x="1574.67" y="33.73" width="5.46" height="27.25" fill="#4368fe"/>
<rect x="1579.53" y="33.73" width="5.46" height="27.25" fill="#4759f8"/>
<rect x="1584.38" y="33.73" width="5.46" height="27.25" fill="#484bee"/>
<rect x="1589.24" y="33.73" width="24.88" height="27.25" fill="#4743e7"/>
<rect x="1613.52" y="33.73" width="5.46" height="27.25" fill="#4743e8"/>
<rect x="1618.38" y="33.73" width="5.46" height="27.25" fill="#4850f2"/>
<rect x="1623.23" y="33.73" width="5.46" height="27.25" fill="#465ffb"/>
<rect x="1628.09" y="33.73" width="5.46" height="27.25" fill="#3b73ff"/>
<rect x="1632.94" y="33.73" width="5.46" height="27.25" fill="#2f81fa"/>
<rect x="1637.80" y="33.73" width="5.46" height="27.25" fill="#2d8cf3"/>
<rect x="1642.66" y="33.73" width="5.46" height="27.25" fill="#259ae8"/>
<rect x="1647.51" y="33.73" width="5.46" height="27.25" fill="#1caadf"/>
<rect x="1652.37" y="33.73" width="5.46" height="27.25" fill="#01b8ca"/>
<rect x="1657.22" y="33.73" width="5.46" height="27.25" fill="#2cc4a7"/>
<rect x="1662.08" y="33.73" width="5.46" height="27.25" fill="#69cd6b"/>
<rect x="1666.94" y="33.73" width="5.46" height="27.25" fill="#bbc42f"/>
<rect x="1671.79" y="33.73" width="5.46" height="27.25" fill="#edba33"/>
<rect x="1676.65" y="33.73" width="5.46" height="27.25" fill="#fec338"/>
<rect x="1681.50" y="33.73" width="5.46" height="27.25" fill="#fdce31"/>
<rect x="1686.36" y="33.73" width="5.46" height="27.25" fill="#fad52d"/>
<rect x="1691.22" y="33.73" width="5.46" height="27.25" fill="#f8da2b"/>
<rect x="1696.07" y="33.73" width="5.46" height="27.25" fill="#f6de29"/>
<rect x="1700.93" y="33.73" width="5.46" height="27.25" fill="#f6e028"/>
<rect x="1705.78" y="33.73" width="5.46" height="27.25" fill="#f5e327"/>
<rect x="1710.64" y="33.73" width="5.46" height="27.25" fill="#f5e426"/>
<rect x="1715.50" y="33.73" width="5.46" height="27.25" fill="#f5e626"/>
<rect x="1720.35" y="33.73" width="5.46" height="27.25" fill="#f5e825"/>
<rect x="1725.21" y="33.73" width="10.31" height="27.25" fill="#f5e924"/>
<rect x="1734.92" y="33.73" width="73.44" height="27.25" fill="#f5ea24"/>
<rect x="1807.76" y="33.73" width="5.46" height="27.25" fill="#f5e924"/>
<rect x="1812.62" y="33.73" width="5.46" height="27.25" fill="#f5e825"/>
<rect x="1817.47" y="33.73" width="5.46" height="27.25" fill="#f5e726"/>
<rect x="1822.33" y="33.73" width="5.46" height="27.25" fill="#f5e526"/>
<rect x="1827.18" y="33.73" width="5.46" height="27.25" fill="#f5e327"/>
<rect x="1832.04" y="33.73" width="5.46" height="27.25" fill="#f5e228"/>
<rect x="1836.90" y="33.73" width="5.46" height="27.25" fill="#f6e028"/>
<rect x="1841.75" y="33.73" width="5.46" height="27.25" fill="#f6df29"/>
<rect x="1846.61" y="33.73" width="5.46" height="27.25" fill="#f6de29"/>
<rect x="1851.46" y="33.73" width="5.46" height="27.25" fill="#f7dd2a"/>
<rect x="1856.32" y="33.73" width="5.46" height="27.25" fill="#f7dc2a"/>
<rect x="1861.18" y="33.73" width="5.46" height="27.25" fill="#f7db2b"/>
<rect x="1866.03" y="33.73" width="5.46" height="27.25" fill="#f8da2b"/>
<rect x="1870.89" y="33.73" width="5.46" height="27.25" fill="#f8d92b"/>
<rect x="1875.74" y="33.73" width="5.46" height="27.25" fill="#f8d82c"/>
<rect x="1395.00" y="60.58" width="49.16" height="27.25" fill="#fec13a"/>
<rect x="1443.56" y="60.58" width="5.46" height="27.25" fill="#febe3c"/>
<rect x="1448.42" y="60.58" width="5.46" height="27.25" fill="#fbbb3e"/>
<rect x="1453.27" y="60.58" width="5.46" height="27.25" fill="#f3ba39"/>
<rect x="1458.13" y="60.58" width="5.46" height="27.25" fill="#ebba31"/>
<rect x="1462.98" y="60.58" width="5.46" height="27.25" fill="#e4bb2c"/>
<rect x="1467.84" y="60.58" width="5.46" height="27.25" fill="#debc29"/>
<rect x="1472.70" y="60.58" width="5.46" height="27.25" fill="#d9be28"/>
<rect x="1477.55" y="60.58" width="5.46" height="27.25" fill="#d4bf27"/>
<rect x="1482.41" y="60.58" width="5.46" height="27.25" fill="#cfc027"/>
<rect x="1487.26" y="60.58" width="5.46" height="27.25" fill="#c9c129"/>
<rect x="1492.12" y="60.58" width="5.46" height="27.25" fill="#c2c22b"/>
<rect x="1496.98" y="60.58" width="5.46" height="27.25" fill="#bcc42f"/>
<rect x="1501.83" y="60.58" width="5.46" height="27.25" fill="#b5c533"/>
<rect x="1506.69" y="60.58" width="5.46" height="27.25" fill="#acc738"/>
<rect x="1511.54" y="60.58" width="5.46" height="27.25" fill="#a2c840"/>
<rect x="1516.40" y="60.58" width="5.46" height="27.25" fill="#91ca4c"/>
<rect x="1521.26" y="60.58" width="5.46" height="27.25" fill="#79cc5e"/>
<rect x="1526.11" y="60.58" width="5.46" height="27.25" fill="#5dcd75"/>
<rect x="1530.97" y="60.58" width="5.46" height="27.25" fill="#43cb8a"/>
<rect x="1535.82" y="60.58" width="5.46" height="27.25" fill="#32c69f"/>
<rect x="1540.68" y="60.58" width="5.46" height="27.25" fill="#1fc0b2"/>
<rect x="1545.54" y="60.58" width="5.46" height="27.25" fill="#01bac4"/>
<rect x="1550.39" y="60.58" width="5.46" height="27.25" fill="#10b2d5"/>
<rect x="1555.25" y="60.58" width="5.46" height="27.25" fill="#1ea7e1"/>
<rect x="1560.10" y="60.58" width="5.46" height="27.25" fill="#269ae8"/>
<rect x="1564.96" y="60.58" width="5.46" height="27.25" fill="#2d8cf3"/>
<rect x="1569.82" y="60.58" width="5.46" height="27.25" fill="#327bfc"/>
<rect x="1574.67" y="60.58" width="5.46" height="27.25" fill="#4368fe"/>
<rect x="1579.53" y="60.58" width="5.46" height="27.25" fill="#4854f5"/>
<rect x="1584.38" y="60.58" width="5.46" height="27.25" fill="#4741e5"/>
<rect x="1589.24" y="60.58" width="29.74" height="27.25" fill="#463cde"/>
<rect x="1618.38" y="60.58" width="5.46" height="27.25" fill="#463ddf"/>
<rect x="1623.23" y="60.58" width="5.46" height="27.25" fill="#4852f4"/>
<rect x="1628.09" y="60.58" width="5.46" height="27.25" fill="#4368fe"/>
<rect x="1632.94" y="60.58" width="5.46" height="27.25" fill="#3e6fff"/>
<rect x="1637.80" y="60.58" width="5.46" height="27.25" fill="#3875fe"/>
<rect x="1642.66" y="60.58" width="5.46" height="27.25" fill="#2e83f9"/>
<rect x="1647.51" y="60.58" width="5.46" height="27.25" fill="#2699e9"/>
<rect x="1652.37" y="60.58" width="5.46" height="27.25" fill="#18aedb"/>
<rect x="1657.22" y="60.58" width="5.46" height="27.25" fill="#0dbdbc"/>
<rect x="1662.08" y="60.58" width="5.46" height="27.25" fill="#37c898"/>
<rect x="1666.94" y="60.58" width="5.46" height="27.25" fill="#7dcc5b"/>
<rect x="1671.79" y="60.58" width="5.46" height="27.25" fill="#cac128"/>
<rect x="1676.65" y="60.58" width="5.46" height="27.25" fill="#f5ba3b"/>
<rect x="1681.50" y="60.58" width="5.46" height="27.25" fill="#feca33"/>
<rect x="1686.36" y="60.58" width="5.46" height="27.25" fill="#fad62d"/>
<rect x="1691.22" y="60.58" width="5.46" height="27.25" fill="#f7db2a"/>
<rect x="1696.07" y="60.58" width="5.46" height="27.25" fill="#f6e028"/>
<rect x="1700.93" y="60.58" width="5.46" height="27.25" fill="#f5e327"/>
<rect x="1705.78" y="60.58" width="5.46" height="27.25" fill="#f5e626"/>
<rect x="1710.64" y="60.58" width="5.46" height="27.25" fill="#f5e725"/>
<rect x="1715.50" y="60.58" width="5.46" height="27.25" fill="#f5e924"/>
<rect x="1720.35" y="60.58" width="5.46" height="27.25" fill="#f5ea24"/>
<rect x="1725.21" y="60.58" width="5.46" height="27.25" fill="#f5eb23"/>
<rect x="1730.06" y="60.58" width="5.46" height="27.25" fill="#f5ec22"/>
<rect x="1734.92" y="60.58" width="10.31" height="27.25" fill="#f5ed22"/>
<rect x="1744.63" y="60.58" width="24.88" height="27.25" fill="#f5ee21"/>
<rect x="1768.91" y="60.58" width="10.31" height="27.25" fill="#f5ed21"/>
<rect x="1778.62" y="60.58" width="15.17" height="27.25" fill="#f5ed22"/>
<rect x="1793.19" y="60.58" width="10.31" height="27.25" fill="#f5ec22"/>
<rect x="1802.90" y="60.58" width="5.46" height="27.25" fill="#f5ec23"/>
<rect x="1807.76" y="60.58" width="5.46" height="27.25" fill="#f5eb23"/>
<rect x="1812.62" y="60.58" width="5.46" height="27.25" fill="#f5e924"/>
<rect x="1817.47" y="60.58" width="5.46" height="27.25" fill="#f5e825"/>
<rect x="1822.33" y="60.58" width="5.46" height="27.25" fill="#f5e626"/>
<rect x="1827.18" y="60.58" width="5.46" height="27.25" fill="#f5e427"/>
<rect x="1832.04" y="60.58" width="5.46" height="27.25" fill="#f5e227"/>
<rect x="1836.90" y="60.58" width="5.46" height="27.25" fill="#f6e028"/>
<rect x="1841.75" y="60.58" width="5.46" height="27.25" fill="#f6df29"/>
<rect x="1846.61" y="60.58" width="5.46" height="27.25" fill="#f6dd29"/>
<rect x="1851.46" y="60.58" width="5.46" height="27.25" fill="#f7dc2a"/>
<rect x="1856.32" y="60.58" width="5.46" height="27.25" fill="#f8da2b"/>
<rect x="1861.18" y="60.58" width="5.46" height="27.25" fill="#f8d92c"/>
<rect x="1866.03" y="60.58" width="5.46" height="27.25" fill="#f9d72c"/>
<rect x="1870.89" y="60.58" width="5.46" height="27.25" fill="#fad62d"/>
<rect x="1875.74" y="60.58" width="5.46" height="27.25" fill="#fad42e"/>
<rect x="1395.00" y="87.42" width="29.74" height="27.25" fill="#dabd28"/>
<rect x="1424.14" y="87.42" width="5.46" height="27.25" fill="#d9bd28"/>
<rect x="1428.99" y="87.42" width="10.31" height="27.25" fill="#d9be28"/>
<rect x="1438.70" y="87.42" width="10.31" height="27.25" fill="#d8be28"/>
<rect x="1448.42" y="87.42" width="5.46" height="27.25" fill="#d7be28"/>
<rect x="1453.27" y="87.42" width="5.46" height="27.25" fill="#d6be27"/>
<rect x="1458.13" y="87.42" width="5.46" height="27.25" fill="#d2bf27"/>
<rect x="1462.98" y="87.42" width="5.46" height="27.25" fill="#cdc028"/>
<rect x="1467.84" y="87.42" width="5.46" height="27.25" fill="#c7c229"/>
<rect x="1472.70" y="87.42" width="5.46" height="27.25" fill="#c0c32d"/>
<rect x="1477.55" y="87.42" width="5.46" height="27.25" fill="#b9c430"/>
<rect x="1482.41" y="87.42" width="5.46" height="27.25" fill="#b3c534"/>
<rect x="1487.26" y="87.42" width="5.46" height="27.25" fill="#adc638"/>
<rect x="1492.12" y="87.42" width="5.46" height="27.25" fill="#a5c83d"/>
<rect x="1496.98" y="87.42" width="5.46" height="27.25" fill="#9cc943"/>
<rect x="1501.83" y="87.42" width="5.46" height="27.25" fill="#92ca4c"/>
<rect x="1506.69" y="87.42" width="5.46" height="27.25" fill="#83cc57"/>
<rect x="1511.54" y="87.42" width="5.46" height="27.25" fill="#71cd64"/>
<rect x="1516.40" y="87.42" width="5.46" height="27.25" fill="#5fcd73"/>
<rect x="1521.26" y="87.42" width="5.46" height="27.25" fill="#4dcc82"/>
<rect x="1526.11" y="87.42" width="5.46" height="27.25" fill="#3cc991"/>
<rect x="1530.97" y="87.42" width="5.46" height="27.25" fill="#32c69f"/>
<rect x="1535.82" y="87.42" width="5.46" height="27.25" fill="#26c2ad"/>
<rect x="1540.68" y="87.42" width="5.46" height="27.25" fill="#0ebebb"/>
<rect x="1545.54" y="87.42" width="5.46" height="27.25" fill="#01b7ca"/>
<rect x="1550.39" y="87.42" width="5.46" height="27.25" fill="#16afd9"/>
<rect x="1555.25" y="87.42" width="5.46" height="27.25" fill="#21a4e3"/>
<rect x="1560.10" y="87.42" width="5.46" height="27.25" fill="#2797eb"/>
<rect x="1564.96" y="87.42" width="5.46" height="27.25" fill="#2d88f6"/>
<rect x="1569.82" y="87.42" width="5.46" height="27.25" fill="#3777fe"/>
<rect x="1574.67" y="87.42" width="5.46" height="27.25" fill="#4563fd"/>
<rect x="1579.53" y="87.42" width="5.46" height="27.25" fill="#484cef"/>
<rect x="1584.38" y="87.42" width="5.46" height="27.25" fill="#463cdf"/>
<rect x="1589.24" y="87.42" width="34.59" height="27.25" fill="#463cde"/>
<rect x="1623.23" y="87.42" width="5.46" height="27.25" fill="#463cdf"/>
<rect x="1628.09" y="87.42" width="5.46" height="27.25" fill="#484aee"/>
<rect x="1632.94" y="87.42" width="5.46" height="27.25" fill="#4660fc"/>
<rect x="1637.80" y="87.42" width="5.46" height="27.25" fill="#406cfe"/>
<rect x="1642.66" y="87.42" width="5.46" height="27.25" fill="#3974ff"/>
<rect x="1647.51" y="87.42" width="5.46" height="27.25" fill="#2e82f9"/>
<rect x="1652.37" y="87.42" width="5.46" height="27.25" fill="#2698ea"/>
<rect x="1657.22" y="87.42" width="5.46" height="27.25" fill="#18addb"/>
<rect x="1662.08" y="87.42" width="5.46" height="27.25" fill="#0bbdbd"/>
<rect x="1666.94" y="87.42" width="5.46" height="27.25" fill="#36c898"/>
<rect x="1671.79" y="87.42" width="5.46" height="27.25" fill="#6fcd66"/>
<rect x="1676.65" y="87.42" width="5.46" height="27.25" fill="#b5c533"/>
<rect x="1681.50" y="87.42" width="5.46" height="27.25" fill="#ecba32"/>
<rect x="1686.36" y="87.42" width="5.46" height="27.25" fill="#fec835"/>
<rect x="1691.22" y="87.42" width="5.46" height="27.25" fill="#fad62d"/>
<rect x="1696.07" y="87.42" width="5.46" height="27.25" fill="#f7dc2a"/>
<rect x="1700.93" y="87.42" width="5.46" height="27.25" fill="#f5e128"/>
<rect x="1705.78" y="87.42" width="5.46" height="27.25" fill="#f5e526"/>
<rect x="1710.64" y="87.42" width="5.46" height="27.25" fill="#f5e725"/>
<rect x="1715.50" y="87.42" width="5.46" height="27.25" fill="#f5e924"/>
<rect x="1720.35" y="87.42" width="5.46" height="27.25" fill="#f5eb23"/>
<rect x="1725.21" y="87.42" width="5.46" height="27.25" fill="#f5ec22"/>
<rect x="1730.06" y="87.42" width="5.46" height="27.25" fill="#f5ed22"/>
<rect x="1734.92" y="87.42" width="5.46" height="27.25" fill="#f5ee21"/>
<rect x="1739.78" y="87.42" width="10.31" height="27.25" fill="#f6ef20"/>
<rect x="1749.49" y="87.42" width="15.17" height="27.25" fill="#f6f020"/>
<rect x="1764.06" y="87.42" width="10.31" height="27.25" fill="#f6ef20"/>
<rect x="1773.77" y="87.42" width="5.46" height="27.25" fill="#f5ef20"/>
<rect x="1778.62" y="87.42" width="10.31" height="27.25" fill="#f5ee21"/>
<rect x="1788.34" y="87.42" width="5.46" height="27.25" fill="#f5ed21"/>
<rect x="1793.19" y="87.42" width="5.46" height="27.25" fill="#f5ed22"/>
<rect x="1798.05" y="87.42" width="5.46" height="27.25" fill="#f5ec22"/>
<rect x="1802.90" y="87.42" width="5.46" height="27.25" fill="#f5eb23"/>
<rect x="1807.76" y="87.42" width="5.46" height="27.25" fill="#f5ea24"/>
<rect x="1812.62" y="87.42" width="5.46" height="27.25" fill="#f5e825"/>
<rect x="1817.47" y="87.42" width="5.46" height="27.25" fill="#f5e626"/>
<rect x="1822.33" y="87.42" width="5.46" height="27.25" fill="#f5e327"/>
<rect x="1827.18" y="87.42" width="5.46" height="27.25" fill="#f5e128"/>
<rect x="1832.04" y="87.42" width="5.46" height="27.25" fill="#f6de29"/>
<rect x="1836.90" y="87.42" width="5.46" height="27.25" fill="#f7dc2a"/>
<rect x="1841.75" y="87.42" width="5.46" height="27.25" fill="#f7db2b"/>
<rect x="1846.61" y="87.42" width="5.46" height="27.25" fill="#f8d92c"/>
<rect x="1851.46" y="87.42" width="5.46" height="27.25" fill="#f9d72c"/>
<rect x="1856.32" y="87.42" width="5.46" height="27.25" fill="#fad62d"/>
<rect x="1861.18" y="87.42" width="5.46" height="27.25" fill="#fad42e"/>
<rect x="1866.03" y="87.42" width="5.46" height="27.25" fill="#fbd32e"/>
<rect x="1870.89" y="87.42" width="5.46" height="27.25" fill="#fbd22f"/>
<rect x="1875.74" y="87.42" width="5.46" height="27.25" fill="#fcd030"/>
<rect x="1395.00" y="114.27" width="73.44" height="27.25" fill="#b9c431"/>
<rect x="1467.84" y="114.27" width="5.46" height="27.25" fill="#b6c532"/>
<rect x="1472.70" y="114.27" width="5.46" height="27.25" fill="#b1c635"/>
<rect x="1477.55" y="114.27" width="5.46" height="27.25" fill="#a9c73a"/>
<rect x="1482.41" y="114.27" width="5.46" height="27.25" fill="#a0c941"/>
<rect x="1487.26" y="114.27" width="5.46" height="27.25" fill="#96ca48"/>
<rect x="1492.12" y="114.27" width="5.46" height="27.25" fill="#8dcb50"/>
<rect x="1496.98" y="114.27" width="5.46" height="27.25" fill="#81cc58"/>
<rect x="1501.83" y="114.27" width="5.46" height="27.25" fill="#74cd62"/>
<rect x="1506.69" y="114.27" width="5.46" height="27.25" fill="#67cd6c"/>
<rect x="1511.54" y="114.27" width="5.46" height="27.25" fill="#59cc78"/>
<rect x="1516.40" y="114.27" width="5.46" height="27.25" fill="#4bcb84"/>
<rect x="1521.26" y="114.27" width="5.46" height="27.25" fill="#3eca8f"/>
<rect x="1526.11" y="114.27" width="5.46" height="27.25" fill="#34c79b"/>
<rect x="1530.97" y="114.27" width="5.46" height="27.25" fill="#2bc3a8"/>
<rect x="1535.82" y="114.27" width="5.46" height="27.25" fill="#1bc0b4"/>
<rect x="1540.68" y="114.27" width="5.46" height="27.25" fill="#02bbc2"/>
<rect x="1545.54" y="114.27" width="5.46" height="27.25" fill="#0cb3d3"/>
<rect x="1550.39" y="114.27" width="5.46" height="27.25" fill="#1ca9df"/>
<rect x="1555.25" y="114.27" width="5.46" height="27.25" fill="#249ee6"/>
<rect x="1560.10" y="114.27" width="5.46" height="27.25" fill="#2a93ee"/>
<rect x="1564.96" y="114.27" width="5.46" height="27.25" fill="#2e84f9"/>
<rect x="1569.82" y="114.27" width="5.46" height="27.25" fill="#3d71ff"/>
<rect x="1574.67" y="114.27" width="5.46" height="27.25" fill="#465ffb"/>
<rect x="1579.53" y="114.27" width="5.46" height="27.25" fill="#484df1"/>
<rect x="1584.38" y="114.27" width="54.02" height="27.25" fill="#4743e7"/>
<rect x="1637.80" y="114.27" width="5.46" height="27.25" fill="#4850f2"/>
<rect x="1642.66" y="114.27" width="5.46" height="27.25" fill="#4660fb"/>
<rect x="1647.51" y="114.27" width="5.46" height="27.25" fill="#4466fd"/>
<rect x="1652.37" y="114.27" width="5.46" height="27.25" fill="#3f6eff"/>
<rect x="1657.22" y="114.27" width="5.46" height="27.25" fill="#2f80fb"/>
<rect x="1662.08" y="114.27" width="5.46" height="27.25" fill="#2994ed"/>
<rect x="1666.94" y="114.27" width="5.46" height="27.25" fill="#1ea8e1"/>
<rect x="1671.79" y="114.27" width="5.46" height="27.25" fill="#02b7cc"/>
<rect x="1676.65" y="114.27" width="5.46" height="27.25" fill="#24c1ae"/>
<rect x="1681.50" y="114.27" width="5.46" height="27.25" fill="#4acb84"/>
<rect x="1686.36" y="114.27" width="5.46" height="27.25" fill="#8dcb4f"/>
<rect x="1691.22" y="114.27" width="5.46" height="27.25" fill="#d0bf27"/>
<rect x="1696.07" y="114.27" width="5.46" height="27.25" fill="#fbbb3e"/>
<rect x="1700.93" y="114.27" width="5.46" height="27.25" fill="#fcd030"/>
<rect x="1705.78" y="114.27" width="5.46" height="27.25" fill="#f8d92c"/>
<rect x="1710.64" y="114.27" width="5.46" height="27.25" fill="#f6df29"/>
<rect x="1715.50" y="114.27" width="5.46" height="27.25" fill="#f5e327"/>
<rect x="1720.35" y="114.27" width="5.46" height="27.25" fill="#f5e626"/>
<rect x="1725.21" y="114.27" width="5.46" height="27.25" fill="#f5e825"/>
<rect x="1730.06" y="114.27" width="5.46" height="27.25" fill="#f5ea23"/>
<rect x="1734.92" y="114.27" width="5.46" height="27.25" fill="#f5ec22"/>
<rect x="1739.78" y="114.27" width="5.46" height="27.25" fill="#f5ee21"/>
<rect x="1744.63" y="114.27" width="5.46" height="27.25" fill="#f6ef20"/>
<rect x="1749.49" y="114.27" width="10.31" height="27.25" fill="#f6f020"/>
<rect x="1759.20" y="114.27" width="10.31" height="27.25" fill="#f6ef20"/>
<rect x="1768.91" y="114.27" width="5.46" height="27.25" fill="#f5ef20"/>
<rect x="1773.77" y="114.27" width="10.31" height="27.25" fill="#f5ee21"/>
<rect x="1783.48" y="114.27" width="10.31" height="27.25" fill="#f5ed22"/>
<rect x="1793.19" y="114.27" width="5.46" height="27.25" fill="#f5ec23"/>
<rect x="1798.05" y="114.27" width="5.46" height="27.25" fill="#f5ea23"/>
<rect x="1802.90" y="114.27" width="5.46" height="27.25" fill="#f5e825"/>
<rect x="1807.76" y="114.27" width="5.46" height="27.25" fill="#f5e626"/>
<rect x="1812.62" y="114.27" width="5.46" height="27.25" fill="#f5e327"/>
<rect x="1817.47" y="114.27" width="5.46" height="27.25" fill="#f6e028"/>
<rect x="1822.33" y="114.27" width="5.46" height="27.25" fill="#f6dd29"/>
<rect x="1827.18" y="114.27" width="5.46" height="27.25" fill="#f7db2a"/>
<rect x="1832.04" y="114.27" width="5.46" height="27.25" fill="#f8d92b"/>
<rect x="1836.90" y="114.27" width="5.46" height="27.25" fill="#f9d82c"/>
<rect x="1841.75" y="114.27" width="5.46" height="27.25" fill="#fad62d"/>
<rect x="1846.61" y="114.27" width="5.46" height="27.25" fill="#fad42e"/>
<rect x="1851.46" y="114.27" width="5.46" height="27.25" fill="#fbd32f"/>
<rect x="1856.32" y="114.27" width="5.46" height="27.25" fill="#fcd12f"/>
<rect x="1861.18" y="114.27" width="5.46" height="27.25" fill="#fcd030"/>
<rect x="1866.03" y="114.27" width="5.46" height="27.25" fill="#fdce31"/>
<rect x="1870.89" y="114.27" width="5.46" height="27.25" fill="#fdcd31"/>
<rect x="1875.74" y="114.27" width="5.46" height="27.25" fill="#fdcc32"/>
<rect x="1395.00" y="141.12" width="10.31" height="27.25" fill="#c1c32c"/>
<rect x="1404.71" y="141.12" width="10.31" height="27.25" fill="#c0c32c"/>
<rect x="1414.42" y="141.12" width="10.31" height="27.25" fill="#c0c32d"/>
<rect x="1424.14" y="141.12" width="10.31" height="27.25" fill="#bfc32d"/>
<rect x="1433.85" y="141.12" width="5.46" height="27.25" fill="#bec32e"/>
<rect x="1438.70" y="141.12" width="5.46" height="27.25" fill="#bdc32e"/>
<rect x="1443.56" y="141.12" width="5.46" height="27.25" fill="#bdc42e"/>
<rect x="1448.42" y="141.12" width="5.46" height="27.25" fill="#bcc42f"/>
<rect x="1453.27" y="141.12" width="5.46" height="27.25" fill="#bbc430"/>
<rect x="1458.13" y="141.12" width="5.46" height="27.25" fill="#bac430"/>
<rect x="1462.98" y="141.12" width="5.46" height="27.25" fill="#b8c431"/>
<rect x="1467.84" y="141.12" width="5.46" height="27.25" fill="#b5c533"/>
<rect x="1472.70" y="141.12" width="5.46" height="27.25" fill="#aec637"/>
<rect x="1477.55" y="141.12" width="5.46" height="27.25" fill="#a4c83e"/>
<rect x="1482.41" y="141.12" width="5.46" height="27.25" fill="#99c946"/>
<rect x="1487.26" y="141.12" width="5.46" height="27.25" fill="#8ecb4f"/>
<rect x="1492.12" y="141.12" width="5.46" height="27.25" fill="#82cc58"/>
<rect x="1496.98" y="141.12" width="5.46" height="27.25" fill="#75cc61"/>
<rect x="1501.83" y="141.12" width="5.46" height="27.25" fill="#67cd6c"/>
<rect x="1506.69" y="141.12" width="5.46" height="27.25" fill="#59cc78"/>
<rect x="1511.54" y="141.12" width="5.46" height="27.25" fill="#4bcb84"/>
<rect x="1516.40" y="141.12" width="5.46" height="27.25" fill="#3dca90"/>
<rect x="1521.26" y="141.12" width="5.46" height="27.25" fill="#33c79d"/>
<rect x="1526.11" y="141.12" width="5.46" height="27.25" fill="#2ac3a9"/>
<rect x="1530.97" y="141.12" width="5.46" height="27.25" fill="#1abfb5"/>
<rect x="1535.82" y="141.12" width="5.46" height="27.25" fill="#03bbc2"/>
<rect x="1540.68" y="141.12" width="5.46" height="27.25" fill="#06b5cf"/>
<rect x="1545.54" y="141.12" width="5.46" height="27.25" fill="#18aedb"/>
<rect x="1550.39" y="141.12" width="5.46" height="27.25" fill="#20a5e2"/>
<rect x="1555.25" y="141.12" width="5.46" height="27.25" fill="#259ce7"/>
<rect x="1560.10" y="141.12" width="5.46" height="27.25" fill="#2b91ef"/>
<rect x="1564.96" y="141.12" width="5.46" height="27.25" fill="#2e86f8"/>
<rect x="1569.82" y="141.12" width="5.46" height="27.25" fill="#3677fe"/>
<rect x="1574.67" y="141.12" width="5.46" height="27.25" fill="#4466fd"/>
<rect x="1579.53" y="141.12" width="5.46" height="27.25" fill="#4853f5"/>
<rect x="1584.38" y="141.12" width="58.87" height="27.25" fill="#484ef1"/>
<rect x="1642.66" y="141.12" width="5.46" height="27.25" fill="#4758f8"/>
<rect x="1647.51" y="141.12" width="5.46" height="27.25" fill="#4467fd"/>
<rect x="1652.37" y="141.12" width="5.46" height="27.25" fill="#3e6fff"/>
<rect x="1657.22" y="141.12" width="5.46" height="27.25" fill="#3578fd"/>
<rect x="1662.08" y="141.12" width="5.46" height="27.25" fill="#2e83f9"/>
<rect x="1666.94" y="141.12" width="5.46" height="27.25" fill="#2c91ef"/>
<rect x="1671.79" y="141.12" width="5.46" height="27.25" fill="#1fa5e2"/>
<rect x="1676.65" y="141.12" width="5.46" height="27.25" fill="#04b6ce"/>
<rect x="1681.50" y="141.12" width="5.46" height="27.25" fill="#21c1b1"/>
<rect x="1686.36" y="141.12" width="5.46" height="27.25" fill="#3bc992"/>
<rect x="1691.22" y="141.12" width="5.46" height="27.25" fill="#7bcc5d"/>
<rect x="1696.07" y="141.12" width="5.46" height="27.25" fill="#bec32d"/>
<rect x="1700.93" y="141.12" width="5.46" height="27.25" fill="#f3ba39"/>
<rect x="1705.78" y="141.12" width="5.46" height="27.25" fill="#fec537"/>
<rect x="1710.64" y="141.12" width="5.46" height="27.25" fill="#fdcc32"/>
<rect x="1715.50" y="141.12" width="5.46" height="27.25" fill="#fbd32e"/>
<rect x="1720.35" y="141.12" width="5.46" height="27.25" fill="#f8da2b"/>
<rect x="1725.21" y="141.12" width="5.46" height="27.25" fill="#f6df29"/>
<rect x="1730.06" y="141.12" width="5.46" height="27.25" fill="#f5e327"/>
<rect x="1734.92" y="141.12" width="5.46" height="27.25" fill="#f5e725"/>
<rect x="1739.78" y="141.12" width="34.59" height="27.25" fill="#f5e825"/>
<rect x="1773.77" y="141.12" width="5.46" height="27.25" fill="#f5e725"/>
<rect x="1778.62" y="141.12" width="5.46" height="27.25" fill="#f5e228"/>
<rect x="1783.48" y="141.12" width="5.46" height="27.25" fill="#f6de29"/>
<rect x="1788.34" y="141.12" width="5.46" height="27.25" fill="#f7dc2a"/>
<rect x="1793.19" y="141.12" width="5.46" height="27.25" fill="#f8da2b"/>
<rect x="1798.05" y="141.12" width="5.46" height="27.25" fill="#f9d82c"/>
<rect x="1802.90" y="141.12" width="5.46" height="27.25" fill="#fad62d"/>
<rect x="1807.76" y="141.12" width="5.46" height="27.25" fill="#fad42e"/>
<rect x="1812.62" y="141.12" width="5.46" height="27.25" fill="#fbd32f"/>
<rect x="1817.47" y="141.12" width="5.46" height="27.25" fill="#fcd12f"/>
<rect x="1822.33" y="141.12" width="5.46" height="27.25" fill="#fcd030"/>
<rect x="1827.18" y="141.12" width="5.46" height="27.25" fill="#fdce31"/>
<rect x="1832.04" y="141.12" width="5.46" height="27.25" fill="#fdcd31"/>
<rect x="1836.90" y="141.12" width="5.46" height="27.25" fill="#fdcc32"/>
<rect x="1841.75" y="141.12" width="5.46" height="27.25" fill="#fdcb33"/>
<rect x="1846.61" y="141.12" width="5.46" height="27.25" fill="#feca33"/>
<rect x="1851.46" y="141.12" width="5.46" height="27.25" fill="#fec934"/>
<rect x="1856.32" y="141.12" width="5.46" height="27.25" fill="#fec835"/>
<rect x="1861.18" y="141.12" width="5.46" height="27.25" fill="#fec735"/>
<rect x="1866.03" y="141.12" width="5.46" height="27.25" fill="#fec636"/>
<rect x="1870.89" y="141.12" width="10.31" height="27.25" fill="#fec537"/>
<rect x="1395.00" y="167.97" width="5.46" height="27.25" fill="#b9c431"/>
<rect x="1399.86" y="167.97" width="20.02" height="27.25" fill="#b8c431"/>
<rect x="1419.28" y="167.97" width="5.46" height="27.25" fill="#b7c531"/>
<rect x="1424.14" y="167.97" width="5.46" height="27.25" fill="#b7c532"/>
<rect x="1428.99" y="167.97" width="10.31" height="27.25" fill="#b6c532"/>
<rect x="1438.70" y="167.97" width="5.46" height="27.25" fill="#b5c533"/>
<rect x="1443.56" y="167.97" width="5.46" height="27.25" fill="#b4c533"/>
<rect x="1448.42" y="167.97" width="5.46" height="27.25" fill="#b3c534"/>
<rect x="1453.27" y="167.97" width="5.46" height="27.25" fill="#b2c534"/>
<rect x="1458.13" y="167.97" width="5.46" height="27.25" fill="#b1c635"/>
<rect x="1462.98" y="167.97" width="5.46" height="27.25" fill="#b0c636"/>
<rect x="1467.84" y="167.97" width="5.46" height="27.25" fill="#adc638"/>
<rect x="1472.70" y="167.97" width="5.46" height="27.25" fill="#a7c73b"/>
<rect x="1477.55" y="167.97" width="5.46" height="27.25" fill="#a0c941"/>
<rect x="1482.41" y="167.97" width="5.46" height="27.25" fill="#97ca48"/>
<rect x="1487.26" y="167.97" width="5.46" height="27.25" fill="#8dcb4f"/>
<rect x="1492.12" y="167.97" width="5.46" height="27.25" fill="#83cc57"/>
<rect x="1496.98" y="167.97" width="5.46" height="27.25" fill="#76cc60"/>
<rect x="1501.83" y="167.97" width="5.46" height="27.25" fill="#68cd6c"/>
<rect x="1506.69" y="167.97" width="5.46" height="27.25" fill="#5acc78"/>
<rect x="1511.54" y="167.97" width="5.46" height="27.25" fill="#4bcb84"/>
<rect x="1516.40" y="167.97" width="5.46" height="27.25" fill="#3dca90"/>
<rect x="1521.26" y="167.97" width="5.46" height="27.25" fill="#33c79d"/>
<rect x="1526.11" y="167.97" width="5.46" height="27.25" fill="#2ac3a9"/>
<rect x="1530.97" y="167.97" width="5.46" height="27.25" fill="#1abfb5"/>
<rect x="1535.82" y="167.97" width="5.46" height="27.25" fill="#03bbc2"/>
<rect x="1540.68" y="167.97" width="5.46" height="27.25" fill="#06b5cf"/>
<rect x="1545.54" y="167.97" width="5.46" height="27.25" fill="#18aedb"/>
<rect x="1550.39" y="167.97" width="5.46" height="27.25" fill="#20a5e3"/>
<rect x="1555.25" y="167.97" width="5.46" height="27.25" fill="#259be8"/>
<rect x="1560.10" y="167.97" width="5.46" height="27.25" fill="#2c91ef"/>
<rect x="1564.96" y="167.97" width="5.46" height="27.25" fill="#2d87f7"/>
<rect x="1569.82" y="167.97" width="5.46" height="27.25" fill="#307ffb"/>
<rect x="1574.67" y="167.97" width="5.46" height="27.25" fill="#3875fe"/>
<rect x="1579.53" y="167.97" width="5.46" height="27.25" fill="#426afe"/>
<rect x="1584.38" y="167.97" width="5.46" height="27.25" fill="#4367fd"/>
<rect x="1589.24" y="167.97" width="5.46" height="27.25" fill="#4368fe"/>
<rect x="1594.10" y="167.97" width="5.46" height="27.25" fill="#4269fe"/>
<rect x="1598.95" y="167.97" width="5.46" height="27.25" fill="#416bfe"/>
<rect x="1603.81" y="167.97" width="5.46" height="27.25" fill="#406dfe"/>
<rect x="1608.66" y="167.97" width="15.17" height="27.25" fill="#3f6eff"/>
<rect x="1623.23" y="167.97" width="5.46" height="27.25" fill="#406dfe"/>
<rect x="1628.09" y="167.97" width="5.46" height="27.25" fill="#406cfe"/>
<rect x="1632.94" y="167.97" width="5.46" height="27.25" fill="#416bfe"/>
<rect x="1637.80" y="167.97" width="10.31" height="27.25" fill="#426afe"/>
<rect x="1647.51" y="167.97" width="5.46" height="27.25" fill="#4369fe"/>
<rect x="1652.37" y="167.97" width="5.46" height="27.25" fill="#4367fd"/>
<rect x="1657.22" y="167.97" width="5.46" height="27.25" fill="#465efb"/>
<rect x="1662.08" y="167.97" width="15.17" height="27.25" fill="#4855f6"/>
<rect x="1676.65" y="167.97" width="5.46" height="27.25" fill="#465dfa"/>
<rect x="1681.50" y="167.97" width="5.46" height="27.25" fill="#3a74ff"/>
<rect x="1686.36" y="167.97" width="5.46" height="27.25" fill="#2699e9"/>
<rect x="1691.22" y="167.97" width="5.46" height="27.25" fill="#03b6cd"/>
<rect x="1696.07" y="167.97" width="5.46" height="27.25" fill="#2bc3a9"/>
<rect x="1700.93" y="167.97" width="5.46" height="27.25" fill="#5bcc76"/>
<rect x="1705.78" y="167.97" width="5.46" height="27.25" fill="#acc738"/>
<rect x="1710.64" y="167.97" width="5.46" height="27.25" fill="#dbbd29"/>
<rect x="1715.50" y="167.97" width="5.46" height="27.25" fill="#f5ba3b"/>
<rect x="1720.35" y="167.97" width="5.46" height="27.25" fill="#fec13a"/>
<rect x="1725.21" y="167.97" width="5.46" height="27.25" fill="#fec736"/>
<rect x="1730.06" y="167.97" width="5.46" height="27.25" fill="#fdcb32"/>
<rect x="1734.92" y="167.97" width="5.46" height="27.25" fill="#fcd12f"/>
<rect x="1739.78" y="167.97" width="5.46" height="27.25" fill="#fad62d"/>
<rect x="1744.63" y="167.97" width="5.46" height="27.25" fill="#f8d92b"/>
<rect x="1749.49" y="167.97" width="5.46" height="27.25" fill="#f7dc2a"/>
<rect x="1754.34" y="167.97" width="5.46" height="27.25" fill="#f6de29"/>
<rect x="1759.20" y="167.97" width="5.46" height="27.25" fill="#f6df29"/>
<rect x="1764.06" y="167.97" width="15.17" height="27.25" fill="#f6e028"/>
<rect x="1778.62" y="167.97" width="5.46" height="27.25" fill="#f6df29"/>
<rect x="1783.48" y="167.97" width="10.31" height="27.25" fill="#f6de29"/>
<rect x="1793.19" y="167.97" width="5.46" height="27.25" fill="#f7dd2a"/>
<rect x="1798.05" y="167.97" width="5.46" height="27.25" fill="#f7dc2a"/>
<rect x="1802.90" y="167.97" width="5.46" height="27.25" fill="#f7da2b"/>
<rect x="1807.76" y="167.97" width="5.46" height="27.25" fill="#f8d92c"/>
<rect x="1812.62" y="167.97" width="5.46" height="27.25" fill="#f9d72d"/>
<rect x="1817.47" y="167.97" width="5.46" height="27.25" fill="#fad42e"/>
<rect x="1822.33" y="167.97" width="5.46" height="27.25" fill="#fbd22f"/>
<rect x="1827.18" y="167.97" width="5.46" height="27.25" fill="#fcd030"/>
<rect x="1832.04" y="167.97" width="5.46" height="27.25" fill="#fdce31"/>
<rect x="1836.90" y="167.97" width="5.46" height="27.25" fill="#fdcc32"/>
<rect x="1841.75" y="167.97" width="5.46" height="27.25" fill="#fecb33"/>
<rect x="1846.61" y="167.97" width="5.46" height="27.25" fill="#feca33"/>
<rect x="1851.46" y="167.97" width="5.46" height="27.25" fill="#fec934"/>
<rect x="1856.32" y="167.97" width="5.46" height="27.25" fill="#fec835"/>
<rect x="1861.18" y="167.97" width="5.46" height="27.25" fill="#fec736"/>
<rect x="1866.03" y="167.97" width="5.46" height="27.25" fill="#fec636"/>
<rect x="1870.89" y="167.97" width="10.31" height="27.25" fill="#fec537"/>
<rect x="1395.00" y="194.82" width="15.17" height="27.25" fill="#d0c027"/>
<rect x="1409.57" y="194.82" width="15.17" height="27.25" fill="#cfc027"/>
<rect x="1424.14" y="194.82" width="10.31" height="27.25" fill="#cec027"/>
<rect x="1433.85" y="194.82" width="5.46" height="27.25" fill="#cdc027"/>
<rect x="1438.70" y="194.82" width="5.46" height="27.25" fill="#cdc028"/>
<rect x="1443.56" y="194.82" width="5.46" height="27.25" fill="#ccc028"/>
<rect x="1448.42" y="194.82" width="5.46" height="27.25" fill="#cbc028"/>
<rect x="1453.27" y="194.82" width="5.46" height="27.25" fill="#cac128"/>
<rect x="1458.13" y="194.82" width="5.46" height="27.25" fill="#c9c128"/>
<rect x="1462.98" y="194.82" width="5.46" height="27.25" fill="#c8c129"/>
<rect x="1467.84" y="194.82" width="5.46" height="27.25" fill="#c6c22a"/>
<rect x="1472.70" y="194.82" width="5.46" height="27.25" fill="#c1c32c"/>
<rect x="1477.55" y="194.82" width="5.46" height="27.25" fill="#bbc42f"/>
<rect x="1482.41" y="194.82" width="5.46" height="27.25" fill="#b3c534"/>
<rect x="1487.26" y="194.82" width="5.46" height="27.25" fill="#aac73a"/>
<rect x="1492.12" y="194.82" width="5.46" height="27.25" fill="#a0c941"/>
<rect x="1496.98" y="194.82" width="5.46" height="27.25" fill="#94ca4a"/>
<rect x="1501.83" y="194.82" width="5.46" height="27.25" fill="#84cc56"/>
<rect x="1506.69" y="194.82" width="5.46" height="27.25" fill="#71cd64"/>
<rect x="1511.54" y="194.82" width="5.46" height="27.25" fill="#5ecd74"/>
<rect x="1516.40" y="194.82" width="5.46" height="27.25" fill="#4ccb83"/>
<rect x="1521.26" y="194.82" width="5.46" height="27.25" fill="#3cc991"/>
<rect x="1526.11" y="194.82" width="5.46" height="27.25" fill="#31c69f"/>
<rect x="1530.97" y="194.82" width="5.46" height="27.25" fill="#26c2ad"/>
<rect x="1535.82" y="194.82" width="5.46" height="27.25" fill="#0dbdbb"/>
<rect x="1540.68" y="194.82" width="5.46" height="27.25" fill="#02b7cc"/>
<rect x="1545.54" y="194.82" width="5.46" height="27.25" fill="#17aeda"/>
<rect x="1550.39" y="194.82" width="5.46" height="27.25" fill="#20a4e3"/>
<rect x="1555.25" y="194.82" width="5.46" height="27.25" fill="#2699e9"/>
<rect x="1560.10" y="194.82" width="5.46" height="27.25" fill="#2c90f0"/>
<rect x="1564.96" y="194.82" width="5.46" height="27.25" fill="#2d89f6"/>
<rect x="1569.82" y="194.82" width="5.46" height="27.25" fill="#2e84f9"/>
<rect x="1574.67" y="194.82" width="5.46" height="27.25" fill="#2f80fb"/>
<rect x="1579.53" y="194.82" width="5.46" height="27.25" fill="#327bfc"/>
<rect x="1584.38" y="194.82" width="20.02" height="27.25" fill="#347afd"/>
<rect x="1603.81" y="194.82" width="5.46" height="27.25" fill="#2f80fa"/>
<rect x="1608.66" y="194.82" width="5.46" height="27.25" fill="#2c8ff0"/>
<rect x="1613.52" y="194.82" width="54.02" height="27.25" fill="#2895ec"/>
<rect x="1666.94" y="194.82" width="5.46" height="27.25" fill="#2a93ee"/>
<rect x="1671.79" y="194.82" width="5.46" height="27.25" fill="#2d8bf4"/>
<rect x="1676.65" y="194.82" width="5.46" height="27.25" fill="#2f82fa"/>
<rect x="1681.50" y="194.82" width="5.46" height="27.25" fill="#3b72ff"/>
<rect x="1686.36" y="194.82" width="20.02" height="27.25" fill="#4367fd"/>
<rect x="1705.78" y="194.82" width="5.46" height="27.25" fill="#3875fe"/>
<rect x="1710.64" y="194.82" width="5.46" height="27.25" fill="#249fe5"/>
<rect x="1715.50" y="194.82" width="5.46" height="27.25" fill="#0bb4d2"/>
<rect x="1720.35" y="194.82" width="5.46" height="27.25" fill="#16bfb7"/>
<rect x="1725.21" y="194.82" width="5.46" height="27.25" fill="#4acb85"/>
<rect x="1730.06" y="194.82" width="5.46" height="27.25" fill="#8dcb4f"/>
<rect x="1734.92" y="194.82" width="5.46" height="27.25" fill="#d2bf27"/>
<rect x="1739.78" y="194.82" width="5.46" height="27.25" fill="#f4ba3a"/>
<rect x="1744.63" y="194.82" width="5.46" height="27.25" fill="#febf3b"/>
<rect x="1749.49" y="194.82" width="5.46" height="27.25" fill="#fec636"/>
<rect x="1754.34" y="194.82" width="5.46" height="27.25" fill="#feca33"/>
<rect x="1759.20" y="194.82" width="5.46" height="27.25" fill="#fdce31"/>
<rect x="1764.06" y="194.82" width="5.46" height="27.25" fill="#fbd22f"/>
<rect x="1768.91" y="194.82" width="5.46" height="27.25" fill="#fad52d"/>
<rect x="1773.77" y="194.82" width="5.46" height="27.25" fill="#f9d82c"/>
<rect x="1778.62" y="194.82" width="5.46" height="27.25" fill="#f8d92b"/>
<rect x="1783.48" y="194.82" width="5.46" height="27.25" fill="#f7db2b"/>
<rect x="1788.34" y="194.82" width="10.31" height="27.25" fill="#f7dc2a"/>
<rect x="1798.05" y="194.82" width="5.46" height="27.25" fill="#f8da2b"/>
<rect x="1802.90" y="194.82" width="5.46" height="27.25" fill="#f9d62d"/>
<rect x="1807.76" y="194.82" width="5.46" height="27.25" fill="#fbd32f"/>
<rect x="1812.62" y="194.82" width="5.46" height="27.25" fill="#fcd030"/>
<rect x="1817.47" y="194.82" width="5.46" height="27.25" fill="#fdce31"/>
<rect x="1822.33" y="194.82" width="5.46" height="27.25" fill="#fdcd31"/>
<rect x="1827.18" y="194.82" width="5.46" height="27.25" fill="#fdcc32"/>
<rect x="1832.04" y="194.82" width="5.46" height="27.25" fill="#feca33"/>
<rect x="1836.90" y="194.82" width="5.46" height="27.25" fill="#fec934"/>
<rect x="1841.75" y="194.82" width="5.46" height="27.25" fill="#fec834"/>
<rect x="1846.61" y="194.82" width="5.46" height="27.25" fill="#fec735"/>
<rect x="1851.46" y="194.82" width="5.46" height="27.25" fill="#fec736"/>
<rect x="1856.32" y="194.82" width="5.46" height="27.25" fill="#fec636"/>
<rect x="1861.18" y="194.82" width="15.17" height="27.25" fill="#fec537"/>
<rect x="1875.74" y="194.82" width="5.46" height="27.25" fill="#fec437"/>
<rect x="1395.00" y="221.67" width="10.31" height="27.25" fill="#debd29"/>
<rect x="1404.71" y="221.67" width="10.31" height="27.25" fill="#ddbd29"/>
<rect x="1414.42" y="221.67" width="10.31" height="27.25" fill="#dcbd29"/>
<rect x="1424.14" y="221.67" width="5.46" height="27.25" fill="#dbbd28"/>
<rect x="1428.99" y="221.67" width="5.46" height="27.25" fill="#dabd28"/>
<rect x="1433.85" y="221.67" width="5.46" height="27.25" fill="#d9be28"/>
<rect x="1438.70" y="221.67" width="5.46" height="27.25" fill="#d8be28"/>
<rect x="1443.56" y="221.67" width="5.46" height="27.25" fill="#d7be28"/>
<rect x="1448.42" y="221.67" width="5.46" height="27.25" fill="#d5be27"/>
<rect x="1453.27" y="221.67" width="5.46" height="27.25" fill="#d3bf27"/>
<rect x="1458.13" y="221.67" width="5.46" height="27.25" fill="#d2bf27"/>
<rect x="1462.98" y="221.67" width="5.46" height="27.25" fill="#d0c027"/>
<rect x="1467.84" y="221.67" width="5.46" height="27.25" fill="#cbc128"/>
<rect x="1472.70" y="221.67" width="5.46" height="27.25" fill="#c3c22b"/>
<rect x="1477.55" y="221.67" width="5.46" height="27.25" fill="#b8c431"/>
<rect x="1482.41" y="221.67" width="5.46" height="27.25" fill="#acc738"/>
<rect x="1487.26" y="221.67" width="5.46" height="27.25" fill="#a0c941"/>
<rect x="1492.12" y="221.67" width="5.46" height="27.25" fill="#93ca4a"/>
<rect x="1496.98" y="221.67" width="5.46" height="27.25" fill="#87cb54"/>
<rect x="1501.83" y="221.67" width="5.46" height="27.25" fill="#79cc5f"/>
<rect x="1506.69" y="221.67" width="5.46" height="27.25" fill="#6acd6a"/>
<rect x="1511.54" y="221.67" width="5.46" height="27.25" fill="#5bcc76"/>
<rect x="1516.40" y="221.67" width="5.46" height="27.25" fill="#4ccb83"/>
<rect x="1521.26" y="221.67" width="5.46" height="27.25" fill="#3cc991"/>
<rect x="1526.11" y="221.67" width="5.46" height="27.25" fill="#31c6a0"/>
<rect x="1530.97" y="221.67" width="5.46" height="27.25" fill="#25c2ae"/>
<rect x="1535.82" y="221.67" width="5.46" height="27.25" fill="#0ebdbb"/>
<rect x="1540.68" y="221.67" width="5.46" height="27.25" fill="#00b8c8"/>
<rect x="1545.54" y="221.67" width="5.46" height="27.25" fill="#10b2d5"/>
<rect x="1550.39" y="221.67" width="5.46" height="27.25" fill="#1ca9df"/>
<rect x="1555.25" y="221.67" width="5.46" height="27.25" fill="#259ce7"/>
<rect x="1560.10" y="221.67" width="5.46" height="27.25" fill="#2c8ff0"/>
<rect x="1564.96" y="221.67" width="5.46" height="27.25" fill="#2d8af4"/>
<rect x="1569.82" y="221.67" width="5.46" height="27.25" fill="#2d88f6"/>
<rect x="1574.67" y="221.67" width="5.46" height="27.25" fill="#2e86f7"/>
<rect x="1579.53" y="221.67" width="5.46" height="27.25" fill="#2e85f8"/>
<rect x="1584.38" y="221.67" width="5.46" height="27.25" fill="#2e86f8"/>
<rect x="1589.24" y="221.67" width="5.46" height="27.25" fill="#2d8df2"/>
<rect x="1594.10" y="221.67" width="5.46" height="27.25" fill="#2698ea"/>
<rect x="1598.95" y="221.67" width="5.46" height="27.25" fill="#23a0e5"/>
<rect x="1603.81" y="221.67" width="5.46" height="27.25" fill="#20a4e3"/>
<rect x="1608.66" y="221.67" width="5.46" height="27.25" fill="#1ea7e1"/>
<rect x="1613.52" y="221.67" width="5.46" height="27.25" fill="#1caadf"/>
<rect x="1618.38" y="221.67" width="5.46" height="27.25" fill="#1aacdd"/>
<rect x="1623.23" y="221.67" width="10.31" height="27.25" fill="#19addc"/>
<rect x="1632.94" y="221.67" width="5.46" height="27.25" fill="#19acdc"/>
<rect x="1637.80" y="221.67" width="5.46" height="27.25" fill="#1aacdd"/>
<rect x="1642.66" y="221.67" width="5.46" height="27.25" fill="#1babde"/>
<rect x="1647.51" y="221.67" width="5.46" height="27.25" fill="#1baade"/>
<rect x="1652.37" y="221.67" width="5.46" height="27.25" fill="#1caadf"/>
<rect x="1657.22" y="221.67" width="5.46" height="27.25" fill="#1da8e0"/>
<rect x="1662.08" y="221.67" width="5.46" height="27.25" fill="#1fa6e2"/>
<rect x="1666.94" y="221.67" width="5.46" height="27.25" fill="#21a4e3"/>
<rect x="1671.79" y="221.67" width="5.46" height="27.25" fill="#23a1e4"/>
<rect x="1676.65" y="221.67" width="5.46" height="27.25" fill="#259de6"/>
<rect x="1681.50" y="221.67" width="5.46" height="27.25" fill="#2699ea"/>
<rect x="1686.36" y="221.67" width="5.46" height="27.25" fill="#2b92ee"/>
<rect x="1691.22" y="221.67" width="5.46" height="27.25" fill="#2d8bf4"/>
<rect x="1696.07" y="221.67" width="5.46" height="27.25" fill="#2e83f9"/>
<rect x="1700.93" y="221.67" width="5.46" height="27.25" fill="#3578fd"/>
<rect x="1705.78" y="221.67" width="5.46" height="27.25" fill="#3e6fff"/>
<rect x="1710.64" y="221.67" width="10.31" height="27.25" fill="#3f6eff"/>
<rect x="1720.35" y="221.67" width="5.46" height="27.25" fill="#3578fd"/>
<rect x="1725.21" y="221.67" width="5.46" height="27.25" fill="#259de7"/>
<rect x="1730.06" y="221.67" width="5.46" height="27.25" fill="#0fb2d4"/>
<rect x="1734.92" y="221.67" width="5.46" height="27.25" fill="#10beba"/>
<rect x="1739.78" y="221.67" width="5.46" height="27.25" fill="#43cb8a"/>
<rect x="1744.63" y="221.67" width="5.46" height="27.25" fill="#98ca47"/>
<rect x="1749.49" y="221.67" width="5.46" height="27.25" fill="#dcbd29"/>
<rect x="1754.34" y="221.67" width="5.46" height="27.25" fill="#f7ba3c"/>
<rect x="1759.20" y="221.67" width="5.46" height="27.25" fill="#fec03a"/>
<rect x="1764.06" y="221.67" width="5.46" height="27.25" fill="#fec636"/>
<rect x="1768.91" y="221.67" width="5.46" height="27.25" fill="#fdcb33"/>
<rect x="1773.77" y="221.67" width="5.46" height="27.25" fill="#fccf30"/>
<rect x="1778.62" y="221.67" width="5.46" height="27.25" fill="#fbd22f"/>
<rect x="1783.48" y="221.67" width="5.46" height="27.25" fill="#fad52d"/>
<rect x="1788.34" y="221.67" width="5.46" height="27.25" fill="#f9d72c"/>
<rect x="1793.19" y="221.67" width="24.88" height="27.25" fill="#f9d82c"/>
<rect x="1817.47" y="221.67" width="10.31" height="27.25" fill="#f9d72c"/>
<rect x="1827.18" y="221.67" width="5.46" height="27.25" fill="#f9d72d"/>
<rect x="1832.04" y="221.67" width="5.46" height="27.25" fill="#fad62d"/>
<rect x="1836.90" y="221.67" width="5.46" height="27.25" fill="#fad52d"/>
<rect x="1841.75" y="221.67" width="5.46" height="27.25" fill="#fad42e"/>
<rect x="1846.61" y="221.67" width="5.46" height="27.25" fill="#fbd32f"/>
<rect x="1851.46" y="221.67" width="5.46" height="27.25" fill="#fcd12f"/>
<rect x="1856.32" y="221.67" width="5.46" height="27.25" fill="#fccf30"/>
<rect x="1861.18" y="221.67" width="5.46" height="27.25" fill="#fdcd31"/>
<rect x="1866.03" y="221.67" width="5.46" height="27.25" fill="#fdcb33"/>
<rect x="1870.89" y="221.67" width="5.46" height="27.25" fill="#fec834"/>
<rect x="1875.74" y="221.67" width="5.46" height="27.25" fill="#fec636"/>
<rect x="1395.00" y="248.53" width="58.87" height="27.25" fill="#fec13a"/>
<rect x="1453.27" y="248.53" width="5.46" height="27.25" fill="#fec03a"/>
<rect x="1458.13" y="248.53" width="5.46" height="27.25" fill="#febe3c"/>
<rect x="1462.98" y="248.53" width="5.46" height="27.25" fill="#fbbb3e"/>
<rect x="1467.84" y="248.53" width="5.46" height="27.25" fill="#f5ba3b"/>
<rect x="1472.70" y="248.53" width="5.46" height="27.25" fill="#eeba34"/>
<rect x="1477.55" y="248.53" width="5.46" height="27.25" fill="#e6bb2d"/>
<rect x="1482.41" y="248.53" width="5.46" height="27.25" fill="#debc29"/>
<rect x="1487.26" y="248.53" width="5.46" height="27.25" fill="#d4bf27"/>
<rect x="1492.12" y="248.53" width="5.46" height="27.25" fill="#c8c129"/>
<rect x="1496.98" y="248.53" width="5.46" height="27.25" fill="#bbc430"/>
<rect x="1501.83" y="248.53" width="5.46" height="27.25" fill="#abc739"/>
<rect x="1506.69" y="248.53" width="5.46" height="27.25" fill="#98ca47"/>
<rect x="1511.54" y="248.53" width="5.46" height="27.25" fill="#81cc58"/>
<rect x="1516.40" y="248.53" width="5.46" height="27.25" fill="#67cd6d"/>
<rect x="1521.26" y="248.53" width="5.46" height="27.25" fill="#4ecc81"/>
<rect x="1526.11" y="248.53" width="5.46" height="27.25" fill="#3ac993"/>
<rect x="1530.97" y="248.53" width="5.46" height="27.25" fill="#2ec4a4"/>
<rect x="1535.82" y="248.53" width="5.46" height="27.25" fill="#1cc0b3"/>
<rect x="1540.68" y="248.53" width="5.46" height="27.25" fill="#02bac3"/>
<rect x="1545.54" y="248.53" width="5.46" height="27.25" fill="#0eb3d4"/>
<rect x="1550.39" y="248.53" width="5.46" height="27.25" fill="#1ca9df"/>
<rect x="1555.25" y="248.53" width="5.46" height="27.25" fill="#249ee6"/>
<rect x="1560.10" y="248.53" width="5.46" height="27.25" fill="#2994ed"/>
<rect x="1564.96" y="248.53" width="20.02" height="27.25" fill="#2a92ee"/>
<rect x="1584.38" y="248.53" width="5.46" height="27.25" fill="#2a93ee"/>
<rect x="1589.24" y="248.53" width="5.46" height="27.25" fill="#259be8"/>
<rect x="1594.10" y="248.53" width="5.46" height="27.25" fill="#1fa5e2"/>
<rect x="1598.95" y="248.53" width="5.46" height="27.25" fill="#18aedb"/>
<rect x="1603.81" y="248.53" width="5.46" height="27.25" fill="#0eb2d4"/>
<rect x="1608.66" y="248.53" width="5.46" height="27.25" fill="#04b6ce"/>
<rect x="1613.52" y="248.53" width="5.46" height="27.25" fill="#00b9c8"/>
<rect x="1618.38" y="248.53" width="5.46" height="27.25" fill="#02bbc3"/>
<rect x="1623.23" y="248.53" width="5.46" height="27.25" fill="#07bcbf"/>
<rect x="1628.09" y="248.53" width="5.46" height="27.25" fill="#0dbdbc"/>
<rect x="1632.94" y="248.53" width="5.46" height="27.25" fill="#13beb9"/>
<rect x="1637.80" y="248.53" width="5.46" height="27.25" fill="#17bfb6"/>
<rect x="1642.66" y="248.53" width="10.31" height="27.25" fill="#1abfb5"/>
<rect x="1652.37" y="248.53" width="5.46" height="27.25" fill="#17bfb7"/>
<rect x="1657.22" y="248.53" width="5.46" height="27.25" fill="#11beba"/>
<rect x="1662.08" y="248.53" width="5.46" height="27.25" fill="#0abdbd"/>
<rect x="1666.94" y="248.53" width="5.46" height="27.25" fill="#03bbc2"/>
<rect x="1671.79" y="248.53" width="5.46" height="27.25" fill="#01b8c9"/>
<rect x="1676.65" y="248.53" width="5.46" height="27.25" fill="#08b5d0"/>
<rect x="1681.50" y="248.53" width="5.46" height="27.25" fill="#13b1d7"/>
<rect x="1686.36" y="248.53" width="5.46" height="27.25" fill="#1aacdd"/>
<rect x="1691.22" y="248.53" width="5.46" height="27.25" fill="#21a4e3"/>
<rect x="1696.07" y="248.53" width="5.46" height="27.25" fill="#2699ea"/>
<rect x="1700.93" y="248.53" width="5.46" height="27.25" fill="#2d8ef1"/>
<rect x="1705.78" y="248.53" width="5.46" height="27.25" fill="#2d88f6"/>
<rect x="1710.64" y="248.53" width="5.46" height="27.25" fill="#2f82fa"/>
<rect x="1715.50" y="248.53" width="5.46" height="27.25" fill="#317dfc"/>
<rect x="1720.35" y="248.53" width="5.46" height="27.25" fill="#337afd"/>
<rect x="1725.21" y="248.53" width="10.31" height="27.25" fill="#347afd"/>
<rect x="1734.92" y="248.53" width="5.46" height="27.25" fill="#2f80fb"/>
<rect x="1739.78" y="248.53" width="5.46" height="27.25" fill="#259ce7"/>
<rect x="1744.63" y="248.53" width="5.46" height="27.25" fill="#12b1d7"/>
<rect x="1749.49" y="248.53" width="5.46" height="27.25" fill="#0abdbd"/>
<rect x="1754.34" y="248.53" width="5.46" height="27.25" fill="#3eca8f"/>
<rect x="1759.20" y="248.53" width="5.46" height="27.25" fill="#8fcb4e"/>
<rect x="1764.06" y="248.53" width="5.46" height="27.25" fill="#e2bc2b"/>
<rect x="1768.91" y="248.53" width="5.46" height="27.25" fill="#fabb3e"/>
<rect x="1773.77" y="248.53" width="5.46" height="27.25" fill="#fec13a"/>
<rect x="1778.62" y="248.53" width="5.46" height="27.25" fill="#fec537"/>
<rect x="1783.48" y="248.53" width="5.46" height="27.25" fill="#fec835"/>
<rect x="1788.34" y="248.53" width="5.46" height="27.25" fill="#feca33"/>
<rect x="1793.19" y="248.53" width="5.46" height="27.25" fill="#fdcd31"/>
<rect x="1798.05" y="248.53" width="5.46" height="27.25" fill="#fcd030"/>
<rect x="1802.90" y="248.53" width="5.46" height="27.25" fill="#fbd22f"/>
<rect x="1807.76" y="248.53" width="5.46" height="27.25" fill="#fbd32e"/>
<rect x="1812.62" y="248.53" width="20.02" height="27.25" fill="#fad42e"/>
<rect x="1832.04" y="248.53" width="5.46" height="27.25" fill="#fbd42e"/>
<rect x="1836.90" y="248.53" width="10.31" height="27.25" fill="#fbd32e"/>
<rect x="1846.61" y="248.53" width="5.46" height="27.25" fill="#fbd22f"/>
<rect x="1851.46" y="248.53" width="5.46" height="27.25" fill="#fcd12f"/>
<rect x="1856.32" y="248.53" width="5.46" height="27.25" fill="#fcd030"/>
<rect x="1861.18" y="248.53" width="5.46" height="27.25" fill="#fccf30"/>
<rect x="1866.03" y="248.53" width="5.46" height="27.25" fill="#fdcd31"/>
<rect x="1870.89" y="248.53" width="5.46" height="27.25" fill="#fdcb32"/>
<rect x="1875.74" y="248.53" width="5.46" height="27.25" fill="#fec934"/>
<rect x="1395.00" y="275.38" width="78.30" height="27.25" fill="#fec835"/>
<rect x="1472.70" y="275.38" width="5.46" height="27.25" fill="#fec736"/>
<rect x="1477.55" y="275.38" width="5.46" height="27.25" fill="#fec537"/>
<rect x="1482.41" y="275.38" width="5.46" height="27.25" fill="#fec338"/>
<rect x="1487.26" y="275.38" width="5.46" height="27.25" fill="#fec13a"/>
<rect x="1492.12" y="275.38" width="5.46" height="27.25" fill="#febd3d"/>
<rect x="1496.98" y="275.38" width="5.46" height="27.25" fill="#f8ba3d"/>
<rect x="1501.83" y="275.38" width="5.46" height="27.25" fill="#ecba32"/>
<rect x="1506.69" y="275.38" width="5.46" height="27.25" fill="#dabd28"/>
<rect x="1511.54" y="275.38" width="5.46" height="27.25" fill="#bac430"/>
<rect x="1516.40" y="275.38" width="5.46" height="27.25" fill="#94ca4a"/>
<rect x="1521.26" y="275.38" width="5.46" height="27.25" fill="#66cd6d"/>
<rect x="1526.11" y="275.38" width="5.46" height="27.25" fill="#41ca8c"/>
<rect x="1530.97" y="275.38" width="5.46" height="27.25" fill="#30c5a1"/>
<rect x="1535.82" y="275.38" width="5.46" height="27.25" fill="#1ec0b2"/>
<rect x="1540.68" y="275.38" width="5.46" height="27.25" fill="#00b9c6"/>
<rect x="1545.54" y="275.38" width="5.46" height="27.25" fill="#17aeda"/>
<rect x="1550.39" y="275.38" width="5.46" height="27.25" fill="#20a4e3"/>
<rect x="1555.25" y="275.38" width="5.46" height="27.25" fill="#269ae8"/>
<rect x="1560.10" y="275.38" width="29.74" height="27.25" fill="#2895ec"/>
<rect x="1589.24" y="275.38" width="5.46" height="27.25" fill="#2797eb"/>
<rect x="1594.10" y="275.38" width="5.46" height="27.25" fill="#22a2e4"/>
<rect x="1598.95" y="275.38" width="5.46" height="27.25" fill="#15b0d8"/>
<rect x="1603.81" y="275.38" width="5.46" height="27.25" fill="#03b7cc"/>
<rect x="1608.66" y="275.38" width="5.46" height="27.25" fill="#04bbc1"/>
<rect x="1613.52" y="275.38" width="5.46" height="27.25" fill="#15bfb7"/>
<rect x="1618.38" y="275.38" width="5.46" height="27.25" fill="#22c1b0"/>
<rect x="1623.23" y="275.38" width="5.46" height="27.25" fill="#2ac3a9"/>
<rect x="1628.09" y="275.38" width="5.46" height="27.25" fill="#2ec5a4"/>
<rect x="1632.94" y="275.38" width="5.46" height="27.25" fill="#31c6a0"/>
<rect x="1637.80" y="275.38" width="5.46" height="27.25" fill="#33c79d"/>
<rect x="1642.66" y="275.38" width="5.46" height="27.25" fill="#35c79a"/>
<rect x="1647.51" y="275.38" width="10.31" height="27.25" fill="#36c898"/>
<rect x="1657.22" y="275.38" width="5.46" height="27.25" fill="#35c79b"/>
<rect x="1662.08" y="275.38" width="5.46" height="27.25" fill="#32c69f"/>
<rect x="1666.94" y="275.38" width="5.46" height="27.25" fill="#2ec5a4"/>
<rect x="1671.79" y="275.38" width="5.46" height="27.25" fill="#2ac3a9"/>
<rect x="1676.65" y="275.38" width="5.46" height="27.25" fill="#23c1af"/>
<rect x="1681.50" y="275.38" width="5.46" height="27.25" fill="#17bfb7"/>
<rect x="1686.36" y="275.38" width="5.46" height="27.25" fill="#06bcbf"/>
<rect x="1691.22" y="275.38" width="5.46" height="27.25" fill="#01b8ca"/>
<rect x="1696.07" y="275.38" width="5.46" height="27.25" fill="#12b1d6"/>
<rect x="1700.93" y="275.38" width="5.46" height="27.25" fill="#1da8e0"/>
<rect x="1705.78" y="275.38" width="5.46" height="27.25" fill="#259ce7"/>
<rect x="1710.64" y="275.38" width="5.46" height="27.25" fill="#2c90f0"/>
<rect x="1715.50" y="275.38" width="5.46" height="27.25" fill="#2e85f8"/>
<rect x="1720.35" y="275.38" width="5.46" height="27.25" fill="#327cfc"/>
<rect x="1725.21" y="275.38" width="20.02" height="27.25" fill="#347afd"/>
<rect x="1744.63" y="275.38" width="5.46" height="27.25" fill="#307efb"/>
<rect x="1749.49" y="275.38" width="5.46" height="27.25" fill="#269ae8"/>
<rect x="1754.34" y="275.38" width="5.46" height="27.25" fill="#14b0d8"/>
<rect x="1759.20" y="275.38" width="5.46" height="27.25" fill="#07bcbf"/>
<rect x="1764.06" y="275.38" width="5.46" height="27.25" fill="#3ac993"/>
<rect x="1768.91" y="275.38" width="5.46" height="27.25" fill="#8bcb51"/>
<rect x="1773.77" y="275.38" width="5.46" height="27.25" fill="#d5be27"/>
<rect x="1778.62" y="275.38" width="5.46" height="27.25" fill="#f4ba3a"/>
<rect x="1783.48" y="275.38" width="5.46" height="27.25" fill="#fec03a"/>
<rect x="1788.34" y="275.38" width="5.46" height="27.25" fill="#fec537"/>
<rect x="1793.19" y="275.38" width="5.46" height="27.25" fill="#fec636"/>
<rect x="1798.05" y="275.38" width="5.46" height="27.25" fill="#fec735"/>
<rect x="1802.90" y="275.38" width="49.16" height="27.25" fill="#fec835"/>
<rect x="1851.46" y="275.38" width="10.31" height="27.25" fill="#fec735"/>
<rect x="1861.18" y="275.38" width="5.46" height="27.25" fill="#fec736"/>
<rect x="1866.03" y="275.38" width="5.46" height="27.25" fill="#fec636"/>
<rect x="1870.89" y="275.38" width="10.31" height="27.25" fill="#fec537"/>
<rect x="1395.00" y="302.22" width="92.86" height="27.25" fill="#fad42e"/>
<rect x="1487.26" y="302.22" width="5.46" height="27.25" fill="#fbd22f"/>
<rect x="1492.12" y="302.22" width="5.46" height="27.25" fill="#fdcc32"/>
<rect x="1496.98" y="302.22" width="5.46" height="27.25" fill="#fec537"/>
<rect x="1501.83" y="302.22" width="5.46" height="27.25" fill="#fdbd3d"/>
<rect x="1506.69" y="302.22" width="5.46" height="27.25" fill="#eeba34"/>
<rect x="1511.54" y="302.22" width="5.46" height="27.25" fill="#d6be27"/>
<rect x="1516.40" y="302.22" width="5.46" height="27.25" fill="#b3c534"/>
<rect x="1521.26" y="302.22" width="5.46" height="27.25" fill="#8acb52"/>
<rect x="1526.11" y="302.22" width="5.46" height="27.25" fill="#5ecd74"/>
<rect x="1530.97" y="302.22" width="5.46" height="27.25" fill="#3ac993"/>
<rect x="1535.82" y="302.22" width="5.46" height="27.25" fill="#27c2ac"/>
<rect x="1540.68" y="302.22" width="5.46" height="27.25" fill="#03bbc1"/>
<rect x="1545.54" y="302.22" width="5.46" height="27.25" fill="#12b1d6"/>
<rect x="1550.39" y="302.22" width="5.46" height="27.25" fill="#1ea7e1"/>
<rect x="1555.25" y="302.22" width="5.46" height="27.25" fill="#249ee6"/>
<rect x="1560.10" y="302.22" width="5.46" height="27.25" fill="#2699ea"/>
<rect x="1564.96" y="302.22" width="5.46" height="27.25" fill="#2798ea"/>
<rect x="1569.82" y="302.22" width="5.46" height="27.25" fill="#2797eb"/>
<rect x="1574.67" y="302.22" width="5.46" height="27.25" fill="#2896eb"/>
<rect x="1579.53" y="302.22" width="5.46" height="27.25" fill="#2896ec"/>
<rect x="1584.38" y="302.22" width="5.46" height="27.25" fill="#2895ec"/>
<rect x="1589.24" y="302.22" width="5.46" height="27.25" fill="#2797eb"/>
<rect x="1594.10" y="302.22" width="5.46" height="27.25" fill="#20a5e2"/>
<rect x="1598.95" y="302.22" width="5.46" height="27.25" fill="#0ab4d2"/>
<rect x="1603.81" y="302.22" width="5.46" height="27.25" fill="#02bbc3"/>
<rect x="1608.66" y="302.22" width="5.46" height="27.25" fill="#1abfb5"/>
<rect x="1613.52" y="302.22" width="5.46" height="27.25" fill="#29c3aa"/>
<rect x="1618.38" y="302.22" width="5.46" height="27.25" fill="#31c6a0"/>
<rect x="1623.23" y="302.22" width="5.46" height="27.25" fill="#38c896"/>
<rect x="1628.09" y="302.22" width="5.46" height="27.25" fill="#3fca8e"/>
<rect x="1632.94" y="302.22" width="5.46" height="27.25" fill="#43cb8a"/>
<rect x="1637.80" y="302.22" width="5.46" height="27.25" fill="#48cb86"/>
<rect x="1642.66" y="302.22" width="5.46" height="27.25" fill="#4ccb83"/>
<rect x="1647.51" y="302.22" width="5.46" height="27.25" fill="#4fcc81"/>
<rect x="1652.37" y="302.22" width="5.46" height="27.25" fill="#50cc80"/>
<rect x="1657.22" y="302.22" width="5.46" height="27.25" fill="#4ecc82"/>
<rect x="1662.08" y="302.22" width="5.46" height="27.25" fill="#48cb86"/>
<rect x="1666.94" y="302.22" width="5.46" height="27.25" fill="#42ca8b"/>
<rect x="1671.79" y="302.22" width="5.46" height="27.25" fill="#3cc991"/>
<rect x="1676.65" y="302.22" width="5.46" height="27.25" fill="#36c898"/>
<rect x="1681.50" y="302.22" width="5.46" height="27.25" fill="#31c6a1"/>
<rect x="1686.36" y="302.22" width="5.46" height="27.25" fill="#2ac3a9"/>
<rect x="1691.22" y="302.22" width="5.46" height="27.25" fill="#1ec0b3"/>
<rect x="1696.07" y="302.22" width="5.46" height="27.25" fill="#0abdbd"/>
<rect x="1700.93" y="302.22" width="5.46" height="27.25" fill="#00b9c8"/>
<rect x="1705.78" y="302.22" width="5.46" height="27.25" fill="#0ab4d2"/>
<rect x="1710.64" y="302.22" width="5.46" height="27.25" fill="#18addb"/>
<rect x="1715.50" y="302.22" width="5.46" height="27.25" fill="#21a4e3"/>
<rect x="1720.35" y="302.22" width="5.46" height="27.25" fill="#2797eb"/>
<rect x="1725.21" y="302.22" width="5.46" height="27.25" fill="#2d8bf3"/>
<rect x="1730.06" y="302.22" width="5.46" height="27.25" fill="#2f81fa"/>
<rect x="1734.92" y="302.22" width="5.46" height="27.25" fill="#3777fe"/>
<rect x="1739.78" y="302.22" width="5.46" height="27.25" fill="#3e70ff"/>
<rect x="1744.63" y="302.22" width="10.31" height="27.25" fill="#3f6eff"/>
<rect x="1754.34" y="302.22" width="5.46" height="27.25" fill="#3b73ff"/>
<rect x="1759.20" y="302.22" width="5.46" height="27.25" fill="#2895ec"/>
<rect x="1764.06" y="302.22" width="5.46" height="27.25" fill="#15afd9"/>
<rect x="1768.91" y="302.22" width="5.46" height="27.25" fill="#04bbc1"/>
<rect x="1773.77" y="302.22" width="5.46" height="27.25" fill="#38c896"/>
<rect x="1778.62" y="302.22" width="5.46" height="27.25" fill="#86cb55"/>
<rect x="1783.48" y="302.22" width="5.46" height="27.25" fill="#d3bf27"/>
<rect x="1788.34" y="302.22" width="5.46" height="27.25" fill="#f1ba37"/>
<rect x="1793.19" y="302.22" width="5.46" height="27.25" fill="#fcbc3e"/>
<rect x="1798.05" y="302.22" width="5.46" height="27.25" fill="#fec03b"/>
<rect x="1802.90" y="302.22" width="5.46" height="27.25" fill="#fec239"/>
<rect x="1807.76" y="302.22" width="5.46" height="27.25" fill="#fec338"/>
<rect x="1812.62" y="302.22" width="5.46" height="27.25" fill="#fec537"/>
<rect x="1817.47" y="302.22" width="5.46" height="27.25" fill="#fec636"/>
<rect x="1822.33" y="302.22" width="5.46" height="27.25" fill="#fec735"/>
<rect x="1827.18" y="302.22" width="54.02" height="27.25" fill="#fec835"/>
<rect x="1395.00" y="329.07" width="73.44" height="27.25" fill="#f5e427"/>
<rect x="1467.84" y="329.07" width="5.46" height="27.25" fill="#f5e327"/>
<rect x="1472.70" y="329.07" width="5.46" height="27.25" fill="#f6e028"/>
<rect x="1477.55" y="329.07" width="5.46" height="27.25" fill="#f7db2a"/>
<rect x="1482.41" y="329.07" width="5.46" height="27.25" fill="#f9d62d"/>
<rect x="1487.26" y="329.07" width="5.46" height="27.25" fill="#fbd22f"/>
<rect x="1492.12" y="329.07" width="5.46" height="27.25" fill="#fdcd32"/>
<rect x="1496.98" y="329.07" width="5.46" height="27.25" fill="#fec735"/>
<rect x="1501.83" y="329.07" width="5.46" height="27.25" fill="#fec03b"/>
<rect x="1506.69" y="329.07" width="5.46" height="27.25" fill="#f7ba3c"/>
<rect x="1511.54" y="329.07" width="5.46" height="27.25" fill="#e3bc2b"/>
<rect x="1516.40" y="329.07" width="5.46" height="27.25" fill="#c0c32d"/>
<rect x="1521.26" y="329.07" width="5.46" height="27.25" fill="#94ca4a"/>
<rect x="1526.11" y="329.07" width="5.46" height="27.25" fill="#68cd6c"/>
<rect x="1530.97" y="329.07" width="5.46" height="27.25" fill="#41ca8c"/>
<rect x="1535.82" y="329.07" width="5.46" height="27.25" fill="#2dc4a5"/>
<rect x="1540.68" y="329.07" width="5.46" height="27.25" fill="#0cbdbc"/>
<rect x="1545.54" y="329.07" width="5.46" height="27.25" fill="#0eb2d4"/>
<rect x="1550.39" y="329.07" width="5.46" height="27.25" fill="#1ea6e1"/>
<rect x="1555.25" y="329.07" width="5.46" height="27.25" fill="#259be7"/>
<rect x="1560.10" y="329.07" width="5.46" height="27.25" fill="#2895ec"/>
<rect x="1564.96" y="329.07" width="5.46" height="27.25" fill="#2994ed"/>
<rect x="1569.82" y="329.07" width="5.46" height="27.25" fill="#2a93ed"/>
<rect x="1574.67" y="329.07" width="5.46" height="27.25" fill="#2a93ee"/>
<rect x="1579.53" y="329.07" width="10.31" height="27.25" fill="#2a92ee"/>
<rect x="1589.24" y="329.07" width="5.46" height="27.25" fill="#2797eb"/>
<rect x="1594.10" y="329.07" width="5.46" height="27.25" fill="#21a3e3"/>
<rect x="1598.95" y="329.07" width="5.46" height="27.25" fill="#15b0d8"/>
<rect x="1603.81" y="329.07" width="5.46" height="27.25" fill="#02b7cc"/>
<rect x="1608.66" y="329.07" width="5.46" height="27.25" fill="#08bcbe"/>
<rect x="1613.52" y="329.07" width="5.46" height="27.25" fill="#1ec0b3"/>
<rect x="1618.38" y="329.07" width="5.46" height="27.25" fill="#2bc3a8"/>
<rect x="1623.23" y="329.07" width="5.46" height="27.25" fill="#32c69e"/>
<rect x="1628.09" y="329.07" width="5.46" height="27.25" fill="#39c895"/>
<rect x="1632.94" y="329.07" width="5.46" height="27.25" fill="#3fca8e"/>
<rect x="1637.80" y="329.07" width="5.46" height="27.25" fill="#46cb88"/>
<rect x="1642.66" y="329.07" width="5.46" height="27.25" fill="#4ecc82"/>
<rect x="1647.51" y="329.07" width="5.46" height="27.25" fill="#54cc7d"/>
<rect x="1652.37" y="329.07" width="10.31" height="27.25" fill="#57cc7a"/>
<rect x="1662.08" y="329.07" width="5.46" height="27.25" fill="#54cc7d"/>
<rect x="1666.94" y="329.07" width="5.46" height="27.25" fill="#4dcc82"/>
<rect x="1671.79" y="329.07" width="5.46" height="27.25" fill="#45cb88"/>
<rect x="1676.65" y="329.07" width="5.46" height="27.25" fill="#3eca8e"/>
<rect x="1681.50" y="329.07" width="5.46" height="27.25" fill="#38c896"/>
<rect x="1686.36" y="329.07" width="5.46" height="27.25" fill="#31c69f"/>
<rect x="1691.22" y="329.07" width="5.46" height="27.25" fill="#2ac3a9"/>
<rect x="1696.07" y="329.07" width="5.46" height="27.25" fill="#1dc0b3"/>
<rect x="1700.93" y="329.07" width="5.46" height="27.25" fill="#07bcbf"/>
<rect x="1705.78" y="329.07" width="5.46" height="27.25" fill="#02b7cb"/>
<rect x="1710.64" y="329.07" width="5.46" height="27.25" fill="#13b1d7"/>
<rect x="1715.50" y="329.07" width="5.46" height="27.25" fill="#1da9e0"/>
<rect x="1720.35" y="329.07" width="5.46" height="27.25" fill="#249fe5"/>
<rect x="1725.21" y="329.07" width="5.46" height="27.25" fill="#2895ec"/>
<rect x="1730.06" y="329.07" width="5.46" height="27.25" fill="#2d8af4"/>
<rect x="1734.92" y="329.07" width="5.46" height="27.25" fill="#2f7ffb"/>
<rect x="1739.78" y="329.07" width="5.46" height="27.25" fill="#3876fe"/>
<rect x="1744.63" y="329.07" width="5.46" height="27.25" fill="#416cfe"/>
<rect x="1749.49" y="329.07" width="15.17" height="27.25" fill="#4367fd"/>
<rect x="1764.06" y="329.07" width="5.46" height="27.25" fill="#327cfc"/>
<rect x="1768.91" y="329.07" width="5.46" height="27.25" fill="#20a4e3"/>
<rect x="1773.77" y="329.07" width="5.46" height="27.25" fill="#05b6ce"/>
<rect x="1778.62" y="329.07" width="5.46" height="27.25" fill="#21c1b1"/>
<rect x="1783.48" y="329.07" width="5.46" height="27.25" fill="#56cc7b"/>
<rect x="1788.34" y="329.07" width="5.46" height="27.25" fill="#abc739"/>
<rect x="1793.19" y="329.07" width="5.46" height="27.25" fill="#e7bb2e"/>
<rect x="1798.05" y="329.07" width="5.46" height="27.25" fill="#f7ba3c"/>
<rect x="1802.90" y="329.07" width="5.46" height="27.25" fill="#febd3d"/>
<rect x="1807.76" y="329.07" width="5.46" height="27.25" fill="#fec13a"/>
<rect x="1812.62" y="329.07" width="5.46" height="27.25" fill="#fec338"/>
<rect x="1817.47" y="329.07" width="5.46" height="27.25" fill="#fec537"/>
<rect x="1822.33" y="329.07" width="5.46" height="27.25" fill="#fec735"/>
<rect x="1827.18" y="329.07" width="5.46" height="27.25" fill="#fec834"/>
<rect x="1832.04" y="329.07" width="5.46" height="27.25" fill="#feca33"/>
<rect x="1836.90" y="329.07" width="5.46" height="27.25" fill="#fdcc32"/>
<rect x="1841.75" y="329.07" width="5.46" height="27.25" fill="#fdce31"/>
<rect x="1846.61" y="329.07" width="5.46" height="27.25" fill="#fcd12f"/>
<rect x="1851.46" y="329.07" width="5.46" height="27.25" fill="#fad42e"/>
<rect x="1856.32" y="329.07" width="5.46" height="27.25" fill="#f9d72c"/>
<rect x="1861.18" y="329.07" width="5.46" height="27.25" fill="#f8da2b"/>
<rect x="1866.03" y="329.07" width="5.46" height="27.25" fill="#f7dd2a"/>
<rect x="1870.89" y="329.07" width="5.46" height="27.25" fill="#f6df29"/>
<rect x="1875.74" y="329.07" width="5.46" height="27.25" fill="#f5e128"/>
<rect x="1395.00" y="355.93" width="58.87" height="27.25" fill="#f6f020"/>
<rect x="1453.27" y="355.93" width="5.46" height="27.25" fill="#f6ef20"/>
<rect x="1458.13" y="355.93" width="5.46" height="27.25" fill="#f5ec22"/>
<rect x="1462.98" y="355.93" width="5.46" height="27.25" fill="#f5e825"/>
<rect x="1467.84" y="355.93" width="5.46" height="27.25" fill="#f5e427"/>
<rect x="1472.70" y="355.93" width="5.46" height="27.25" fill="#f6e028"/>
<rect x="1477.55" y="355.93" width="5.46" height="27.25" fill="#f7dd2a"/>
<rect x="1482.41" y="355.93" width="5.46" height="27.25" fill="#f8da2b"/>
<rect x="1487.26" y="355.93" width="5.46" height="27.25" fill="#f9d62d"/>
<rect x="1492.12" y="355.93" width="5.46" height="27.25" fill="#fbd22f"/>
<rect x="1496.98" y="355.93" width="5.46" height="27.25" fill="#fdcc32"/>
<rect x="1501.83" y="355.93" width="5.46" height="27.25" fill="#fec636"/>
<rect x="1506.69" y="355.93" width="5.46" height="27.25" fill="#febe3c"/>
<rect x="1511.54" y="355.93" width="5.46" height="27.25" fill="#efba35"/>
<rect x="1516.40" y="355.93" width="5.46" height="27.25" fill="#d0c027"/>
<rect x="1521.26" y="355.93" width="5.46" height="27.25" fill="#9fc941"/>
<rect x="1526.11" y="355.93" width="5.46" height="27.25" fill="#6fcd66"/>
<rect x="1530.97" y="355.93" width="5.46" height="27.25" fill="#44cb89"/>
<rect x="1535.82" y="355.93" width="5.46" height="27.25" fill="#2dc4a6"/>
<rect x="1540.68" y="355.93" width="5.46" height="27.25" fill="#07bcbe"/>
<rect x="1545.54" y="355.93" width="5.46" height="27.25" fill="#10b2d5"/>
<rect x="1550.39" y="355.93" width="5.46" height="27.25" fill="#1ea6e1"/>
<rect x="1555.25" y="355.93" width="5.46" height="27.25" fill="#259be7"/>
<rect x="1560.10" y="355.93" width="5.46" height="27.25" fill="#2895ec"/>
<rect x="1564.96" y="355.93" width="10.31" height="27.25" fill="#2994ed"/>
<rect x="1574.67" y="355.93" width="5.46" height="27.25" fill="#2a93ee"/>
<rect x="1579.53" y="355.93" width="10.31" height="27.25" fill="#2a92ee"/>
<rect x="1589.24" y="355.93" width="5.46" height="27.25" fill="#2a93ed"/>
<rect x="1594.10" y="355.93" width="5.46" height="27.25" fill="#249fe5"/>
<rect x="1598.95" y="355.93" width="5.46" height="27.25" fill="#19addc"/>
<rect x="1603.81" y="355.93" width="5.46" height="27.25" fill="#07b5d0"/>
<rect x="1608.66" y="355.93" width="5.46" height="27.25" fill="#02bbc3"/>
<rect x="1613.52" y="355.93" width="5.46" height="27.25" fill="#16bfb7"/>
<rect x="1618.38" y="355.93" width="5.46" height="27.25" fill="#28c2ab"/>
<rect x="1623.23" y="355.93" width="5.46" height="27.25" fill="#31c6a0"/>
<rect x="1628.09" y="355.93" width="5.46" height="27.25" fill="#38c896"/>
<rect x="1632.94" y="355.93" width="5.46" height="27.25" fill="#3fca8e"/>
<rect x="1637.80" y="355.93" width="5.46" height="27.25" fill="#48cb86"/>
<rect x="1642.66" y="355.93" width="5.46" height="27.25" fill="#52cc7e"/>
<rect x="1647.51" y="355.93" width="5.46" height="27.25" fill="#59cc78"/>
<rect x="1652.37" y="355.93" width="5.46" height="27.25" fill="#5ecd74"/>
<rect x="1657.22" y="355.93" width="5.46" height="27.25" fill="#60cd73"/>
<rect x="1662.08" y="355.93" width="5.46" height="27.25" fill="#5dcd75"/>
<rect x="1666.94" y="355.93" width="5.46" height="27.25" fill="#58cc79"/>
<rect x="1671.79" y="355.93" width="5.46" height="27.25" fill="#51cc7f"/>
<rect x="1676.65" y="355.93" width="5.46" height="27.25" fill="#49cb85"/>
<rect x="1681.50" y="355.93" width="5.46" height="27.25" fill="#41ca8c"/>
<rect x="1686.36" y="355.93" width="5.46" height="27.25" fill="#3ac993"/>
<rect x="1691.22" y="355.93" width="5.46" height="27.25" fill="#34c79c"/>
<rect x="1696.07" y="355.93" width="5.46" height="27.25" fill="#2ec4a5"/>
<rect x="1700.93" y="355.93" width="5.46" height="27.25" fill="#26c2ad"/>
<rect x="1705.78" y="355.93" width="5.46" height="27.25" fill="#18bfb6"/>
<rect x="1710.64" y="355.93" width="5.46" height="27.25" fill="#06bcc0"/>
<rect x="1715.50" y="355.93" width="5.46" height="27.25" fill="#01b8ca"/>
<rect x="1720.35" y="355.93" width="5.46" height="27.25" fill="#0eb3d4"/>
<rect x="1725.21" y="355.93" width="5.46" height="27.25" fill="#1aacdd"/>
<rect x="1730.06" y="355.93" width="5.46" height="27.25" fill="#21a3e3"/>
<rect x="1734.92" y="355.93" width="5.46" height="27.25" fill="#269ae9"/>
<rect x="1739.78" y="355.93" width="5.46" height="27.25" fill="#2d8ef1"/>
<rect x="1744.63" y="355.93" width="5.46" height="27.25" fill="#2f82fa"/>
<rect x="1749.49" y="355.93" width="5.46" height="27.25" fill="#3a74ff"/>
<rect x="1754.34" y="355.93" width="15.17" height="27.25" fill="#4367fd"/>
<rect x="1768.91" y="355.93" width="5.46" height="27.25" fill="#337bfd"/>
<rect x="1773.77" y="355.93" width="5.46" height="27.25" fill="#21a3e3"/>
<rect x="1778.62" y="355.93" width="5.46" height="27.25" fill="#06b5cf"/>
<rect x="1783.48" y="355.93" width="5.46" height="27.25" fill="#1fc0b2"/>
<rect x="1788.34" y="355.93" width="5.46" height="27.25" fill="#54cc7c"/>
<rect x="1793.19" y="355.93" width="5.46" height="27.25" fill="#a9c73a"/>
<rect x="1798.05" y="355.93" width="5.46" height="27.25" fill="#e6bb2d"/>
<rect x="1802.90" y="355.93" width="5.46" height="27.25" fill="#f6ba3c"/>
<rect x="1807.76" y="355.93" width="5.46" height="27.25" fill="#febd3d"/>
<rect x="1812.62" y="355.93" width="5.46" height="27.25" fill="#fec13a"/>
<rect x="1817.47" y="355.93" width="5.46" height="27.25" fill="#fec438"/>
<rect x="1822.33" y="355.93" width="5.46" height="27.25" fill="#fec636"/>
<rect x="1827.18" y="355.93" width="5.46" height="27.25" fill="#fec835"/>
<rect x="1832.04" y="355.93" width="5.46" height="27.25" fill="#fec934"/>
<rect x="1836.90" y="355.93" width="5.46" height="27.25" fill="#fdcc32"/>
<rect x="1841.75" y="355.93" width="5.46" height="27.25" fill="#fdce31"/>
<rect x="1846.61" y="355.93" width="5.46" height="27.25" fill="#fcd12f"/>
<rect x="1851.46" y="355.93" width="5.46" height="27.25" fill="#fad42e"/>
<rect x="1856.32" y="355.93" width="5.46" height="27.25" fill="#f9d72c"/>
<rect x="1861.18" y="355.93" width="5.46" height="27.25" fill="#f8da2b"/>
<rect x="1866.03" y="355.93" width="5.46" height="27.25" fill="#f7dd2a"/>
<rect x="1870.89" y="355.93" width="5.46" height="27.25" fill="#f6df29"/>
<rect x="1875.74" y="355.93" width="5.46" height="27.25" fill="#f5e128"/>
<rect x="1395.00" y="382.77" width="29.74" height="27.25" fill="#f7f31d"/>
<rect x="1424.14" y="382.77" width="10.31" height="27.25" fill="#f6f31d"/>
<rect x="1433.85" y="382.77" width="15.17" height="27.25" fill="#f6f21e"/>
<rect x="1448.42" y="382.77" width="10.31" height="27.25" fill="#f6f11f"/>
<rect x="1458.13" y="382.77" width="5.46" height="27.25" fill="#f6f01f"/>
<rect x="1462.98" y="382.77" width="5.46" height="27.25" fill="#f6f020"/>
<rect x="1467.84" y="382.77" width="5.46" height="27.25" fill="#f5ed22"/>
<rect x="1472.70" y="382.77" width="5.46" height="27.25" fill="#f5e825"/>
<rect x="1477.55" y="382.77" width="5.46" height="27.25" fill="#f5e327"/>
<rect x="1482.41" y="382.77" width="5.46" height="27.25" fill="#f6de29"/>
<rect x="1487.26" y="382.77" width="5.46" height="27.25" fill="#f8d92b"/>
<rect x="1492.12" y="382.77" width="5.46" height="27.25" fill="#fad42e"/>
<rect x="1496.98" y="382.77" width="5.46" height="27.25" fill="#fdcf31"/>
<rect x="1501.83" y="382.77" width="5.46" height="27.25" fill="#fec835"/>
<rect x="1506.69" y="382.77" width="5.46" height="27.25" fill="#fec03b"/>
<rect x="1511.54" y="382.77" width="5.46" height="27.25" fill="#f4ba3a"/>
<rect x="1516.40" y="382.77" width="5.46" height="27.25" fill="#d7be28"/>
<rect x="1521.26" y="382.77" width="5.46" height="27.25" fill="#a0c941"/>
<rect x="1526.11" y="382.77" width="5.46" height="27.25" fill="#6ccd68"/>
<rect x="1530.97" y="382.77" width="5.46" height="27.25" fill="#40ca8d"/>
<rect x="1535.82" y="382.77" width="5.46" height="27.25" fill="#29c3aa"/>
<rect x="1540.68" y="382.77" width="5.46" height="27.25" fill="#03bbc2"/>
<rect x="1545.54" y="382.77" width="5.46" height="27.25" fill="#14b0d8"/>
<rect x="1550.39" y="382.77" width="5.46" height="27.25" fill="#20a5e2"/>
<rect x="1555.25" y="382.77" width="5.46" height="27.25" fill="#259be8"/>
<rect x="1560.10" y="382.77" width="5.46" height="27.25" fill="#2994ed"/>
<rect x="1564.96" y="382.77" width="5.46" height="27.25" fill="#2c8ff0"/>
<rect x="1569.82" y="382.77" width="20.02" height="27.25" fill="#2d8cf3"/>
<rect x="1589.24" y="382.77" width="5.46" height="27.25" fill="#2d8df2"/>
<rect x="1594.10" y="382.77" width="5.46" height="27.25" fill="#2798ea"/>
<rect x="1598.95" y="382.77" width="5.46" height="27.25" fill="#20a5e2"/>
<rect x="1603.81" y="382.77" width="5.46" height="27.25" fill="#18aedb"/>
<rect x="1608.66" y="382.77" width="5.46" height="27.25" fill="#07b5d0"/>
<rect x="1613.52" y="382.77" width="5.46" height="27.25" fill="#02bac4"/>
<rect x="1618.38" y="382.77" width="5.46" height="27.25" fill="#16bfb7"/>
<rect x="1623.23" y="382.77" width="5.46" height="27.25" fill="#28c2ab"/>
<rect x="1628.09" y="382.77" width="5.46" height="27.25" fill="#31c6a0"/>
<rect x="1632.94" y="382.77" width="5.46" height="27.25" fill="#38c896"/>
<rect x="1637.80" y="382.77" width="5.46" height="27.25" fill="#41ca8c"/>
<rect x="1642.66" y="382.77" width="5.46" height="27.25" fill="#4ccb83"/>
<rect x="1647.51" y="382.77" width="5.46" height="27.25" fill="#57cc7a"/>
<rect x="1652.37" y="382.77" width="5.46" height="27.25" fill="#60cd72"/>
<rect x="1657.22" y="382.77" width="5.46" height="27.25" fill="#64cd6f"/>
<rect x="1662.08" y="382.77" width="5.46" height="27.25" fill="#61cd71"/>
<rect x="1666.94" y="382.77" width="5.46" height="27.25" fill="#5bcc77"/>
<rect x="1671.79" y="382.77" width="5.46" height="27.25" fill="#51cc7f"/>
<rect x="1676.65" y="382.77" width="5.46" height="27.25" fill="#47cb87"/>
<rect x="1681.50" y="382.77" width="5.46" height="27.25" fill="#3eca8f"/>
<rect x="1686.36" y="382.77" width="5.46" height="27.25" fill="#37c897"/>
<rect x="1691.22" y="382.77" width="5.46" height="27.25" fill="#31c6a0"/>
<rect x="1696.07" y="382.77" width="5.46" height="27.25" fill="#2ac3a9"/>
<rect x="1700.93" y="382.77" width="5.46" height="27.25" fill="#1fc0b2"/>
<rect x="1705.78" y="382.77" width="5.46" height="27.25" fill="#0fbeba"/>
<rect x="1710.64" y="382.77" width="5.46" height="27.25" fill="#02bbc3"/>
<rect x="1715.50" y="382.77" width="5.46" height="27.25" fill="#03b7cc"/>
<rect x="1720.35" y="382.77" width="5.46" height="27.25" fill="#10b2d5"/>
<rect x="1725.21" y="382.77" width="5.46" height="27.25" fill="#1aacdd"/>
<rect x="1730.06" y="382.77" width="5.46" height="27.25" fill="#20a5e3"/>
<rect x="1734.92" y="382.77" width="5.46" height="27.25" fill="#259ce7"/>
<rect x="1739.78" y="382.77" width="5.46" height="27.25" fill="#2c90f0"/>
<rect x="1744.63" y="382.77" width="5.46" height="27.25" fill="#2f81fa"/>
<rect x="1749.49" y="382.77" width="5.46" height="27.25" fill="#3876fe"/>
<rect x="1754.34" y="382.77" width="5.46" height="27.25" fill="#416cfe"/>
<rect x="1759.20" y="382.77" width="5.46" height="27.25" fill="#4465fd"/>
<rect x="1764.06" y="382.77" width="5.46" height="27.25" fill="#4563fd"/>
<rect x="1768.91" y="382.77" width="5.46" height="27.25" fill="#4466fd"/>
<rect x="1773.77" y="382.77" width="5.46" height="27.25" fill="#2e86f8"/>
<rect x="1778.62" y="382.77" width="5.46" height="27.25" fill="#16afd9"/>
<rect x="1783.48" y="382.77" width="5.46" height="27.25" fill="#0dbdbc"/>
<rect x="1788.34" y="382.77" width="5.46" height="27.25" fill="#41ca8c"/>
<rect x="1793.19" y="382.77" width="5.46" height="27.25" fill="#94ca4a"/>
<rect x="1798.05" y="382.77" width="5.46" height="27.25" fill="#e5bb2c"/>
<rect x="1802.90" y="382.77" width="5.46" height="27.25" fill="#f7ba3c"/>
<rect x="1807.76" y="382.77" width="5.46" height="27.25" fill="#febd3d"/>
<rect x="1812.62" y="382.77" width="5.46" height="27.25" fill="#fec13a"/>
<rect x="1817.47" y="382.77" width="5.46" height="27.25" fill="#fec339"/>
<rect x="1822.33" y="382.77" width="5.46" height="27.25" fill="#fec438"/>
<rect x="1827.18" y="382.77" width="5.46" height="27.25" fill="#fec537"/>
<rect x="1832.04" y="382.77" width="5.46" height="27.25" fill="#fec636"/>
<rect x="1836.90" y="382.77" width="5.46" height="27.25" fill="#fec835"/>
<rect x="1841.75" y="382.77" width="5.46" height="27.25" fill="#fecb33"/>
<rect x="1846.61" y="382.77" width="5.46" height="27.25" fill="#fdcf30"/>
<rect x="1851.46" y="382.77" width="5.46" height="27.25" fill="#fbd32e"/>
<rect x="1856.32" y="382.77" width="5.46" height="27.25" fill="#f9d72c"/>
<rect x="1861.18" y="382.77" width="5.46" height="27.25" fill="#f8da2b"/>
<rect x="1866.03" y="382.77" width="5.46" height="27.25" fill="#f7dd2a"/>
<rect x="1870.89" y="382.77" width="5.46" height="27.25" fill="#f6df29"/>
<rect x="1875.74" y="382.77" width="5.46" height="27.25" fill="#f5e128"/>
<rect x="1395.00" y="409.62" width="34.59" height="27.25" fill="#f7f51b"/>
<rect x="1428.99" y="409.62" width="15.17" height="27.25" fill="#f7f41c"/>
<rect x="1443.56" y="409.62" width="10.31" height="27.25" fill="#f7f31d"/>
<rect x="1453.27" y="409.62" width="5.46" height="27.25" fill="#f6f31d"/>
<rect x="1458.13" y="409.62" width="5.46" height="27.25" fill="#f6f21e"/>
<rect x="1462.98" y="409.62" width="5.46" height="27.25" fill="#f6f11e"/>
<rect x="1467.84" y="409.62" width="5.46" height="27.25" fill="#f5ef21"/>
<rect x="1472.70" y="409.62" width="5.46" height="27.25" fill="#f5e924"/>
<rect x="1477.55" y="409.62" width="5.46" height="27.25" fill="#f5e327"/>
<rect x="1482.41" y="409.62" width="5.46" height="27.25" fill="#f6de29"/>
<rect x="1487.26" y="409.62" width="5.46" height="27.25" fill="#f8d92b"/>
<rect x="1492.12" y="409.62" width="5.46" height="27.25" fill="#fad42e"/>
<rect x="1496.98" y="409.62" width="5.46" height="27.25" fill="#fdcf31"/>
<rect x="1501.83" y="409.62" width="5.46" height="27.25" fill="#fec835"/>
<rect x="1506.69" y="409.62" width="5.46" height="27.25" fill="#fec03b"/>
<rect x="1511.54" y="409.62" width="5.46" height="27.25" fill="#f4ba3a"/>
<rect x="1516.40" y="409.62" width="5.46" height="27.25" fill="#d7be28"/>
<rect x="1521.26" y="409.62" width="5.46" height="27.25" fill="#a0c941"/>
<rect x="1526.11" y="409.62" width="5.46" height="27.25" fill="#6ccd68"/>
<rect x="1530.97" y="409.62" width="5.46" height="27.25" fill="#40ca8d"/>
<rect x="1535.82" y="409.62" width="5.46" height="27.25" fill="#29c3aa"/>
<rect x="1540.68" y="409.62" width="5.46" height="27.25" fill="#03bbc2"/>
<rect x="1545.54" y="409.62" width="5.46" height="27.25" fill="#14b0d8"/>
<rect x="1550.39" y="409.62" width="5.46" height="27.25" fill="#20a5e2"/>
<rect x="1555.25" y="409.62" width="5.46" height="27.25" fill="#259be8"/>
<rect x="1560.10" y="409.62" width="5.46" height="27.25" fill="#2994ed"/>
<rect x="1564.96" y="409.62" width="5.46" height="27.25" fill="#2c8ff0"/>
<rect x="1569.82" y="409.62" width="20.02" height="27.25" fill="#2d8cf3"/>
<rect x="1589.24" y="409.62" width="5.46" height="27.25" fill="#2d8df2"/>
<rect x="1594.10" y="409.62" width="5.46" height="27.25" fill="#2798ea"/>
<rect x="1598.95" y="409.62" width="5.46" height="27.25" fill="#20a5e2"/>
<rect x="1603.81" y="409.62" width="5.46" height="27.25" fill="#18aedb"/>
<rect x="1608.66" y="409.62" width="5.46" height="27.25" fill="#07b5d0"/>
<rect x="1613.52" y="409.62" width="5.46" height="27.25" fill="#02bac4"/>
<rect x="1618.38" y="409.62" width="5.46" height="27.25" fill="#16bfb7"/>
<rect x="1623.23" y="409.62" width="5.46" height="27.25" fill="#28c2ab"/>
<rect x="1628.09" y="409.62" width="5.46" height="27.25" fill="#31c6a0"/>
<rect x="1632.94" y="409.62" width="5.46" height="27.25" fill="#38c896"/>
<rect x="1637.80" y="409.62" width="5.46" height="27.25" fill="#41ca8c"/>
<rect x="1642.66" y="409.62" width="5.46" height="27.25" fill="#4ccb83"/>
<rect x="1647.51" y="409.62" width="5.46" height="27.25" fill="#57cc7a"/>
<rect x="1652.37" y="409.62" width="5.46" height="27.25" fill="#60cd72"/>
<rect x="1657.22" y="409.62" width="5.46" height="27.25" fill="#64cd6f"/>
<rect x="1662.08" y="409.62" width="5.46" height="27.25" fill="#61cd71"/>
<rect x="1666.94" y="409.62" width="5.46" height="27.25" fill="#5bcc77"/>
<rect x="1671.79" y="409.62" width="5.46" height="27.25" fill="#51cc7f"/>
<rect x="1676.65" y="409.62" width="5.46" height="27.25" fill="#47cb87"/>
<rect x="1681.50" y="409.62" width="5.46" height="27.25" fill="#3eca8f"/>
<rect x="1686.36" y="409.62" width="5.46" height="27.25" fill="#37c897"/>
<rect x="1691.22" y="409.62" width="5.46" height="27.25" fill="#31c6a0"/>
<rect x="1696.07" y="409.62" width="5.46" height="27.25" fill="#2ac3a9"/>
<rect x="1700.93" y="409.62" width="5.46" height="27.25" fill="#1fc0b2"/>
<rect x="1705.78" y="409.62" width="5.46" height="27.25" fill="#0fbeba"/>
<rect x="1710.64" y="409.62" width="5.46" height="27.25" fill="#02bbc3"/>
<rect x="1715.50" y="409.62" width="5.46" height="27.25" fill="#03b7cc"/>
<rect x="1720.35" y="409.62" width="5.46" height="27.25" fill="#10b2d5"/>
<rect x="1725.21" y="409.62" width="5.46" height="27.25" fill="#1aacdd"/>
<rect x="1730.06" y="409.62" width="5.46" height="27.25" fill="#20a5e3"/>
<rect x="1734.92" y="409.62" width="5.46" height="27.25" fill="#259ce7"/>
<rect x="1739.78" y="409.62" width="5.46" height="27.25" fill="#2c90f0"/>
<rect x="1744.63" y="409.62" width="5.46" height="27.25" fill="#2f82fa"/>
<rect x="1749.49" y="409.62" width="5.46" height="27.25" fill="#3975fe"/>
<rect x="1754.34" y="409.62" width="5.46" height="27.25" fill="#4367fd"/>
<rect x="1759.20" y="409.62" width="5.46" height="27.25" fill="#4660fc"/>
<rect x="1764.06" y="409.62" width="10.31" height="27.25" fill="#465ffb"/>
<rect x="1773.77" y="409.62" width="5.46" height="27.25" fill="#3d70ff"/>
<rect x="1778.62" y="409.62" width="5.46" height="27.25" fill="#1da9e0"/>
<rect x="1783.48" y="409.62" width="5.46" height="27.25" fill="#00b9c6"/>
<rect x="1788.34" y="409.62" width="5.46" height="27.25" fill="#25c2ae"/>
<rect x="1793.19" y="409.62" width="5.46" height="27.25" fill="#39c994"/>
<rect x="1798.05" y="409.62" width="5.46" height="27.25" fill="#6dcd67"/>
<rect x="1802.90" y="409.62" width="5.46" height="27.25" fill="#b4c533"/>
<rect x="1807.76" y="409.62" width="5.46" height="27.25" fill="#e6bb2d"/>
<rect x="1812.62" y="409.62" width="5.46" height="27.25" fill="#f7ba3d"/>
<rect x="1817.47" y="409.62" width="5.46" height="27.25" fill="#febe3c"/>
<rect x="1822.33" y="409.62" width="5.46" height="27.25" fill="#fec239"/>
<rect x="1827.18" y="409.62" width="5.46" height="27.25" fill="#fec437"/>
<rect x="1832.04" y="409.62" width="5.46" height="27.25" fill="#fec636"/>
<rect x="1836.90" y="409.62" width="5.46" height="27.25" fill="#fec835"/>
<rect x="1841.75" y="409.62" width="5.46" height="27.25" fill="#fecb33"/>
<rect x="1846.61" y="409.62" width="5.46" height="27.25" fill="#fccf30"/>
<rect x="1851.46" y="409.62" width="5.46" height="27.25" fill="#fbd32e"/>
<rect x="1856.32" y="409.62" width="5.46" height="27.25" fill="#f9d72c"/>
<rect x="1861.18" y="409.62" width="5.46" height="27.25" fill="#f8da2b"/>
<rect x="1866.03" y="409.62" width="5.46" height="27.25" fill="#f7dd2a"/>
<rect x="1870.89" y="409.62" width="5.46" height="27.25" fill="#f6df29"/>
<rect x="1875.74" y="409.62" width="5.46" height="27.25" fill="#f5e128"/>
<rect x="1395.00" y="436.47" width="34.59" height="13.83" fill="#f7f51b"/>
<rect x="1428.99" y="436.47" width="15.17" height="13.83" fill="#f7f41c"/>
<rect x="1443.56" y="436.47" width="10.31" height="13.83" fill="#f7f31d"/>
<rect x="1453.27" y="436.47" width="5.46" height="13.83" fill="#f6f31d"/>
<rect x="1458.13" y="436.47" width="5.46" height="13.83" fill="#f6f21e"/>
<rect x="1462.98" y="436.47" width="5.46" height="13.83" fill="#f6f11e"/>
<rect x="1467.84" y="436.47" width="5.46" height="13.83" fill="#f5ef21"/>
<rect x="1472.70" y="436.47" width="5.46" height="13.83" fill="#f5e924"/>
<rect x="1477.55" y="436.47" width="5.46" height="13.83" fill="#f5e327"/>
<rect x="1482.41" y="436.47" width="5.46" height="13.83" fill="#f6de29"/>
<rect x="1487.26" y="436.47" width="5.46" height="13.83" fill="#f8d92b"/>
<rect x="1492.12" y="436.47" width="5.46" height="13.83" fill="#fad42e"/>
<rect x="1496.98" y="436.47" width="5.46" height="13.83" fill="#fdcf31"/>
<rect x="1501.83" y="436.47" width="5.46" height="13.83" fill="#fec835"/>
<rect x="1506.69" y="436.47" width="5.46" height="13.83" fill="#fec03b"/>
<rect x="1511.54" y="436.47" width="5.46" height="13.83" fill="#f4ba3a"/>
<rect x="1516.40" y="436.47" width="5.46" height="13.83" fill="#d7be28"/>
<rect x="1521.26" y="436.47" width="5.46" height="13.83" fill="#a0c941"/>
<rect x="1526.11" y="436.47" width="5.46" height="13.83" fill="#6ccd68"/>
<rect x="1530.97" y="436.47" width="5.46" height="13.83" fill="#40ca8d"/>
<rect x="1535.82" y="436.47" width="5.46" height="13.83" fill="#29c3aa"/>
<rect x="1540.68" y="436.47" width="5.46" height="13.83" fill="#03bbc2"/>
<rect x="1545.54" y="436.47" width="5.46" height="13.83" fill="#14b0d8"/>
<rect x="1550.39" y="436.47" width="5.46" height="13.83" fill="#20a5e2"/>
<rect x="1555.25" y="436.47" width="5.46" height="13.83" fill="#259be8"/>
<rect x="1560.10" y="436.47" width="5.46" height="13.83" fill="#2994ed"/>
<rect x="1564.96" y="436.47" width="5.46" height="13.83" fill="#2c8ff0"/>
<rect x="1569.82" y="436.47" width="20.02" height="13.83" fill="#2d8cf3"/>
<rect x="1589.24" y="436.47" width="5.46" height="13.83" fill="#2d8df2"/>
<rect x="1594.10" y="436.47" width="5.46" height="13.83" fill="#2798ea"/>
<rect x="1598.95" y="436.47" width="5.46" height="13.83" fill="#20a5e2"/>
<rect x="1603.81" y="436.47" width="5.46" height="13.83" fill="#18aedb"/>
<rect x="1608.66" y="436.47" width="5.46" height="13.83" fill="#07b5d0"/>
<rect x="1613.52" y="436.47" width="5.46" height="13.83" fill="#02bac4"/>
<rect x="1618.38" y="436.47" width="5.46" height="13.83" fill="#16bfb7"/>
<rect x="1623.23" y="436.47" width="5.46" height="13.83" fill="#28c2ab"/>
<rect x="1628.09" y="436.47" width="5.46" height="13.83" fill="#31c6a0"/>
<rect x="1632.94" y="436.47" width="5.46" height="13.83" fill="#38c896"/>
<rect x="1637.80" y="436.47" width="5.46" height="13.83" fill="#41ca8c"/>
<rect x="1642.66" y="436.47" width="5.46" height="13.83" fill="#4ccb83"/>
<rect x="1647.51" y="436.47" width="5.46" height="13.83" fill="#57cc7a"/>
<rect x="1652.37" y="436.47" width="5.46" height="13.83" fill="#60cd72"/>
<rect x="1657.22" y="436.47" width="5.46" height="13.83" fill="#64cd6f"/>
<rect x="1662.08" y="436.47" width="5.46" height="13.83" fill="#61cd71"/>
<rect x="1666.94" y="436.47" width="5.46" height="13.83" fill="#5bcc77"/>
<rect x="1671.79" y="436.47" width="5.46" height="13.83" fill="#51cc7f"/>
<rect x="1676.65" y="436.47" width="5.46" height="13.83" fill="#47cb87"/>
<rect x="1681.50" y="436.47" width="5.46" height="13.83" fill="#3eca8f"/>
<rect x="1686.36" y="436.47" width="5.46" height="13.83" fill="#37c897"/>
<rect x="1691.22" y="436.47" width="5.46" height="13.83" fill="#31c6a0"/>
<rect x="1696.07" y="436.47" width="5.46" height="13.83" fill="#2ac3a9"/>
<rect x="1700.93" y="436.47" width="5.46" height="13.83" fill="#1fc0b2"/>
<rect x="1705.78" y="436.47" width="5.46" height="13.83" fill="#0fbeba"/>
<rect x="1710.64" y="436.47" width="5.46" height="13.83" fill="#02bbc3"/>
<rect x="1715.50" y="436.47" width="5.46" height="13.83" fill="#03b7cc"/>
<rect x="1720.35" y="436.47" width="5.46" height="13.83" fill="#10b2d5"/>
<rect x="1725.21" y="436.47" width="5.46" height="13.83" fill="#1aacdd"/>
<rect x="1730.06" y="436.47" width="5.46" height="13.83" fill="#20a5e3"/>
<rect x="1734.92" y="436.47" width="5.46" height="13.83" fill="#259ce7"/>
<rect x="1739.78" y="436.47" width="5.46" height="13.83" fill="#2c90f0"/>
<rect x="1744.63" y="436.47" width="5.46" height="13.83" fill="#2f82fa"/>
<rect x="1749.49" y="436.47" width="5.46" height="13.83" fill="#3975fe"/>
<rect x="1754.34" y="436.47" width="5.46" height="13.83" fill="#4367fd"/>
<rect x="1759.20" y="436.47" width="5.46" height="13.83" fill="#4660fc"/>
<rect x="1764.06" y="436.47" width="10.31" height="13.83" fill="#465ffb"/>
<rect x="1773.77" y="436.47" width="5.46" height="13.83" fill="#3d70ff"/>
<rect x="1778.62" y="436.47" width="5.46" height="13.83" fill="#1da9e0"/>
<rect x="1783.48" y="436.47" width="5.46" height="13.83" fill="#00b9c6"/>
<rect x="1788.34" y="436.47" width="5.46" height="13.83" fill="#25c2ae"/>
<rect x="1793.19" y="436.47" width="5.46" height="13.83" fill="#39c994"/>
<rect x="1798.05" y="436.47" width="5.46" height="13.83" fill="#6dcd67"/>
<rect x="1802.90" y="436.47" width="5.46" height="13.83" fill="#b4c533"/>
<rect x="1807.76" y="436.47" width="5.46" height="13.83" fill="#e6bb2d"/>
<rect x="1812.62" y="436.47" width="5.46" height="13.83" fill="#f7ba3d"/>
<rect x="1817.47" y="436.47" width="5.46" height="13.83" fill="#febe3c"/>
<rect x="1822.33" y="436.47" width="5.46" height="13.83" fill="#fec239"/>
<rect x="1827.18" y="436.47" width="5.46" height="13.83" fill="#fec437"/>
<rect x="1832.04" y="436.47" width="5.46" height="13.83" fill="#fec636"/>
<rect x="1836.90" y="436.47" width="5.46" height="13.83" fill="#fec835"/>
<rect x="1841.75" y="436.47" width="5.46" height="13.83" fill="#fecb33"/>
<rect x="1846.61" y="436.47" width="5.46" height="13.83" fill="#fccf30"/>
<rect x="1851.46" y="436.47" width="5.46" height="13.83" fill="#fbd32e"/>
<rect x="1856.32" y="436.47" width="5.46" height="13.83" fill="#f9d72c"/>
<rect x="1861.18" y="436.47" width="5.46" height="13.83" fill="#f8da2b"/>
<rect x="1866.03" y="436.47" width="5.46" height="13.83" fill="#f7dd2a"/>
<rect x="1870.89" y="436.47" width="5.46" height="13.83" fill="#f6df29"/>
<rect x="1875.74" y="436.47" width="5.46" height="13.83" fill="#f5e128"/>
</g>
<path d="M1589.6 19.8 L1589.5 21.8 L1589.4 23.8 L1589.3 25.8 L1589.2 27.8 L1589.1 29.8 L1589.0 31.8 L1588.8 33.8 L1588.7 35.8 L1588.5 37.8 L1588.4 39.8 L1588.3 41.8 L1588.1 43.8 L1588.0 45.8 L1587.8 47.8 L1587.6 49.8 L1587.5 51.8 L1587.3 53.8 L1587.1 55.8 L1586.9 57.8 L1586.7 59.8 L1586.5 61.8 L1586.3 63.8 L1586.0 65.8 L1585.7 67.8 L1585.5 69.8 L1585.2 71.8 L1584.9 73.8 L1584.6 75.8 L1584.3 77.8 L1584.1 79.8 L1583.8 81.8 L1583.5 83.8 L1583.2 85.8 L1583.0 87.8 L1582.8 89.8 L1582.5 91.8 L1582.3 93.8 L1582.2 95.8 L1582.0 97.8 L1581.9 99.8 L1581.8 101.8 L1581.6 103.8 L1581.5 105.8 L1581.4 107.8 L1581.3 109.8 L1581.2 111.8 L1581.1 113.8 L1581.0 115.8 L1580.9 117.8 L1580.8 119.8 L1580.7 121.8 L1580.6 123.8 L1580.5 125.8 L1580.5 127.8 L1580.4 129.8 L1580.3 131.8 L1580.2 133.8 L1580.2 135.8 L1580.1 137.8 L1580.0 139.8 L1579.9 141.8 L1579.9 143.8 L1579.8 145.8 L1579.7 147.8 L1579.7 149.8 L1579.6 151.8 L1579.6 153.8 L1579.5 155.8 L1579.5 157.8 L1579.4 159.8 L1579.3 161.8 L1579.3 163.8 L1579.2 165.8 L1579.2 167.8 L1579.1 169.8 L1579.1 171.8 L1579.0 173.8 L1578.9 175.8 L1578.9 177.8 L1578.8 179.8 L1578.7 181.8 L1578.6 183.8 L1578.5 185.8 L1578.4 187.8 L1578.3 189.8 L1578.2 191.8 L1578.1 193.8 L1577.9 195.8 L1577.8 197.8 L1577.6 199.8 L1577.5 201.8 L1577.3 203.8 L1577.2 205.8 L1577.1 207.8 L1576.9 209.8 L1576.8 211.8 L1576.6 213.8 L1576.5 215.8 L1576.4 217.8 L1576.2 219.8 L1576.1 221.8 L1576.0 223.8 L1575.9 225.8 L1575.8 227.8 L1575.7 229.8 L1575.6 231.8 L1575.6 233.8 L1575.5 235.8 L1575.4 237.8 L1575.4 239.8 L1575.3 241.8 L1575.3 243.8 L1575.2 245.8 L1575.2 247.8 L1575.1 249.8 L1575.1 251.8 L1575.0 253.8 L1575.0 255.8 L1574.9 257.8 L1574.9 259.8 L1574.8 261.8 L1574.7 263.8 L1574.7 265.8 L1574.6 267.8 L1574.6 269.8 L1574.5 271.8 L1574.4 273.8 L1574.4 275.8 L1574.3 277.8 L1574.2 279.8 L1574.2 281.8 L1574.1 283.8 L1574.0 285.8 L1574.0 287.8 L1573.9 289.8 L1573.8 291.8 L1573.7 293.8 L1573.7 295.8 L1573.6 297.8 L1573.5 299.8 L1573.4 301.8 L1573.3 303.8 L1573.2 305.8 L1573.1 307.8 L1573.0 309.8 L1572.9 311.8 L1572.8 313.8 L1572.7 315.8 L1572.5 317.8 L1572.3 319.8 L1572.1 321.8 L1571.9 323.8 L1571.7 325.8 L1571.5 327.8 L1571.2 329.8 L1571.0 331.8 L1570.8 333.8 L1570.6 335.8 L1570.5 337.8 L1570.4 339.8 L1570.3 341.8 L1570.3 343.8 L1570.3 345.8 L1570.3 347.8 L1570.3 349.8 L1570.3 351.8 L1570.3 353.8 L1570.3 355.8 L1570.3 357.8 L1570.3 359.8 L1570.3 361.8 L1570.3 363.8 L1570.3 365.8 L1570.3 367.8 L1570.3 369.8 L1570.3 371.8 L1570.3 373.8 L1570.3 375.8 L1570.3 377.8 L1570.3 379.8 L1570.3 381.8 L1570.3 383.8 L1570.3 385.8 L1570.3 387.8 L1570.3 389.8 L1570.3 391.8 L1570.3 393.8 L1570.3 395.8 L1570.3 397.8 L1570.3 399.8 L1570.3 401.8 L1570.3 403.8 L1570.3 405.8 L1570.3 407.8 L1570.3 409.8 L1570.3 411.8 L1570.3 413.8 L1570.3 415.8 L1570.3 417.8 L1570.3 419.8 L1570.3 421.8 L1570.3 423.8 L1570.3 425.8 L1570.3 427.8 L1570.3 429.8 L1570.3 431.8 L1570.3 433.8 L1570.3 435.8 L1570.3 437.8 L1570.3 439.8 L1570.3 441.8 L1570.3 443.8 L1570.3 445.8 L1570.3 447.8 L1570.3 449.8" fill="none" stroke="#4deeff" stroke-width="4"/>
<path d="M1614.4 19.8 L1614.7 21.8 L1615.1 23.8 L1615.4 25.8 L1615.7 27.8 L1616.1 29.8 L1616.5 31.8 L1616.8 33.8 L1617.2 35.8 L1617.5 37.8 L1617.9 39.8 L1618.3 41.8 L1618.7 43.8 L1619.0 45.8 L1619.4 47.8 L1619.8 49.8 L1620.2 51.8 L1620.6 53.8 L1621.0 55.8 L1621.4 57.8 L1621.9 59.8 L1622.3 61.8 L1622.8 63.8 L1623.3 65.8 L1623.8 67.8 L1624.4 69.8 L1624.9 71.8 L1625.4 73.8 L1626.0 75.8 L1626.5 77.8 L1627.1 79.8 L1627.6 81.8 L1628.2 83.8 L1628.7 85.8 L1629.2 87.8 L1629.8 89.8 L1630.3 91.8 L1630.9 93.8 L1631.5 95.8 L1632.0 97.8 L1632.6 99.8 L1633.2 101.8 L1633.9 103.8 L1634.5 105.8 L1635.2 107.8 L1635.9 109.8 L1636.6 111.8 L1637.3 113.8 L1638.0 115.8 L1638.8 117.8 L1639.5 119.8 L1640.3 121.8 L1641.1 123.8 L1641.9 125.8 L1642.7 127.8 L1643.6 129.8 L1644.5 131.8 L1645.4 133.8 L1646.3 135.8 L1647.2 137.8 L1648.1 139.8 L1649.0 141.8 L1649.9 143.8 L1650.8 145.8 L1651.7 147.8 L1652.6 149.8 L1653.5 151.8 L1654.4 153.8 L1655.3 155.8 L1656.2 157.8 L1657.1 159.8 L1658.1 161.8 L1659.0 163.8 L1660.0 165.8 L1661.0 167.8 L1662.1 169.8 L1663.1 171.8 L1664.2 173.8 L1665.3 175.8 L1666.4 177.8 L1667.5 179.8 L1668.6 181.8 L1669.8 183.8 L1670.9 185.8 L1672.0 187.8 L1673.1 189.8 L1674.3 191.8 L1675.4 193.8 L1676.6 195.8 L1677.7 197.8 L1678.9 199.8 L1680.0 201.8 L1681.1 203.8 L1682.2 205.8 L1683.2 207.8 L1684.2 209.8 L1685.1 211.8 L1686.0 213.8 L1686.9 215.8 L1687.8 217.8 L1688.7 219.8 L1689.6 221.8 L1690.5 223.8 L1691.4 225.8 L1692.4 227.8 L1693.4 229.8 L1694.5 231.8 L1695.6 233.8 L1696.8 235.8 L1697.9 237.8 L1699.2 239.8 L1700.4 241.8 L1701.7 243.8 L1702.9 245.8 L1704.1 247.8 L1705.4 249.8 L1706.6 251.8 L1707.8 253.8 L1709.0 255.8 L1710.3 257.8 L1711.5 259.8 L1712.7 261.8 L1713.9 263.8 L1715.1 265.8 L1716.3 267.8 L1717.5 269.8 L1718.6 271.8 L1719.7 273.8 L1720.7 275.8 L1721.8 277.8 L1722.8 279.8 L1723.9 281.8 L1724.9 283.8 L1725.8 285.8 L1726.8 287.8 L1727.7 289.8 L1728.7 291.8 L1729.6 293.8 L1730.4 295.8 L1731.3 297.8 L1732.1 299.8 L1732.9 301.8 L1733.7 303.8 L1734.5 305.8 L1735.2 307.8 L1736.0 309.8 L1736.8 311.8 L1737.5 313.8 L1738.3 315.8 L1739.0 317.8 L1739.8 319.8 L1740.5 321.8 L1741.3 323.8 L1742.0 325.8 L1742.7 327.8 L1743.4 329.8 L1744.1 331.8 L1744.8 333.8 L1745.5 335.8 L1746.1 337.8 L1746.7 339.8 L1747.4 341.8 L1748.0 343.8 L1748.6 345.8 L1749.2 347.8 L1749.8 349.8 L1750.3 351.8 L1750.9 353.8 L1751.4 355.8 L1752.0 357.8 L1752.5 359.8 L1753.0 361.8 L1753.5 363.8 L1754.0 365.8 L1754.5 367.8 L1755.0 369.8 L1755.4 371.8 L1755.9 373.8 L1756.3 375.8 L1756.8 377.8 L1757.2 379.8 L1757.7 381.8 L1758.1 383.8 L1758.6 385.8 L1759.0 387.8 L1759.4 389.8 L1759.8 391.8 L1760.2 393.8 L1760.5 395.8 L1760.8 397.8 L1761.0 399.8 L1761.3 401.8 L1761.5 403.8 L1761.8 405.8 L1762.0 407.8 L1762.2 409.8 L1762.4 411.8 L1762.5 413.8 L1762.7 415.8 L1762.8 417.8 L1762.9 419.8 L1763.1 421.8 L1763.2 423.8 L1763.3 425.8 L1763.4 427.8 L1763.5 429.8 L1763.6 431.8 L1763.7 433.8 L1763.8 435.8 L1763.8 437.8 L1763.9 439.8 L1764.0 441.8 L1764.0 443.8 L1764.1 445.8 L1764.1 447.8 L1764.1 449.8" fill="none" stroke="#d95319" stroke-width="4.5"/>
<path d="M1730.5 53.6H1782.7" stroke="#dd5519" stroke-width="4.6"/>
<path d="M1730.5 79.2H1782.7" stroke="#4df0ff" stroke-width="4.6"/>
<text x="1794.6" y="58.2" class="cl">E-QBIC</text>
<text x="1792.1" y="86.2" class="cl">M-QBIC</text>
<rect x="1395.0" y="20.3" width="485.6" height="429.6" fill="none" stroke="#15151d" stroke-width="3.3"/>
<path d="M1492.1 449.9v-6M1492.1 20.3v6M1589.2 449.9v-6M1589.2 20.3v6M1686.4 449.9v-6M1686.4 20.3v6M1783.5 449.9v-6M1783.5 20.3v6M1395.0 91.9h6M1880.6 91.9h-6M1395.0 163.5h6M1880.6 163.5h-6M1395.0 235.1h6M1880.6 235.1h-6M1395.0 306.7h6M1880.6 306.7h-6M1395.0 378.3h6M1880.6 378.3h-6" stroke="#15151d" stroke-width="2.8" fill="none"/>
<text x="1397.3" y="478.5" text-anchor="middle" class="tk">1500</text>
<text x="1496.4" y="478.5" text-anchor="middle" class="tk">1520</text>
<text x="1591.0" y="478.5" text-anchor="middle" class="tk">1540</text>
<text x="1685.6" y="478.5" text-anchor="middle" class="tk">1560</text>
<text x="1787.1" y="478.5" text-anchor="middle" class="tk">1580</text>
<text x="1876.7" y="478.5" text-anchor="middle" class="tk">1600</text>
<text x="1389" y="29.9" text-anchor="end" class="tk">90</text>
<text x="1389" y="103.1" text-anchor="end" class="tk">75</text>
<text x="1389" y="174.7" text-anchor="end" class="tk">60</text>
<text x="1389" y="246.3" text-anchor="end" class="tk">45</text>
<text x="1389" y="317.9" text-anchor="end" class="tk">30</text>
<text x="1389" y="389.5" text-anchor="end" class="tk">15</text>
<text x="1651.2" y="516.5" text-anchor="middle" class="al" style="font-size:28.1px">Wavelength, nm</text>
<text transform="translate(1335.5 302.5) rotate(-90)" class="al" style="font-size:28px"><tspan style="font-size:40px">φ</tspan>, degrees</text>
<text x="1300.5" y="32.7" class="pl">(C)</text>
<defs><linearGradient id="cb" x1="0" y1="1" x2="0" y2="0">
<stop offset="0.0000" stop-color="#3e26a8"/>
<stop offset="0.0156" stop-color="#402ab4"/>
<stop offset="0.0312" stop-color="#422ebf"/>
<stop offset="0.0469" stop-color="#4332ca"/>
<stop offset="0.0625" stop-color="#4536d5"/>
<stop offset="0.0781" stop-color="#463bdd"/>
<stop offset="0.0938" stop-color="#4741e5"/>
<stop offset="0.1094" stop-color="#4746eb"/>
<stop offset="0.1250" stop-color="#484cef"/>
<stop offset="0.1406" stop-color="#4852f4"/>
<stop offset="0.1562" stop-color="#4757f7"/>
<stop offset="0.1719" stop-color="#475dfa"/>
<stop offset="0.1875" stop-color="#4562fc"/>
<stop offset="0.2031" stop-color="#4368fe"/>
<stop offset="0.2188" stop-color="#3f6eff"/>
<stop offset="0.2344" stop-color="#3a74ff"/>
<stop offset="0.2500" stop-color="#347afd"/>
<stop offset="0.2656" stop-color="#2f80fb"/>
<stop offset="0.2812" stop-color="#2e85f8"/>
<stop offset="0.2969" stop-color="#2d8bf4"/>
<stop offset="0.3125" stop-color="#2c90f0"/>
<stop offset="0.3281" stop-color="#2895ec"/>
<stop offset="0.3438" stop-color="#269ae9"/>
<stop offset="0.3594" stop-color="#249ee6"/>
<stop offset="0.3750" stop-color="#21a3e3"/>
<stop offset="0.3906" stop-color="#1ea7e1"/>
<stop offset="0.4062" stop-color="#1aacdd"/>
<stop offset="0.4219" stop-color="#15b0d8"/>
<stop offset="0.4375" stop-color="#0cb3d3"/>
<stop offset="0.4531" stop-color="#03b6cd"/>
<stop offset="0.4688" stop-color="#00b9c6"/>
<stop offset="0.4844" stop-color="#05bcc0"/>
<stop offset="0.5000" stop-color="#12beb9"/>
<stop offset="0.5156" stop-color="#1ec0b2"/>
<stop offset="0.5312" stop-color="#28c2ab"/>
<stop offset="0.5469" stop-color="#2ec5a4"/>
<stop offset="0.5625" stop-color="#34c79c"/>
<stop offset="0.5781" stop-color="#3ac993"/>
<stop offset="0.5938" stop-color="#43cb8a"/>
<stop offset="0.6094" stop-color="#4fcc80"/>
<stop offset="0.6250" stop-color="#5ccc76"/>
<stop offset="0.6406" stop-color="#69cd6b"/>
<stop offset="0.6562" stop-color="#77cc60"/>
<stop offset="0.6719" stop-color="#85cb55"/>
<stop offset="0.6875" stop-color="#94ca4a"/>
<stop offset="0.7031" stop-color="#a2c840"/>
<stop offset="0.7188" stop-color="#afc636"/>
<stop offset="0.7344" stop-color="#bcc42f"/>
<stop offset="0.7500" stop-color="#c8c129"/>
<stop offset="0.7656" stop-color="#d4bf27"/>
<stop offset="0.7812" stop-color="#debc29"/>
<stop offset="0.7969" stop-color="#e8bb2f"/>
<stop offset="0.8125" stop-color="#f1ba37"/>
<stop offset="0.8281" stop-color="#f9ba3e"/>
<stop offset="0.8438" stop-color="#febe3c"/>
<stop offset="0.8594" stop-color="#fec437"/>
<stop offset="0.8750" stop-color="#feca33"/>
<stop offset="0.8906" stop-color="#fcd030"/>
<stop offset="0.9062" stop-color="#f9d62d"/>
<stop offset="0.9219" stop-color="#f7dd2a"/>
<stop offset="0.9375" stop-color="#f5e327"/>
<stop offset="0.9531" stop-color="#f5e924"/>
<stop offset="0.9688" stop-color="#f6ef20"/>
<stop offset="0.9844" stop-color="#f7f51b"/>
<stop offset="1.0000" stop-color="#f9fb15"/>
</linearGradient></defs>
<rect x="1923.8" y="20.3" width="26.2" height="429.6" fill="url(#cb)" stroke="#1a1a1a" stroke-width="3.2"/>
<text x="1957.5" y="440.5" class="tk">0</text>
<text x="1957.5" y="355.9" class="tk">0.2</text>
<text x="1957.5" y="271.3" class="tk">0.4</text>
<text x="1957.5" y="186.6" class="tk">0.6</text>
<text x="1957.5" y="102.0" class="tk">0.8</text>
<path d="M1950.0 431.5h-6M1950.0 346.9h-6M1950.0 262.3h-6M1950.0 177.6h-6M1950.0 93.0h-6" stroke="#1a1a1a" stroke-width="2.8" fill="none"/>
<text transform="translate(1910.3 243.2) rotate(-90)" text-anchor="middle" class="al" style="font-size:29.2px">Transmittance</text>
</svg>
</body></html>
